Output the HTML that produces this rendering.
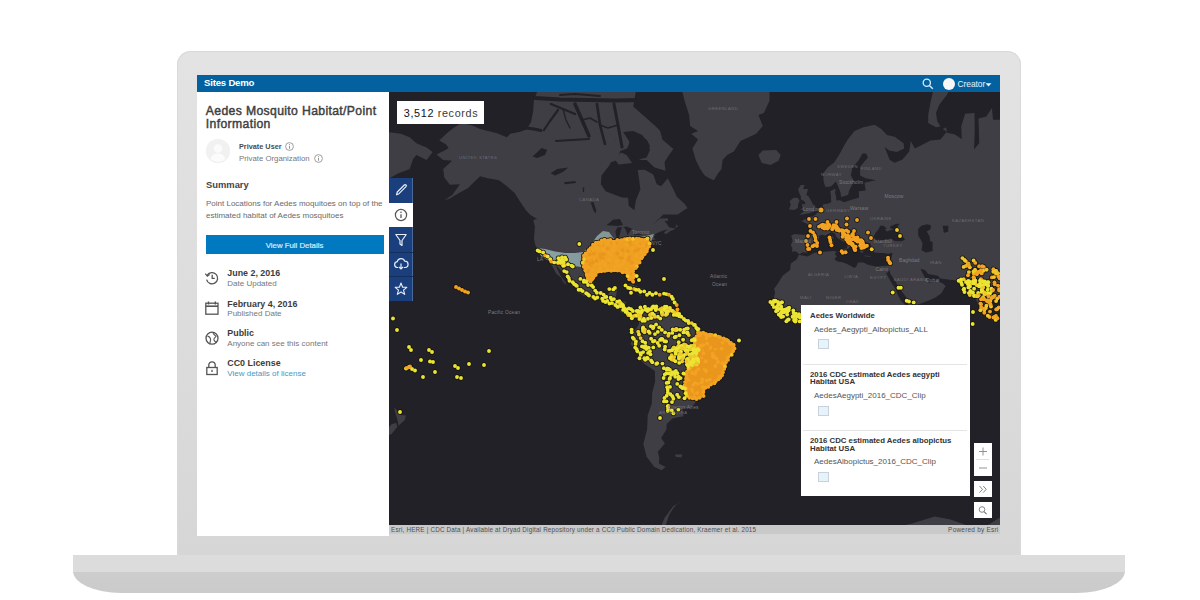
<!DOCTYPE html>
<html><head><meta charset="utf-8">
<style>
*{margin:0;padding:0;box-sizing:border-box}
html,body{width:1200px;height:600px;background:#fff;overflow:hidden;font-family:"Liberation Sans",sans-serif;position:relative}
.abs{position:absolute}
.t{position:absolute;line-height:1;white-space:nowrap}
#frame{left:177px;top:51px;width:844px;height:505px;background:linear-gradient(#e3e3e3,#dedede 40%,#d6d6d6);border-radius:14px 14px 0 0;box-shadow:inset 0 0 0 1px #d9d9d9}
#frame2{display:none}
#base{left:73px;top:555px;width:1052px;height:38px;border-radius:0 0 48px 48px/0 0 22px 22px;background:linear-gradient(#dcdcdc 0,#dcdcdc 17px,#cdcdcd 17px,#cbcbcb 100%)}
</style></head><body>
<div id="frame" class="abs"></div>
<div id="frame2" class="abs"></div>
<div id="base" class="abs"></div>
<div class="abs" style="left:197px;top:75px;width:803px;height:17px;background:#0461a0"></div>
<div class="t" style="left:204.0px;top:78.37px;font-size:9.6px;font-weight:bold;color:#fff;letter-spacing:-0.2px;">Sites Demo</div>

<div class="abs" style="left:197px;top:92px;width:192px;height:444px;background:#fff"></div>
<div class="t" style="left:205.8px;top:104.77px;font-size:12.2px;font-weight:normal;color:#404040;letter-spacing:0.36px;-webkit-text-stroke:0.45px #404040">Aedes Mosquito Habitat/Point</div>

<div class="t" style="left:205.8px;top:118.07px;font-size:12.2px;font-weight:normal;color:#404040;letter-spacing:0.36px;-webkit-text-stroke:0.45px #404040">Information</div>

<div class="abs" style="left:206px;top:139px;width:24px;height:24px;border-radius:50%;background:#f2f2f2"></div>
<div class="t" style="left:239.0px;top:142.72px;font-size:7.3px;font-weight:bold;color:#4a4a4a;letter-spacing:0px;">Private User</div>

<div class="t" style="left:239.0px;top:155.30px;font-size:7.8px;font-weight:normal;color:#777;letter-spacing:0px;">Private Organization</div>

<div class="t" style="left:206.0px;top:179.64px;font-size:9.4px;font-weight:bold;color:#444;letter-spacing:0px;">Summary</div>

<div class="t" style="left:206.0px;top:199.93px;font-size:8.0px;font-weight:normal;color:#6a6a6a;letter-spacing:0px;">Point Locations for Aedes moquitoes on top of the</div>

<div class="t" style="left:206.0px;top:211.63px;font-size:8.0px;font-weight:normal;color:#6a6a6a;letter-spacing:0px;">estimated habitat of Aedes mosquitoes</div>

<div class="abs" style="left:206px;top:235px;width:178px;height:19px;background:#0079c1"></div>
<div class="t" style="left:265.8px;top:241.80px;font-size:7.8px;font-weight:normal;color:#d6ecfb;letter-spacing:0px;-webkit-text-stroke:0.2px #d6ecfb">View Full Details</div>

<div class="t" style="left:227.3px;top:269.37px;font-size:8.9px;font-weight:bold;color:#3c3c3c;letter-spacing:0px;">June 2, 2016</div>

<div class="t" style="left:227.3px;top:279.53px;font-size:8.0px;font-weight:normal;color:#777;letter-spacing:0px;">Date Updated</div>

<div class="t" style="left:227.3px;top:299.62px;font-size:8.9px;font-weight:bold;color:#3c3c3c;letter-spacing:0px;">February 4, 2016</div>

<div class="t" style="left:227.3px;top:309.93px;font-size:8.0px;font-weight:normal;color:#777;letter-spacing:0px;">Published Date</div>

<div class="t" style="left:227.3px;top:328.77px;font-size:8.9px;font-weight:bold;color:#3c3c3c;letter-spacing:0px;">Public</div>

<div class="t" style="left:227.3px;top:339.93px;font-size:8.0px;font-weight:normal;color:#777;letter-spacing:0px;">Anyone can see this content</div>

<div class="t" style="left:227.3px;top:359.17px;font-size:8.9px;font-weight:bold;color:#3c3c3c;letter-spacing:0px;">CC0 License</div>

<div class="t" style="left:227.3px;top:369.73px;font-size:8.0px;font-weight:normal;color:#3f9ac4;letter-spacing:0px;">View details of license</div>

<div class="abs" id="map" style="left:389px;top:92px;width:611px;height:433px;background:#222127;overflow:hidden"><svg width="611" height="433" viewBox="0 0 611 433" style="position:absolute;left:0;top:0;filter:blur(0.4px)">
<g fill="#3f3e44"><path d="M478.9 445.6L501.2 436.7L523.6 431.2L545.9 424.4L561.6 427.5L579.5 433.9L583.9 442.5L597.3 433.9L613.0 424.4L635.3 420.8L635.3 524.1L478.9 524.1Z"/><path d="M136.9 -11.9L136.9 38.9L161.5 46.9L181.6 50.2L204.0 52.3L210.7 50.2L221.9 48.6L233.0 45.8L239.7 41.8L244.2 38.9L266.6 50.2L273.3 47.5L271.0 38.9L266.6 34.6L253.1 22.4L244.2 14.7L248.7 -11.9Z"/><path d="M539.2 30.9L547.0 35.2L551.5 34.6L548.2 29.0L547.0 21.0L550.4 12.5L558.2 2.5L561.6 -5.8L548.2 -7.5L543.7 0.9L541.5 10.2L539.2 23.0Z"/><path d="M553.7 37.1L558.2 40.0L557.1 35.2Z"/><path d="M47.5 62.6L56.5 58.1L59.6 56.0L56.9 52.3L50.2 48.6L58.7 40.6L65.4 35.2L72.6 30.9L83.3 33.4L91.1 37.1L107.9 41.2L117.9 45.2L121.3 41.8L130.2 40.0L136.9 37.7L144.3 37.7L152.6 41.8L161.5 45.2L170.4 48.0L181.6 49.1L190.6 50.2L204.0 51.3L210.7 49.1L212.9 41.8L211.8 27.0L217.4 24.4L220.7 41.8L226.3 47.5L233.0 43.5L239.7 41.8L240.8 55.5L231.2 59.1L228.6 67.9L221.9 70.2L220.3 73.4L212.5 83.4L211.8 92.3L216.7 99.2L226.3 102.9L233.0 105.4L239.1 105.7L239.7 113.7L245.3 118.3L246.9 108.2L251.4 97.3L249.8 85.5L248.7 77.8L257.6 77.0L264.3 82.6L267.7 92.3L272.1 94.3L278.8 86.3L284.4 97.3L287.8 104.7L295.6 111.7L298.5 116.0L293.4 119.3L288.9 122.5L274.4 122.5L268.8 127.8L264.3 132.6L271.0 126.6L278.8 126.3L279.3 128.4L275.5 129.3L278.2 132.3L280.0 135.3L285.5 136.5L288.9 134.4L287.8 132.3L285.5 137.6L281.1 139.3L276.6 142.4L275.0 140.2L279.3 137.3L273.3 138.8L268.8 140.8L266.1 142.2L264.8 145.8L266.6 147.4L263.2 148.2L258.1 149.8L257.6 150.6L257.4 153.3L255.4 155.1L254.3 157.2L253.1 159.7L254.3 164.3L251.4 165.5L248.9 167.2L246.0 169.2L242.4 172.1L241.1 175.6L243.1 181.5L244.0 186.0L242.2 188.0L240.2 185.8L238.2 181.5L238.4 178.4L236.4 177.0L232.4 177.5L229.7 175.9L226.3 175.6L223.0 176.3L223.6 179.1L220.7 178.9L218.5 178.0L212.9 178.0L210.0 179.4L205.8 181.9L205.1 187.1L204.4 193.8L205.8 198.2L208.4 201.4L211.8 203.1L217.4 202.3L219.6 202.3L221.0 197.1L228.3 196.0L227.4 202.5L225.6 207.8L230.8 208.0L237.0 209.9L236.4 216.2L237.5 220.3L240.8 222.4L245.3 221.3L249.8 223.2L250.2 224.0L247.6 225.8L243.1 225.8L239.7 224.0L231.5 220.3L230.8 217.2L227.4 214.1L223.0 213.0L217.4 210.9L211.8 207.6L206.2 208.2L199.9 206.1L195.0 203.8L187.2 199.2L187.9 196.0L185.0 192.3L180.5 187.6L176.0 182.6L172.2 179.1L166.6 172.8L168.2 176.8L171.6 183.7L176.5 190.5L177.4 192.9L173.8 189.4L172.5 186.0L167.1 181.5L164.4 176.3L161.3 170.9L158.2 167.2L153.5 165.8L150.6 160.8L149.2 157.7L146.3 153.3L145.0 146.6L145.9 134.7L144.3 128.1L148.1 126.9L141.4 123.1L136.9 118.3L131.3 109.9L125.7 101.0L117.9 94.3L110.1 88.3L98.9 86.3L91.1 84.2L84.4 90.7L78.8 96.2L69.9 101.0L60.9 106.5L55.3 108.2L63.2 102.9L71.0 92.3L60.9 92.7L55.3 85.5L54.2 77.0L63.2 68.8L54.2 67.9L47.5 62.6Z"/><path d="M276.6 79.6L265.4 75.6L257.6 67.9L249.8 67.9L261.0 53.9L257.6 47.5L245.3 41.8L233.0 40.0L221.9 29.6L226.3 16.1L244.2 14.7L253.1 22.4L266.6 34.6L271.0 38.9L273.3 47.5L284.4 57.0L280.0 63.1L275.5 70.2L276.6 79.6Z"/><path d="M197.3 43.5L189.4 46.3L169.3 46.9L160.4 41.8L158.2 29.6L161.5 19.6L177.2 22.4L188.3 19.6L196.1 29.6L197.3 43.5Z"/><path d="M142.5 26.4L153.7 31.5L161.5 26.4L159.3 11.0L145.9 10.2L142.5 26.4Z"/><path d="M204.0 16.1L197.3 24.4L206.2 29.6L208.4 23.0L214.0 12.5L204.0 13.2Z"/><path d="M210.7 23.0L221.9 25.1L224.1 13.9L210.7 11.0Z"/><path d="M217.4 6.4L244.2 8.7L244.2 -11.9L217.4 -11.9Z"/><path d="M163.7 8.7L188.3 4.9L190.6 -11.9L159.3 -11.9Z"/><path d="M195.0 4.9L208.4 6.4L212.9 -7.5L195.0 -7.5Z"/><path d="M229.7 72.5L243.1 71.1L237.5 63.1L231.9 60.6L226.3 67.9Z"/><path d="M324.9 88.3L329.1 81.3L332.5 77.0L333.6 67.9L338.1 63.1L344.8 59.6L351.5 49.1L367.1 41.8L373.8 34.0L369.4 23.0L374.9 21.0L380.5 8.7L380.5 -21.3L284.4 -21.3L293.4 0.1L295.6 8.7L300.1 23.0L301.2 34.0L309.0 38.9L302.3 41.8L309.0 47.5L303.4 56.5L306.8 67.9L311.2 77.0L315.7 83.4L321.3 86.7L324.9 88.3Z"/><path d="M369.4 63.1L373.8 58.6L387.2 58.1L391.7 63.1L389.5 68.8L381.7 72.9L372.7 71.1L369.4 63.1Z"/><path d="M485.6 32.8L492.3 37.1L497.9 42.9L505.7 44.7L514.6 51.3L515.1 56.5L507.9 60.1L500.1 58.6L495.6 55.0L500.8 67.9L505.7 70.7L513.5 67.4L520.2 59.6L521.8 49.1L525.8 56.5L541.5 48.6L551.5 47.5L557.1 40.6L566.0 42.4L572.7 46.9L572.3 34.0L576.1 21.7L585.5 21.0L585.7 38.9L585.0 57.6L590.2 51.3L589.5 26.4L597.3 24.4L602.9 16.1L604.0 27.7L610.7 27.7L617.4 12.5L646.5 -21.3L646.5 220.3L635.3 207.8L628.6 193.8L617.4 196.0L615.2 199.2L610.7 202.9L606.3 206.7L602.5 208.8L602.2 214.1L601.4 219.7L596.2 224.2L593.5 221.3L590.2 214.5L586.2 205.7L585.7 201.4L585.3 196.0L579.5 194.0L576.1 191.6L572.7 188.7L560.5 187.8L551.5 186.5L548.8 183.7L539.2 181.9L535.9 178.0L531.4 176.8L535.9 185.6L538.1 187.1L539.2 190.5L544.8 190.0L548.8 188.5L549.1 185.1L549.3 189.4L554.0 191.4L556.7 194.0L552.2 201.4L545.9 205.7L539.2 208.8L530.3 212.0L520.2 214.7L519.1 210.9L518.4 206.7L510.2 196.0L505.7 188.3L501.2 181.5L500.3 178.0L497.9 181.5L495.9 177.0L495.2 174.0L499.4 173.7L501.2 169.7L503.0 163.5L503.5 160.8L499.0 161.8L494.5 161.0L491.2 161.0L485.6 160.5L482.2 155.9L481.6 151.7L476.6 149.8L474.4 151.4L473.5 153.3L475.5 157.2L473.3 161.3L471.1 159.7L469.9 155.9L466.6 152.0L466.4 147.1L464.3 145.2L458.8 142.4L455.4 137.6L453.6 136.2L450.5 137.3L450.7 140.5L453.4 142.4L458.8 147.9L464.3 151.2L461.0 154.6L458.8 157.2L457.9 156.4L458.3 152.0L454.7 149.8L450.9 147.4L447.6 145.2L446.0 141.6L442.7 139.9L439.8 141.6L436.4 143.6L433.1 142.7L429.9 143.8L430.2 146.9L425.0 149.3L422.3 153.5L423.4 155.4L421.4 158.2L418.3 160.5L413.2 160.5L410.5 162.3L408.9 161.0L406.5 159.2L403.1 159.7L403.3 155.4L401.8 153.5L403.6 148.8L402.2 143.8L405.1 141.9L412.9 142.7L419.0 142.7L420.3 135.3L418.1 131.7L412.5 129.3L416.3 126.9L419.4 127.2L420.1 124.1L423.4 124.7L426.6 122.5L429.7 119.3L433.1 115.7L434.2 112.3L438.6 111.7L442.2 110.3L442.0 104.7L441.3 99.2L446.5 96.6L446.2 101.0L447.1 104.7L447.4 108.6L450.9 108.2L455.0 110.3L464.3 107.2L469.9 105.7L469.9 99.2L476.6 98.4L475.5 90.7L486.7 88.3L476.6 86.3L471.1 83.4L471.1 74.7L478.9 65.5L477.1 61.6L473.3 61.6L469.9 67.9L463.2 76.1L461.9 83.4L465.0 89.1L459.9 99.2L459.2 102.9L452.1 105.0L451.6 100.7L448.7 93.5L446.9 89.5L442.0 94.6L436.4 95.0L434.6 89.5L434.2 81.3L438.6 75.6L445.4 70.2L450.9 61.6L455.4 52.9L458.8 47.5L465.5 38.9L474.4 35.2L485.6 32.8Z"/><path d="M410.3 122.8L415.2 122.2L420.8 120.9L426.1 119.3L425.0 117.4L426.8 114.4L423.7 112.0L421.9 108.2L419.4 104.3L417.4 102.9L419.0 96.9L414.1 96.9L415.6 93.1L411.8 93.1L409.1 97.3L410.5 101.8L412.0 104.7L411.8 107.2L415.8 109.6L416.3 112.0L412.7 112.3L413.8 115.7L411.4 117.4L415.8 118.7L410.3 122.8Z"/><path d="M408.9 116.0L409.1 112.3L410.7 108.2L408.5 105.7L404.4 105.7L400.6 109.3L401.8 112.7L400.0 117.4L405.1 118.0L408.9 116.0Z"/><path d="M441.3 149.3L444.5 148.8L444.9 153.3L443.1 154.9L441.8 154.3Z"/><path d="M442.2 146.0L444.0 143.8L444.5 146.3L443.6 148.2L442.4 147.4Z"/><path d="M450.7 157.2L457.9 156.4L456.7 160.5L450.9 158.2Z"/><path d="M475.5 163.5L481.8 164.0L481.1 164.8L475.7 164.3Z"/><path d="M495.2 165.0L500.3 163.0L499.0 165.8L495.6 165.8Z"/><path d="M409.8 162.8L418.5 164.5L425.2 161.0L429.7 160.3L437.5 159.5L444.9 159.0L447.6 159.7L445.8 162.3L447.8 164.3L445.4 167.2L448.7 169.4L452.5 169.9L457.2 171.6L465.5 176.1L467.7 174.0L468.8 170.6L474.4 170.4L478.9 172.8L487.8 174.7L495.2 173.7L495.9 177.0L497.9 182.6L502.3 190.5L506.4 197.1L509.0 203.5L512.0 208.8L516.9 213.7L519.8 217.0L522.5 219.5L530.3 217.8L537.7 216.6L537.0 219.5L534.8 224.4L530.3 231.6L524.7 236.6L519.1 241.7L512.4 246.8L510.8 252.9L513.5 262.1L513.5 271.5L501.2 282.2L502.3 290.9L496.5 295.4L495.6 302.3L492.3 304.6L485.6 311.0L480.0 314.2L467.7 316.1L464.1 314.2L463.2 309.3L459.9 301.3L456.5 296.5L455.4 288.5L449.8 277.9L449.4 274.7L450.5 267.3L452.7 259.0L450.3 252.9L444.2 244.8L443.8 239.7L444.9 233.6L442.0 231.6L436.4 232.0L433.1 227.9L427.5 227.9L418.5 230.9L406.2 231.8L397.3 226.7L393.3 222.8L389.5 218.4L385.5 215.1L383.9 210.5L386.1 200.3L385.0 197.1L389.5 190.5L393.5 183.7L401.1 178.0L401.8 171.4L407.8 167.2L409.8 162.8Z"/><path d="M533.2 265.2L535.9 272.6L528.0 293.1L521.3 292.0L520.2 282.2L525.8 272.6Z"/><path d="M250.2 223.2L254.3 219.3L258.7 217.6L263.2 215.3L263.0 218.2L266.6 216.2L271.0 219.3L280.0 219.1L285.5 219.1L287.8 223.4L295.6 228.5L304.5 229.5L307.9 232.2L311.2 237.0L314.6 242.7L323.5 245.8L335.8 246.8L344.3 251.9L345.2 255.4L343.2 260.5L337.0 267.3L335.8 277.2L332.9 283.2L329.1 288.7L323.5 289.4L314.6 294.9L314.2 301.1L309.0 306.9L304.1 313.4L300.1 316.6L293.4 315.4L294.5 324.2L283.8 326.3L277.7 332.1L277.5 337.6L272.1 346.1L275.9 351.5L268.8 359.8L270.3 365.7L269.9 371.5L276.6 374.9L272.6 378.2L265.4 374.9L257.6 364.7L254.3 352.1L258.1 337.6L258.7 322.9L262.8 311.7L263.2 301.1L266.1 289.8L265.9 278.9L255.4 272.1L252.0 268.4L245.3 256.0L241.5 251.9L243.5 247.6L242.2 244.8L244.2 239.1L246.9 237.0L249.8 232.6L250.2 227.5L248.9 225.8L250.2 223.2Z"/><path d="M233.2 195.1L237.5 192.7L240.8 192.3L244.2 192.7L249.8 195.3L254.3 197.1L257.2 198.8L249.3 199.5L247.6 197.1L240.8 195.3Z"/><path d="M256.5 202.7L261.0 199.5L267.0 200.3L270.3 202.3L263.2 204.4Z"/><path d="M248.0 202.5L252.7 203.1L252.0 203.8L248.7 203.1Z"/><path d="M272.8 202.5L276.4 202.7L276.2 203.5L272.8 203.5Z"/><path d="M43.7 60.1L37.5 67.9L27.4 63.1L24.1 66.9L20.7 77.0L9.5 81.3L-1.6 87.5L-24.0 95.4L-24.0 38.9L-1.6 40.0L11.8 41.8L20.7 45.2L27.4 51.3L37.5 55.5Z"/><path d="M5.1 315.2L11.8 322.9L16.9 323.4L15.8 328.1L9.5 333.7L8.4 327.6L6.2 320.4Z"/><path d="M7.3 331.0L8.4 334.8L2.8 341.8L-8.4 347.3L-9.5 344.7L2.8 332.1Z"/><path d="M295.6 408.0L288.9 411.2L284.4 415.9L280.0 423.3L276.6 433.9L273.3 455.0L266.6 455.0L271.0 436.7L275.5 425.9L284.4 414.0Z"/><path d="M74.3 198.8L76.6 200.8L74.8 201.6Z"/><path d="M286.0 362.4L293.4 362.4L292.3 365.4L286.7 364.7Z"/><path d="M601.4 220.7L605.8 225.4L604.0 228.5L601.8 227.5Z"/></g><g fill="#222127"><path d="M484.5 145.2L485.6 142.4L487.1 140.2L489.4 137.6L491.2 133.8L494.5 133.8L497.9 136.7L495.6 137.3L497.9 139.6L504.6 137.3L501.2 136.2L501.2 134.4L506.8 132.0L510.6 131.7L507.9 135.3L506.6 138.5L507.9 139.9L512.4 142.7L516.0 147.7L512.4 149.3L505.7 149.0L501.2 146.6L493.4 148.8L487.8 148.8L485.6 146.6L484.5 145.2Z"/><path d="M529.2 143.8L529.2 136.7L532.5 133.8L538.1 132.3L541.9 133.2L541.5 137.3L537.7 139.6L540.6 144.4L541.0 149.3L543.7 149.8L543.5 155.9L543.7 159.0L537.0 160.5L532.5 158.2L533.6 151.4L531.4 147.1L529.2 143.8Z"/><path d="M553.7 133.8L559.3 133.8L559.3 139.6L554.9 141.0Z"/><path d="M234.1 40.0L244.2 38.9L253.1 42.9L258.7 50.2L261.0 58.1L257.6 65.5L248.7 67.9L242.0 63.1L237.5 58.1L240.8 50.2Z"/><path d="M244.2 74.7L248.7 67.9L262.1 74.7L277.7 79.1L278.8 85.5L266.6 83.4L255.4 77.8L248.7 77.8Z"/><path d="M143.6 64.5L152.6 56.0L158.2 58.1L155.9 63.1L148.1 66.0Z"/><path d="M161.5 81.3L168.2 77.0L179.4 75.6L173.8 80.0L166.0 83.4Z"/><path d="M174.9 90.3L186.1 89.1L187.2 91.1L176.0 92.3Z"/><path d="M201.7 110.6L204.4 109.9L207.3 118.3L206.2 121.6L204.4 118.3Z"/><path d="M193.7 95.4L195.3 95.4L195.0 99.9L193.9 99.9Z"/><path d="M217.4 133.2L224.1 127.8L230.8 126.9L234.1 132.9L228.6 134.1L221.9 133.5Z"/><path d="M226.3 139.6L228.1 147.7L230.1 145.2L231.9 138.2L233.0 135.3L228.6 135.3Z"/><path d="M234.1 135.3L236.4 136.7L238.6 143.3L240.8 139.6L243.1 136.7L237.5 134.4Z"/><path d="M236.4 147.7L242.0 147.9L246.7 144.4L240.8 144.9Z"/><path d="M244.6 143.3L252.7 142.7L252.5 140.5L245.3 141.9Z"/></g><path d="M111.0 0.0L148.0 0.0L145.0 8.0L144.0 20.0L142.0 30.0L139.0 35.0L131.0 39.0L116.0 42.0L111.0 42.0Z" fill="#222127"/><path d="M251.0 0.0L266.0 0.0L261.0 4.0L252.0 6.0Z" fill="#222127"/><path d="M146.0 6.0L171.0 7.5L201.0 8.0L226.0 8.5L251.0 8.0" fill="none" stroke="#222127" stroke-width="4.0" stroke-linecap="round" stroke-linejoin="round"/><path d="M137.0 36.0L145.0 37.0L152.0 38.5" fill="none" stroke="#222127" stroke-width="3.0" stroke-linecap="round" stroke-linejoin="round"/><path d="M155.0 38.0L161.0 29.0L169.0 18.0" fill="none" stroke="#222127" stroke-width="2.2" stroke-linecap="round" stroke-linejoin="round"/><path d="M162.0 12.0L174.0 17.0L186.0 22.0" fill="none" stroke="#222127" stroke-width="2.4" stroke-linecap="round" stroke-linejoin="round"/><path d="M167.0 49.0L183.0 48.0L200.0 47.0" fill="none" stroke="#222127" stroke-width="2.0" stroke-linecap="round" stroke-linejoin="round"/><path d="M186.0 12.0L193.0 28.0L200.0 44.0" fill="none" stroke="#222127" stroke-width="3.5" stroke-linecap="round" stroke-linejoin="round"/><path d="M208.0 12.0L211.0 33.0L216.0 52.0" fill="none" stroke="#222127" stroke-width="2.6" stroke-linecap="round" stroke-linejoin="round"/><path d="M225.0 12.0L229.0 33.0L233.0 55.0" fill="none" stroke="#222127" stroke-width="3.0" stroke-linecap="round" stroke-linejoin="round"/><path d="M171.0 3.0L186.0 2.0L211.0 4.0" fill="none" stroke="#222127" stroke-width="2.0" stroke-linecap="round" stroke-linejoin="round"/><path d="M193.0 28.0L201.0 26.0L208.0 30.0" fill="none" stroke="#222127" stroke-width="1.6" stroke-linecap="round" stroke-linejoin="round"/><path d="M211.0 33.0L219.0 36.0L229.0 33.0" fill="none" stroke="#222127" stroke-width="1.4" stroke-linecap="round" stroke-linejoin="round"/><path d="M174.0 17.0L177.0 28.0L181.0 36.0" fill="none" stroke="#222127" stroke-width="1.4" stroke-linecap="round" stroke-linejoin="round"/>
<defs><linearGradient id="hg" x1="0" x2="1" y1="0" y2="0"><stop offset="0" stop-color="#93aeb3"/><stop offset="0.45" stop-color="#8aa3a6"/><stop offset="1" stop-color="#8e9c86"/></linearGradient></defs><path d="M148.0 156.0L156.0 157.0L166.0 159.5L176.0 161.0L186.0 161.0L194.0 160.0L201.0 154.0L208.0 144.0L214.0 139.0L220.0 140.0L225.0 147.0L231.0 146.0L247.0 146.0L265.0 142.0L261.0 152.0L251.0 156.0L197.0 170.0L196.0 176.0L189.0 174.5L179.0 174.0L169.0 173.0L160.0 169.0L152.0 164.0Z" fill="url(#hg)" opacity="0.9"/>
<path d="M195.0 164.0L201.0 156.0L207.0 151.0L215.0 148.0L225.0 149.0L235.0 147.0L247.0 147.0L259.0 147.0L261.0 152.0L257.0 160.0L252.0 167.0L248.0 174.0L244.0 179.0L245.0 185.0L244.0 190.0L240.0 187.0L237.0 181.0L229.0 179.0L219.0 179.0L209.0 180.0L205.0 185.0L202.0 190.0L198.0 187.0L196.0 179.0L194.0 171.0Z" fill="#16150e" stroke="#16150e" stroke-width="3"/><path d="M309.0 240.0L323.0 243.0L337.0 247.0L345.0 253.0L346.0 257.0L340.0 265.0L336.0 274.0L333.0 283.0L325.0 291.0L316.0 296.0L314.0 304.0L307.0 307.0L298.0 304.0L296.0 293.0L298.0 280.0L301.0 270.0L305.0 258.0L307.0 248.0Z" fill="#16150e" stroke="#16150e" stroke-width="3"/>
<g fill="#16150e"><circle cx="215.7" cy="153.5" r="2.70"/><circle cx="198.9" cy="170.0" r="2.70"/><circle cx="197.9" cy="168.8" r="2.70"/><circle cx="223.1" cy="150.0" r="2.70"/><circle cx="202.3" cy="156.6" r="2.70"/><circle cx="213.4" cy="153.2" r="2.70"/><circle cx="206.1" cy="172.0" r="2.70"/><circle cx="219.0" cy="170.6" r="2.70"/><circle cx="239.6" cy="165.4" r="2.70"/><circle cx="233.2" cy="166.5" r="2.70"/><circle cx="210.4" cy="171.7" r="2.70"/><circle cx="201.9" cy="165.0" r="2.70"/><circle cx="204.2" cy="168.0" r="2.70"/><circle cx="238.8" cy="179.9" r="2.70"/><circle cx="252.7" cy="160.5" r="2.70"/><circle cx="233.8" cy="171.9" r="2.70"/><circle cx="225.8" cy="175.6" r="2.70"/><circle cx="241.0" cy="174.8" r="2.70"/><circle cx="249.1" cy="159.2" r="2.70"/><circle cx="238.8" cy="148.0" r="2.70"/><circle cx="197.9" cy="180.0" r="2.70"/><circle cx="210.6" cy="163.8" r="2.70"/><circle cx="199.4" cy="166.3" r="2.70"/><circle cx="251.9" cy="159.0" r="2.70"/><circle cx="258.2" cy="153.5" r="2.70"/><circle cx="209.5" cy="157.0" r="2.70"/><circle cx="233.5" cy="158.3" r="2.70"/><circle cx="222.1" cy="162.9" r="2.70"/><circle cx="228.5" cy="173.6" r="2.70"/><circle cx="247.5" cy="163.9" r="2.70"/><circle cx="200.9" cy="174.3" r="2.70"/><circle cx="204.9" cy="161.6" r="2.70"/><circle cx="200.8" cy="162.6" r="2.70"/><circle cx="204.0" cy="157.8" r="2.70"/><circle cx="218.4" cy="152.3" r="2.70"/><circle cx="226.4" cy="150.7" r="2.70"/><circle cx="217.0" cy="158.4" r="2.70"/><circle cx="203.8" cy="170.4" r="2.70"/><circle cx="211.5" cy="162.8" r="2.70"/><circle cx="245.7" cy="169.9" r="2.70"/><circle cx="216.1" cy="156.6" r="2.70"/><circle cx="243.6" cy="156.7" r="2.70"/><circle cx="211.4" cy="176.8" r="2.70"/><circle cx="218.4" cy="156.5" r="2.70"/><circle cx="207.2" cy="155.8" r="2.70"/><circle cx="226.1" cy="175.1" r="2.70"/><circle cx="199.7" cy="175.4" r="2.70"/><circle cx="226.0" cy="154.7" r="2.70"/><circle cx="242.6" cy="154.3" r="2.70"/><circle cx="204.1" cy="185.9" r="2.70"/><circle cx="203.8" cy="182.5" r="2.70"/><circle cx="238.0" cy="162.1" r="2.70"/><circle cx="249.4" cy="156.1" r="2.70"/><circle cx="213.6" cy="157.3" r="2.70"/><circle cx="211.4" cy="165.0" r="2.70"/><circle cx="255.0" cy="162.2" r="2.70"/><circle cx="227.6" cy="169.9" r="2.70"/><circle cx="195.3" cy="165.9" r="2.70"/><circle cx="205.5" cy="167.4" r="2.70"/><circle cx="231.3" cy="161.0" r="2.70"/><circle cx="201.1" cy="171.1" r="2.70"/><circle cx="228.0" cy="171.2" r="2.70"/><circle cx="235.0" cy="168.7" r="2.70"/><circle cx="240.4" cy="166.5" r="2.70"/><circle cx="240.8" cy="184.7" r="2.70"/><circle cx="211.4" cy="171.1" r="2.70"/><circle cx="250.3" cy="152.9" r="2.70"/><circle cx="223.6" cy="150.1" r="2.70"/><circle cx="198.9" cy="175.8" r="2.70"/><circle cx="254.1" cy="153.6" r="2.70"/><circle cx="238.2" cy="153.1" r="2.70"/><circle cx="249.8" cy="153.9" r="2.70"/><circle cx="228.5" cy="161.6" r="2.70"/><circle cx="215.3" cy="178.1" r="2.70"/><circle cx="231.1" cy="165.9" r="2.70"/><circle cx="216.2" cy="173.8" r="2.70"/><circle cx="201.0" cy="158.4" r="2.70"/><circle cx="246.2" cy="158.6" r="2.70"/><circle cx="248.9" cy="158.1" r="2.70"/><circle cx="240.9" cy="150.8" r="2.70"/><circle cx="240.1" cy="165.3" r="2.70"/><circle cx="247.7" cy="150.6" r="2.70"/><circle cx="198.5" cy="184.1" r="2.70"/><circle cx="216.7" cy="170.8" r="2.70"/><circle cx="211.9" cy="152.6" r="2.70"/><circle cx="210.0" cy="151.7" r="2.70"/><circle cx="214.9" cy="160.1" r="2.70"/><circle cx="213.4" cy="168.5" r="2.70"/><circle cx="243.1" cy="170.7" r="2.70"/><circle cx="201.1" cy="182.2" r="2.70"/><circle cx="220.3" cy="168.8" r="2.70"/><circle cx="236.6" cy="164.4" r="2.70"/><circle cx="198.7" cy="178.9" r="2.70"/><circle cx="238.9" cy="159.1" r="2.70"/><circle cx="213.6" cy="166.8" r="2.70"/><circle cx="223.9" cy="158.3" r="2.70"/><circle cx="214.7" cy="162.3" r="2.70"/><circle cx="219.6" cy="167.4" r="2.70"/><circle cx="207.5" cy="168.7" r="2.70"/><circle cx="211.7" cy="150.9" r="2.70"/><circle cx="214.4" cy="157.0" r="2.70"/><circle cx="238.1" cy="177.8" r="2.70"/><circle cx="220.1" cy="161.0" r="2.70"/><circle cx="204.0" cy="178.1" r="2.70"/><circle cx="243.2" cy="181.9" r="2.70"/><circle cx="229.1" cy="168.7" r="2.70"/><circle cx="239.8" cy="176.8" r="2.70"/><circle cx="218.2" cy="151.5" r="2.70"/><circle cx="231.4" cy="174.0" r="2.70"/><circle cx="239.6" cy="168.0" r="2.70"/><circle cx="227.7" cy="170.0" r="2.70"/><circle cx="198.4" cy="178.7" r="2.70"/><circle cx="242.9" cy="155.8" r="2.70"/><circle cx="219.6" cy="167.6" r="2.70"/><circle cx="245.4" cy="173.5" r="2.70"/><circle cx="211.0" cy="179.0" r="2.70"/><circle cx="239.0" cy="176.8" r="2.70"/><circle cx="213.5" cy="169.2" r="2.70"/><circle cx="225.2" cy="152.1" r="2.70"/><circle cx="256.7" cy="147.8" r="2.70"/><circle cx="194.9" cy="163.7" r="2.70"/><circle cx="196.6" cy="161.4" r="2.70"/><circle cx="199.6" cy="158.2" r="2.70"/><circle cx="201.5" cy="156.3" r="2.70"/><circle cx="204.0" cy="152.8" r="2.70"/><circle cx="206.9" cy="150.7" r="2.70"/><circle cx="209.4" cy="150.5" r="2.70"/><circle cx="212.8" cy="148.5" r="2.70"/><circle cx="215.6" cy="147.7" r="2.70"/><circle cx="219.0" cy="148.5" r="2.70"/><circle cx="221.4" cy="148.0" r="2.70"/><circle cx="224.7" cy="149.6" r="2.70"/><circle cx="228.3" cy="147.9" r="2.70"/><circle cx="232.2" cy="148.1" r="2.70"/><circle cx="235.6" cy="147.1" r="2.70"/><circle cx="238.3" cy="146.9" r="2.70"/><circle cx="240.7" cy="146.4" r="2.70"/><circle cx="244.0" cy="146.8" r="2.70"/><circle cx="247.7" cy="146.7" r="2.70"/><circle cx="250.1" cy="146.9" r="2.70"/><circle cx="252.6" cy="147.6" r="2.70"/><circle cx="256.6" cy="147.7" r="2.70"/><circle cx="258.6" cy="146.4" r="2.70"/><circle cx="260.6" cy="151.7" r="2.70"/><circle cx="260.0" cy="154.5" r="2.70"/><circle cx="258.2" cy="157.1" r="2.70"/><circle cx="257.7" cy="159.5" r="2.70"/><circle cx="255.8" cy="161.9" r="2.70"/><circle cx="253.5" cy="164.6" r="2.70"/><circle cx="252.5" cy="166.3" r="2.70"/><circle cx="250.6" cy="170.5" r="2.70"/><circle cx="247.8" cy="174.6" r="2.70"/><circle cx="246.7" cy="176.1" r="2.70"/><circle cx="244.0" cy="179.3" r="2.70"/><circle cx="244.7" cy="182.4" r="2.70"/><circle cx="244.4" cy="185.4" r="2.70"/><circle cx="244.2" cy="189.7" r="2.70"/><circle cx="240.2" cy="187.3" r="2.70"/><circle cx="238.5" cy="184.1" r="2.70"/><circle cx="237.1" cy="180.3" r="2.70"/><circle cx="233.6" cy="180.2" r="2.70"/><circle cx="228.6" cy="178.6" r="2.70"/><circle cx="225.4" cy="178.3" r="2.70"/><circle cx="222.2" cy="178.7" r="2.70"/><circle cx="218.6" cy="178.3" r="2.70"/><circle cx="215.9" cy="178.9" r="2.70"/><circle cx="212.3" cy="179.3" r="2.70"/><circle cx="209.4" cy="179.6" r="2.70"/><circle cx="206.7" cy="183.1" r="2.70"/><circle cx="204.6" cy="184.9" r="2.70"/><circle cx="203.0" cy="187.4" r="2.70"/><circle cx="201.5" cy="189.4" r="2.70"/><circle cx="198.6" cy="187.5" r="2.70"/><circle cx="197.6" cy="182.8" r="2.70"/><circle cx="196.3" cy="178.3" r="2.70"/><circle cx="194.8" cy="174.8" r="2.70"/><circle cx="193.7" cy="170.8" r="2.70"/><circle cx="195.1" cy="167.1" r="2.70"/><circle cx="313.8" cy="295.0" r="2.70"/><circle cx="317.6" cy="243.3" r="2.70"/><circle cx="305.7" cy="264.4" r="2.70"/><circle cx="299.1" cy="301.6" r="2.70"/><circle cx="313.0" cy="258.2" r="2.70"/><circle cx="326.8" cy="257.6" r="2.70"/><circle cx="311.8" cy="258.5" r="2.70"/><circle cx="308.6" cy="268.8" r="2.70"/><circle cx="342.4" cy="252.3" r="2.70"/><circle cx="312.4" cy="261.4" r="2.70"/><circle cx="305.9" cy="290.4" r="2.70"/><circle cx="323.6" cy="261.8" r="2.70"/><circle cx="309.2" cy="245.6" r="2.70"/><circle cx="320.9" cy="287.6" r="2.70"/><circle cx="307.7" cy="267.9" r="2.70"/><circle cx="302.1" cy="296.3" r="2.70"/><circle cx="324.3" cy="265.0" r="2.70"/><circle cx="306.0" cy="256.6" r="2.70"/><circle cx="303.7" cy="299.2" r="2.70"/><circle cx="312.3" cy="266.5" r="2.70"/><circle cx="321.4" cy="255.5" r="2.70"/><circle cx="301.1" cy="271.8" r="2.70"/><circle cx="309.0" cy="292.1" r="2.70"/><circle cx="301.3" cy="279.9" r="2.70"/><circle cx="306.9" cy="264.7" r="2.70"/><circle cx="306.2" cy="257.1" r="2.70"/><circle cx="328.6" cy="253.6" r="2.70"/><circle cx="312.4" cy="285.4" r="2.70"/><circle cx="311.6" cy="253.6" r="2.70"/><circle cx="323.4" cy="244.2" r="2.70"/><circle cx="315.8" cy="276.9" r="2.70"/><circle cx="330.8" cy="267.5" r="2.70"/><circle cx="311.4" cy="303.9" r="2.70"/><circle cx="324.3" cy="263.9" r="2.70"/><circle cx="314.2" cy="253.2" r="2.70"/><circle cx="337.0" cy="267.2" r="2.70"/><circle cx="319.0" cy="250.9" r="2.70"/><circle cx="323.6" cy="282.9" r="2.70"/><circle cx="300.5" cy="281.7" r="2.70"/><circle cx="321.2" cy="249.8" r="2.70"/><circle cx="301.4" cy="272.9" r="2.70"/><circle cx="344.3" cy="253.2" r="2.70"/><circle cx="320.1" cy="243.6" r="2.70"/><circle cx="304.0" cy="292.7" r="2.70"/><circle cx="337.5" cy="252.3" r="2.70"/><circle cx="316.0" cy="274.7" r="2.70"/><circle cx="337.9" cy="247.9" r="2.70"/><circle cx="323.5" cy="282.0" r="2.70"/><circle cx="317.0" cy="279.0" r="2.70"/><circle cx="328.9" cy="269.9" r="2.70"/><circle cx="320.5" cy="255.8" r="2.70"/><circle cx="335.0" cy="270.7" r="2.70"/><circle cx="319.7" cy="247.2" r="2.70"/><circle cx="317.5" cy="246.1" r="2.70"/><circle cx="321.5" cy="242.7" r="2.70"/><circle cx="300.1" cy="289.1" r="2.70"/><circle cx="321.6" cy="243.6" r="2.70"/><circle cx="302.8" cy="297.4" r="2.70"/><circle cx="305.7" cy="305.8" r="2.70"/><circle cx="304.3" cy="292.8" r="2.70"/><circle cx="333.8" cy="250.6" r="2.70"/><circle cx="309.7" cy="294.6" r="2.70"/><circle cx="306.4" cy="257.6" r="2.70"/><circle cx="312.0" cy="242.5" r="2.70"/><circle cx="304.1" cy="302.7" r="2.70"/><circle cx="340.8" cy="251.3" r="2.70"/><circle cx="301.8" cy="275.6" r="2.70"/><circle cx="314.0" cy="298.5" r="2.70"/><circle cx="327.5" cy="266.4" r="2.70"/><circle cx="324.9" cy="264.1" r="2.70"/><circle cx="318.1" cy="251.8" r="2.70"/><circle cx="298.4" cy="294.9" r="2.70"/><circle cx="325.3" cy="284.5" r="2.70"/><circle cx="303.5" cy="281.3" r="2.70"/><circle cx="307.2" cy="279.1" r="2.70"/><circle cx="306.2" cy="281.8" r="2.70"/><circle cx="302.7" cy="302.8" r="2.70"/><circle cx="335.1" cy="266.9" r="2.70"/><circle cx="324.1" cy="263.5" r="2.70"/><circle cx="332.7" cy="256.6" r="2.70"/><circle cx="316.3" cy="255.9" r="2.70"/><circle cx="326.4" cy="274.0" r="2.70"/><circle cx="336.7" cy="251.7" r="2.70"/><circle cx="311.0" cy="243.2" r="2.70"/><circle cx="333.3" cy="271.2" r="2.70"/><circle cx="318.6" cy="255.1" r="2.70"/><circle cx="312.8" cy="290.2" r="2.70"/><circle cx="309.3" cy="277.1" r="2.70"/><circle cx="335.4" cy="275.1" r="2.70"/><circle cx="306.8" cy="299.0" r="2.70"/><circle cx="309.0" cy="255.8" r="2.70"/><circle cx="312.3" cy="299.0" r="2.70"/><circle cx="308.0" cy="300.8" r="2.70"/><circle cx="330.6" cy="284.6" r="2.70"/><circle cx="317.9" cy="288.5" r="2.70"/><circle cx="311.4" cy="254.2" r="2.70"/><circle cx="299.9" cy="301.0" r="2.70"/><circle cx="298.1" cy="286.4" r="2.70"/><circle cx="299.3" cy="279.6" r="2.70"/><circle cx="297.7" cy="296.8" r="2.70"/><circle cx="327.6" cy="259.3" r="2.70"/><circle cx="300.9" cy="290.7" r="2.70"/><circle cx="312.0" cy="268.4" r="2.70"/><circle cx="308.8" cy="258.9" r="2.70"/><circle cx="314.4" cy="261.5" r="2.70"/><circle cx="316.6" cy="269.2" r="2.70"/><circle cx="313.3" cy="287.2" r="2.70"/><circle cx="306.8" cy="297.8" r="2.70"/><circle cx="337.0" cy="251.4" r="2.70"/><circle cx="306.1" cy="291.1" r="2.70"/><circle cx="309.0" cy="240.4" r="2.70"/><circle cx="311.6" cy="241.1" r="2.70"/><circle cx="314.3" cy="240.8" r="2.70"/><circle cx="316.9" cy="242.0" r="2.70"/><circle cx="320.5" cy="242.8" r="2.70"/><circle cx="322.9" cy="242.9" r="2.70"/><circle cx="326.3" cy="243.1" r="2.70"/><circle cx="329.2" cy="244.6" r="2.70"/><circle cx="331.0" cy="245.3" r="2.70"/><circle cx="334.6" cy="246.4" r="2.70"/><circle cx="336.5" cy="247.5" r="2.70"/><circle cx="339.2" cy="248.9" r="2.70"/><circle cx="341.8" cy="250.9" r="2.70"/><circle cx="344.6" cy="252.7" r="2.70"/><circle cx="345.5" cy="256.5" r="2.70"/><circle cx="344.0" cy="259.2" r="2.70"/><circle cx="342.7" cy="262.7" r="2.70"/><circle cx="339.4" cy="264.8" r="2.70"/><circle cx="339.0" cy="267.9" r="2.70"/><circle cx="336.8" cy="270.6" r="2.70"/><circle cx="335.9" cy="274.4" r="2.70"/><circle cx="335.2" cy="276.9" r="2.70"/><circle cx="333.9" cy="280.3" r="2.70"/><circle cx="333.1" cy="283.3" r="2.70"/><circle cx="331.3" cy="285.5" r="2.70"/><circle cx="329.5" cy="287.3" r="2.70"/><circle cx="326.7" cy="289.2" r="2.70"/><circle cx="325.4" cy="291.3" r="2.70"/><circle cx="321.9" cy="292.6" r="2.70"/><circle cx="319.2" cy="294.9" r="2.70"/><circle cx="316.4" cy="295.8" r="2.70"/><circle cx="314.4" cy="300.1" r="2.70"/><circle cx="314.6" cy="304.0" r="2.70"/><circle cx="310.6" cy="305.8" r="2.70"/><circle cx="307.5" cy="307.0" r="2.70"/><circle cx="303.6" cy="306.3" r="2.70"/><circle cx="300.5" cy="305.7" r="2.70"/><circle cx="297.7" cy="303.9" r="2.70"/><circle cx="297.2" cy="300.6" r="2.70"/><circle cx="296.3" cy="297.0" r="2.70"/><circle cx="295.6" cy="293.4" r="2.70"/><circle cx="296.0" cy="290.1" r="2.70"/><circle cx="297.0" cy="286.6" r="2.70"/><circle cx="297.3" cy="283.4" r="2.70"/><circle cx="298.0" cy="279.7" r="2.70"/><circle cx="299.5" cy="276.5" r="2.70"/><circle cx="299.8" cy="273.0" r="2.70"/><circle cx="300.3" cy="270.3" r="2.70"/><circle cx="301.7" cy="267.0" r="2.70"/><circle cx="303.2" cy="263.8" r="2.70"/><circle cx="303.4" cy="261.5" r="2.70"/><circle cx="304.5" cy="258.5" r="2.70"/><circle cx="305.0" cy="255.3" r="2.70"/><circle cx="305.8" cy="250.8" r="2.70"/><circle cx="306.8" cy="247.5" r="2.70"/><circle cx="307.5" cy="244.5" r="2.70"/><circle cx="298.1" cy="270.0" r="2.70"/><circle cx="307.5" cy="270.1" r="2.70"/><circle cx="284.5" cy="267.9" r="2.70"/><circle cx="302.5" cy="262.1" r="2.70"/><circle cx="296.3" cy="258.1" r="2.70"/><circle cx="282.6" cy="263.3" r="2.70"/><circle cx="293.4" cy="255.3" r="2.70"/><circle cx="294.4" cy="264.4" r="2.70"/><circle cx="293.4" cy="264.9" r="2.70"/><circle cx="305.7" cy="260.6" r="2.70"/><circle cx="299.0" cy="266.6" r="2.70"/><circle cx="298.1" cy="267.7" r="2.70"/><circle cx="294.9" cy="263.1" r="2.70"/><circle cx="298.6" cy="259.8" r="2.70"/><circle cx="290.1" cy="262.9" r="2.70"/><circle cx="303.4" cy="256.8" r="2.70"/><circle cx="291.9" cy="264.7" r="2.70"/><circle cx="291.3" cy="263.6" r="2.70"/><circle cx="299.6" cy="270.2" r="2.70"/><circle cx="288.5" cy="258.9" r="2.70"/><circle cx="298.9" cy="270.0" r="2.70"/><circle cx="301.8" cy="272.4" r="2.70"/><circle cx="279.6" cy="258.9" r="2.70"/><circle cx="298.1" cy="267.1" r="2.70"/><circle cx="308.0" cy="266.1" r="2.70"/><circle cx="298.7" cy="268.0" r="2.70"/><circle cx="300.5" cy="256.9" r="2.70"/><circle cx="293.1" cy="269.5" r="2.70"/><circle cx="303.6" cy="273.0" r="2.70"/><circle cx="290.2" cy="270.9" r="2.70"/><circle cx="296.5" cy="257.9" r="2.70"/><circle cx="291.9" cy="259.3" r="2.70"/><circle cx="299.2" cy="273.5" r="2.70"/><circle cx="296.7" cy="252.9" r="2.70"/><circle cx="304.7" cy="265.2" r="2.70"/><circle cx="290.8" cy="265.6" r="2.70"/><circle cx="291.6" cy="254.3" r="2.70"/><circle cx="285.0" cy="255.5" r="2.70"/><circle cx="301.7" cy="257.6" r="2.70"/><circle cx="303.5" cy="268.4" r="2.70"/><circle cx="302.1" cy="253.9" r="2.70"/><circle cx="301.4" cy="262.6" r="2.70"/><circle cx="305.0" cy="253.8" r="2.70"/><circle cx="302.1" cy="255.8" r="2.70"/><circle cx="294.0" cy="253.4" r="2.70"/><circle cx="297.0" cy="262.1" r="2.70"/><circle cx="290.0" cy="266.8" r="2.70"/><circle cx="291.8" cy="260.9" r="2.70"/><circle cx="309.2" cy="270.0" r="2.70"/><circle cx="305.3" cy="259.6" r="2.70"/><circle cx="297.8" cy="259.1" r="2.70"/><circle cx="307.3" cy="260.7" r="2.70"/><circle cx="297.9" cy="272.6" r="2.70"/><circle cx="286.7" cy="261.7" r="2.70"/><circle cx="304.9" cy="272.4" r="2.70"/><circle cx="305.5" cy="270.7" r="2.70"/><circle cx="296.9" cy="258.3" r="2.70"/><circle cx="304.6" cy="267.7" r="2.70"/><circle cx="289.4" cy="254.0" r="2.70"/><circle cx="304.3" cy="256.6" r="2.70"/><circle cx="308.7" cy="257.4" r="2.70"/><circle cx="300.4" cy="262.7" r="2.70"/><circle cx="286.4" cy="269.3" r="2.70"/><circle cx="293.2" cy="254.0" r="2.70"/><circle cx="303.5" cy="257.4" r="2.70"/><circle cx="307.6" cy="272.4" r="2.70"/><circle cx="293.7" cy="265.6" r="2.70"/><circle cx="284.3" cy="256.2" r="2.70"/><circle cx="290.0" cy="265.0" r="2.70"/><circle cx="295.1" cy="255.4" r="2.70"/><circle cx="281.5" cy="266.6" r="2.70"/><circle cx="283.2" cy="265.7" r="2.70"/><circle cx="295.1" cy="252.5" r="2.70"/><circle cx="294.0" cy="265.0" r="2.70"/><circle cx="303.7" cy="261.8" r="2.70"/><circle cx="303.3" cy="270.8" r="2.70"/><circle cx="284.6" cy="256.2" r="2.70"/><circle cx="306.7" cy="262.5" r="2.70"/><circle cx="297.7" cy="261.1" r="2.70"/><circle cx="309.7" cy="257.9" r="2.70"/><circle cx="299.1" cy="274.0" r="2.70"/><circle cx="291.0" cy="262.3" r="2.70"/><circle cx="286.4" cy="260.1" r="2.70"/><circle cx="307.9" cy="271.3" r="2.70"/><circle cx="304.0" cy="268.3" r="2.70"/><circle cx="309.0" cy="267.6" r="2.70"/><circle cx="297.5" cy="269.4" r="2.70"/><circle cx="288.7" cy="257.9" r="2.70"/><circle cx="293.9" cy="255.9" r="2.70"/><circle cx="282.7" cy="267.6" r="2.70"/><circle cx="301.7" cy="256.5" r="2.70"/><circle cx="308.6" cy="257.1" r="2.70"/><circle cx="306.6" cy="272.4" r="2.70"/><circle cx="292.8" cy="254.2" r="2.70"/><circle cx="305.8" cy="266.5" r="2.70"/><circle cx="293.8" cy="266.4" r="2.70"/><circle cx="301.6" cy="264.7" r="2.70"/><circle cx="306.7" cy="258.1" r="2.70"/><circle cx="283.1" cy="258.2" r="2.70"/><circle cx="289.0" cy="255.9" r="2.70"/><circle cx="300.1" cy="256.9" r="2.70"/><circle cx="287.4" cy="257.9" r="2.70"/><circle cx="281.2" cy="258.7" r="2.70"/><circle cx="289.2" cy="255.2" r="2.70"/><circle cx="305.5" cy="264.1" r="2.70"/><circle cx="285.2" cy="265.1" r="2.70"/><circle cx="301.5" cy="256.5" r="2.70"/><circle cx="280.9" cy="266.0" r="2.70"/><circle cx="287.0" cy="256.7" r="2.70"/><circle cx="301.4" cy="270.7" r="2.70"/><circle cx="386.5" cy="208.6" r="2.70"/><circle cx="406.9" cy="227.7" r="2.70"/><circle cx="391.7" cy="210.9" r="2.70"/><circle cx="391.9" cy="221.3" r="2.70"/><circle cx="394.3" cy="219.4" r="2.70"/><circle cx="406.1" cy="227.8" r="2.70"/><circle cx="392.2" cy="225.0" r="2.70"/><circle cx="396.4" cy="219.7" r="2.70"/><circle cx="385.8" cy="209.5" r="2.70"/><circle cx="398.4" cy="219.5" r="2.70"/><circle cx="407.8" cy="224.2" r="2.70"/><circle cx="381.4" cy="210.0" r="2.70"/><circle cx="395.8" cy="219.0" r="2.70"/><circle cx="388.9" cy="209.9" r="2.70"/><circle cx="393.0" cy="210.3" r="2.70"/><circle cx="398.9" cy="227.7" r="2.70"/><circle cx="406.4" cy="229.5" r="2.70"/><circle cx="392.4" cy="217.1" r="2.70"/><circle cx="387.7" cy="215.0" r="2.70"/><circle cx="405.7" cy="228.9" r="2.70"/><circle cx="406.1" cy="227.3" r="2.70"/><circle cx="410.7" cy="229.4" r="2.70"/><circle cx="388.0" cy="217.1" r="2.70"/><circle cx="400.2" cy="215.7" r="2.70"/><circle cx="393.9" cy="219.1" r="2.70"/><circle cx="411.0" cy="225.6" r="2.70"/><circle cx="410.0" cy="222.2" r="2.70"/><circle cx="405.9" cy="228.2" r="2.70"/><circle cx="397.4" cy="229.2" r="2.70"/><circle cx="396.6" cy="217.4" r="2.70"/><circle cx="389.8" cy="222.5" r="2.70"/><circle cx="388.6" cy="218.2" r="2.70"/><circle cx="384.0" cy="210.2" r="2.70"/><circle cx="389.4" cy="216.8" r="2.70"/><circle cx="389.2" cy="212.8" r="2.70"/><circle cx="406.9" cy="221.6" r="2.70"/><circle cx="398.2" cy="222.6" r="2.70"/><circle cx="394.7" cy="220.2" r="2.70"/><circle cx="399.6" cy="218.3" r="2.70"/><circle cx="389.9" cy="212.8" r="2.70"/><circle cx="387.1" cy="219.3" r="2.70"/><circle cx="392.3" cy="221.1" r="2.70"/><circle cx="397.8" cy="218.8" r="2.70"/><circle cx="385.1" cy="208.6" r="2.70"/><circle cx="394.1" cy="224.6" r="2.70"/><circle cx="383.5" cy="212.4" r="2.70"/><circle cx="410.7" cy="224.7" r="2.70"/><circle cx="384.9" cy="215.1" r="2.70"/><circle cx="391.3" cy="223.2" r="2.70"/><circle cx="399.7" cy="227.4" r="2.70"/><circle cx="403.6" cy="224.8" r="2.70"/><circle cx="404.3" cy="218.4" r="2.70"/><circle cx="405.1" cy="224.0" r="2.70"/><circle cx="404.5" cy="221.1" r="2.70"/><circle cx="398.3" cy="217.0" r="2.70"/><circle cx="405.1" cy="227.9" r="2.70"/><circle cx="399.4" cy="216.1" r="2.70"/><circle cx="394.5" cy="218.0" r="2.70"/><circle cx="392.5" cy="220.3" r="2.70"/><circle cx="392.3" cy="214.7" r="2.70"/><circle cx="602.9" cy="185.4" r="2.70"/><circle cx="584.6" cy="168.5" r="2.70"/><circle cx="605.0" cy="185.1" r="2.70"/><circle cx="580.8" cy="175.2" r="2.70"/><circle cx="573.4" cy="166.1" r="2.70"/><circle cx="591.9" cy="187.1" r="2.70"/><circle cx="593.5" cy="189.0" r="2.70"/><circle cx="592.7" cy="181.4" r="2.70"/><circle cx="586.6" cy="179.3" r="2.70"/><circle cx="609.0" cy="181.2" r="2.70"/><circle cx="576.8" cy="174.0" r="2.70"/><circle cx="594.3" cy="178.8" r="2.70"/><circle cx="589.7" cy="180.0" r="2.70"/><circle cx="586.0" cy="177.7" r="2.70"/><circle cx="579.5" cy="172.6" r="2.70"/><circle cx="604.4" cy="177.3" r="2.70"/><circle cx="607.0" cy="181.6" r="2.70"/><circle cx="610.6" cy="186.3" r="2.70"/><circle cx="578.9" cy="172.0" r="2.70"/><circle cx="579.9" cy="180.1" r="2.70"/><circle cx="586.4" cy="188.8" r="2.70"/><circle cx="574.6" cy="174.9" r="2.70"/><circle cx="584.7" cy="181.6" r="2.70"/><circle cx="584.6" cy="185.2" r="2.70"/><circle cx="591.9" cy="178.3" r="2.70"/><circle cx="597.6" cy="177.8" r="2.70"/><circle cx="594.8" cy="174.9" r="2.70"/><circle cx="579.0" cy="183.2" r="2.70"/><circle cx="576.8" cy="169.1" r="2.70"/><circle cx="604.3" cy="179.7" r="2.70"/><circle cx="579.4" cy="171.4" r="2.70"/><circle cx="607.3" cy="179.0" r="2.70"/><circle cx="590.1" cy="174.3" r="2.70"/><circle cx="606.8" cy="179.0" r="2.70"/><circle cx="589.7" cy="179.9" r="2.70"/><circle cx="574.7" cy="187.3" r="2.70"/><circle cx="585.0" cy="186.6" r="2.70"/><circle cx="584.5" cy="179.5" r="2.70"/><circle cx="591.8" cy="187.8" r="2.70"/><circle cx="587.8" cy="182.2" r="2.70"/><circle cx="584.7" cy="186.0" r="2.70"/><circle cx="579.6" cy="173.6" r="2.70"/><circle cx="593.3" cy="174.3" r="2.70"/><circle cx="575.5" cy="168.0" r="2.70"/><circle cx="586.3" cy="170.9" r="2.70"/><circle cx="580.4" cy="192.0" r="2.70"/><circle cx="592.9" cy="193.8" r="2.70"/><circle cx="594.3" cy="189.6" r="2.70"/><circle cx="598.6" cy="190.2" r="2.70"/><circle cx="598.6" cy="201.7" r="2.70"/><circle cx="582.6" cy="200.3" r="2.70"/><circle cx="602.4" cy="196.6" r="2.70"/><circle cx="585.9" cy="190.2" r="2.70"/><circle cx="590.4" cy="194.3" r="2.70"/><circle cx="591.1" cy="191.6" r="2.70"/><circle cx="575.1" cy="196.7" r="2.70"/><circle cx="579.9" cy="201.1" r="2.70"/><circle cx="592.7" cy="197.7" r="2.70"/><circle cx="583.9" cy="189.5" r="2.70"/><circle cx="599.1" cy="193.5" r="2.70"/><circle cx="574.6" cy="197.6" r="2.70"/><circle cx="587.5" cy="193.0" r="2.70"/><circle cx="581.3" cy="191.8" r="2.70"/><circle cx="594.7" cy="192.8" r="2.70"/><circle cx="601.0" cy="201.2" r="2.70"/><circle cx="599.4" cy="190.2" r="2.70"/><circle cx="592.9" cy="194.0" r="2.70"/><circle cx="592.7" cy="199.9" r="2.70"/><circle cx="598.9" cy="194.0" r="2.70"/><circle cx="577.0" cy="190.0" r="2.70"/><circle cx="595.2" cy="200.1" r="2.70"/><circle cx="572.3" cy="190.8" r="2.70"/><circle cx="581.0" cy="194.5" r="2.70"/><circle cx="581.3" cy="198.9" r="2.70"/><circle cx="598.7" cy="197.7" r="2.70"/><circle cx="579.4" cy="195.4" r="2.70"/><circle cx="598.5" cy="201.2" r="2.70"/><circle cx="591.0" cy="188.8" r="2.70"/><circle cx="595.7" cy="189.5" r="2.70"/><circle cx="584.0" cy="200.7" r="2.70"/><circle cx="580.3" cy="189.5" r="2.70"/><circle cx="585.0" cy="203.8" r="2.70"/><circle cx="595.4" cy="202.1" r="2.70"/><circle cx="585.9" cy="188.9" r="2.70"/><circle cx="585.1" cy="196.7" r="2.70"/><circle cx="597.6" cy="192.4" r="2.70"/><circle cx="603.0" cy="198.8" r="2.70"/><circle cx="579.2" cy="189.0" r="2.70"/><circle cx="584.6" cy="191.4" r="2.70"/><circle cx="575.5" cy="200.0" r="2.70"/><circle cx="578.8" cy="192.1" r="2.70"/><circle cx="585.7" cy="203.9" r="2.70"/><circle cx="580.9" cy="203.0" r="2.70"/><circle cx="589.6" cy="193.7" r="2.70"/><circle cx="589.1" cy="200.9" r="2.70"/><circle cx="593.0" cy="198.2" r="2.70"/><circle cx="596.3" cy="202.1" r="2.70"/><circle cx="580.5" cy="194.1" r="2.70"/><circle cx="573.0" cy="192.8" r="2.70"/><circle cx="594.2" cy="195.6" r="2.70"/><circle cx="592.1" cy="215.1" r="2.70"/><circle cx="587.7" cy="204.0" r="2.70"/><circle cx="595.2" cy="207.3" r="2.70"/><circle cx="601.0" cy="219.6" r="2.70"/><circle cx="601.3" cy="209.0" r="2.70"/><circle cx="604.7" cy="225.5" r="2.70"/><circle cx="606.7" cy="227.9" r="2.70"/><circle cx="605.0" cy="225.3" r="2.70"/><circle cx="592.1" cy="207.2" r="2.70"/><circle cx="592.0" cy="212.3" r="2.70"/><circle cx="589.7" cy="203.2" r="2.70"/><circle cx="600.6" cy="225.0" r="2.70"/><circle cx="596.8" cy="216.0" r="2.70"/><circle cx="591.4" cy="218.3" r="2.70"/><circle cx="602.3" cy="206.6" r="2.70"/><circle cx="606.9" cy="224.0" r="2.70"/><circle cx="597.4" cy="213.8" r="2.70"/><circle cx="595.3" cy="220.7" r="2.70"/><circle cx="608.3" cy="206.6" r="2.70"/><circle cx="595.4" cy="217.8" r="2.70"/><circle cx="588.5" cy="204.4" r="2.70"/><circle cx="608.4" cy="226.2" r="2.70"/><circle cx="605.7" cy="203.7" r="2.70"/><circle cx="600.1" cy="210.3" r="2.70"/><circle cx="609.7" cy="215.5" r="2.70"/><circle cx="591.4" cy="211.6" r="2.70"/><circle cx="602.0" cy="214.5" r="2.70"/><circle cx="601.5" cy="212.4" r="2.70"/><circle cx="594.7" cy="216.8" r="2.70"/><circle cx="594.1" cy="205.2" r="2.70"/><circle cx="607.9" cy="217.3" r="2.70"/><circle cx="607.1" cy="209.1" r="2.70"/><circle cx="597.9" cy="209.0" r="2.70"/><circle cx="598.5" cy="208.3" r="2.70"/><circle cx="599.5" cy="204.2" r="2.70"/><circle cx="607.2" cy="217.4" r="2.70"/><circle cx="604.2" cy="205.2" r="2.70"/><circle cx="603.2" cy="204.9" r="2.70"/><circle cx="594.0" cy="206.8" r="2.70"/><circle cx="598.8" cy="223.7" r="2.70"/><circle cx="609.4" cy="184.4" r="2.70"/><circle cx="605.7" cy="192.3" r="2.70"/><circle cx="604.1" cy="197.9" r="2.70"/><circle cx="605.5" cy="190.5" r="2.70"/><circle cx="609.0" cy="193.6" r="2.70"/><circle cx="610.2" cy="198.5" r="2.70"/><circle cx="610.1" cy="197.1" r="2.70"/><circle cx="610.4" cy="204.8" r="2.70"/><circle cx="569.7" cy="188.7" r="2.70"/><circle cx="572.0" cy="187.5" r="2.70"/><circle cx="584.0" cy="220.0" r="2.70"/><circle cx="583.7" cy="232.0" r="2.70"/><circle cx="148.7" cy="158.5" r="2.70"/><circle cx="150.6" cy="159.4" r="2.70"/><circle cx="154.1" cy="160.4" r="2.70"/><circle cx="156.1" cy="163.6" r="2.70"/><circle cx="158.7" cy="164.5" r="2.70"/><circle cx="161.3" cy="167.2" r="2.70"/><circle cx="162.2" cy="169.6" r="2.70"/><circle cx="165.2" cy="170.4" r="2.70"/><circle cx="169.1" cy="171.1" r="2.70"/><circle cx="171.9" cy="171.0" r="2.70"/><circle cx="173.7" cy="173.1" r="2.70"/><circle cx="175.7" cy="173.3" r="2.70"/><circle cx="179.0" cy="172.3" r="2.70"/><circle cx="182.4" cy="173.6" r="2.70"/><circle cx="183.8" cy="174.5" r="2.70"/><circle cx="176.1" cy="165.4" r="2.70"/><circle cx="171.0" cy="168.2" r="2.70"/><circle cx="174.6" cy="170.2" r="2.70"/><circle cx="173.7" cy="168.2" r="2.70"/><circle cx="169.1" cy="170.2" r="2.70"/><circle cx="173.0" cy="165.2" r="2.70"/><circle cx="174.5" cy="173.9" r="2.70"/><circle cx="169.5" cy="166.3" r="2.70"/><circle cx="177.1" cy="167.5" r="2.70"/><circle cx="172.3" cy="169.5" r="2.70"/><circle cx="175.2" cy="179.1" r="2.70"/><circle cx="177.7" cy="180.1" r="2.70"/><circle cx="178.7" cy="184.4" r="2.70"/><circle cx="179.8" cy="186.1" r="2.70"/><circle cx="180.5" cy="188.7" r="2.70"/><circle cx="183.8" cy="190.2" r="2.70"/><circle cx="185.1" cy="192.1" r="2.70"/><circle cx="186.6" cy="192.9" r="2.70"/><circle cx="187.8" cy="193.9" r="2.70"/><circle cx="189.6" cy="197.8" r="2.70"/><circle cx="191.7" cy="197.7" r="2.70"/><circle cx="193.6" cy="199.1" r="2.70"/><circle cx="197.2" cy="201.2" r="2.70"/><circle cx="198.8" cy="202.2" r="2.70"/><circle cx="200.0" cy="203.5" r="2.70"/><circle cx="204.3" cy="204.9" r="2.70"/><circle cx="206.1" cy="206.5" r="2.70"/><circle cx="208.2" cy="205.5" r="2.70"/><circle cx="213.2" cy="206.7" r="2.70"/><circle cx="214.1" cy="208.9" r="2.70"/><circle cx="216.5" cy="210.0" r="2.70"/><circle cx="218.2" cy="208.9" r="2.70"/><circle cx="220.4" cy="211.5" r="2.70"/><circle cx="223.0" cy="211.1" r="2.70"/><circle cx="226.3" cy="213.0" r="2.70"/><circle cx="228.2" cy="214.5" r="2.70"/><circle cx="228.8" cy="214.9" r="2.70"/><circle cx="231.6" cy="214.1" r="2.70"/><circle cx="234.1" cy="217.9" r="2.70"/><circle cx="237.0" cy="218.3" r="2.70"/><circle cx="238.6" cy="221.4" r="2.70"/><circle cx="240.4" cy="222.6" r="2.70"/><circle cx="241.5" cy="223.6" r="2.70"/><circle cx="242.9" cy="226.3" r="2.70"/><circle cx="191.4" cy="186.9" r="2.70"/><circle cx="195.0" cy="188.5" r="2.70"/><circle cx="194.9" cy="189.9" r="2.70"/><circle cx="197.6" cy="190.0" r="2.70"/><circle cx="199.1" cy="193.0" r="2.70"/><circle cx="202.8" cy="193.5" r="2.70"/><circle cx="204.2" cy="195.1" r="2.70"/><circle cx="206.2" cy="198.6" r="2.70"/><circle cx="207.9" cy="200.8" r="2.70"/><circle cx="211.7" cy="201.0" r="2.70"/><circle cx="214.6" cy="202.6" r="2.70"/><circle cx="216.1" cy="205.1" r="2.70"/><circle cx="217.3" cy="204.9" r="2.70"/><circle cx="221.7" cy="205.7" r="2.70"/><circle cx="222.8" cy="207.6" r="2.70"/><circle cx="224.9" cy="207.1" r="2.70"/><circle cx="228.2" cy="209.7" r="2.70"/><circle cx="231.5" cy="210.9" r="2.70"/><circle cx="231.8" cy="213.4" r="2.70"/><circle cx="234.0" cy="213.3" r="2.70"/><circle cx="236.4" cy="217.2" r="2.70"/><circle cx="239.9" cy="216.4" r="2.70"/><circle cx="242.1" cy="217.2" r="2.70"/><circle cx="243.9" cy="219.0" r="2.70"/><circle cx="247.7" cy="219.0" r="2.70"/><circle cx="220.3" cy="197.1" r="2.70"/><circle cx="224.3" cy="197.4" r="2.70"/><circle cx="225.9" cy="195.9" r="2.70"/><circle cx="236.5" cy="193.4" r="2.70"/><circle cx="239.1" cy="195.7" r="2.70"/><circle cx="241.3" cy="196.2" r="2.70"/><circle cx="245.0" cy="196.9" r="2.70"/><circle cx="247.0" cy="197.8" r="2.70"/><circle cx="249.7" cy="197.9" r="2.70"/><circle cx="251.4" cy="199.8" r="2.70"/><circle cx="255.2" cy="199.4" r="2.70"/><circle cx="260.6" cy="201.0" r="2.70"/><circle cx="263.4" cy="202.8" r="2.70"/><circle cx="266.9" cy="201.3" r="2.70"/><circle cx="270.7" cy="202.8" r="2.70"/><circle cx="275.0" cy="201.6" r="2.70"/><circle cx="277.4" cy="202.1" r="2.70"/><circle cx="279.9" cy="202.7" r="2.70"/><circle cx="282.6" cy="204.8" r="2.70"/><circle cx="283.9" cy="206.9" r="2.70"/><circle cx="285.6" cy="210.5" r="2.70"/><circle cx="287.7" cy="213.0" r="2.70"/><circle cx="288.4" cy="217.4" r="2.70"/><circle cx="230.4" cy="209.2" r="2.70"/><circle cx="231.0" cy="211.7" r="2.70"/><circle cx="232.9" cy="212.2" r="2.70"/><circle cx="234.5" cy="215.3" r="2.70"/><circle cx="236.5" cy="217.4" r="2.70"/><circle cx="236.5" cy="219.8" r="2.70"/><circle cx="237.6" cy="219.4" r="2.70"/><circle cx="239.3" cy="223.1" r="2.70"/><circle cx="241.0" cy="222.0" r="2.70"/><circle cx="244.6" cy="224.1" r="2.70"/><circle cx="246.5" cy="223.5" r="2.70"/><circle cx="248.0" cy="223.7" r="2.70"/><circle cx="251.9" cy="221.0" r="2.70"/><circle cx="252.8" cy="219.8" r="2.70"/><circle cx="256.6" cy="217.7" r="2.70"/><circle cx="258.5" cy="217.1" r="2.70"/><circle cx="259.3" cy="217.5" r="2.70"/><circle cx="261.9" cy="217.4" r="2.70"/><circle cx="263.3" cy="215.5" r="2.70"/><circle cx="266.1" cy="216.1" r="2.70"/><circle cx="267.1" cy="217.0" r="2.70"/><circle cx="270.9" cy="217.4" r="2.70"/><circle cx="271.7" cy="217.5" r="2.70"/><circle cx="273.1" cy="216.2" r="2.70"/><circle cx="276.8" cy="217.1" r="2.70"/><circle cx="277.7" cy="218.9" r="2.70"/><circle cx="279.9" cy="219.0" r="2.70"/><circle cx="282.5" cy="218.5" r="2.70"/><circle cx="283.7" cy="219.0" r="2.70"/><circle cx="285.2" cy="220.2" r="2.70"/><circle cx="288.2" cy="220.9" r="2.70"/><circle cx="290.2" cy="221.9" r="2.70"/><circle cx="290.2" cy="224.3" r="2.70"/><circle cx="292.3" cy="224.8" r="2.70"/><circle cx="294.9" cy="227.0" r="2.70"/><circle cx="296.8" cy="228.6" r="2.70"/><circle cx="299.1" cy="229.0" r="2.70"/><circle cx="299.7" cy="231.0" r="2.70"/><circle cx="302.7" cy="231.1" r="2.70"/><circle cx="305.0" cy="232.9" r="2.70"/><circle cx="305.9" cy="232.9" r="2.70"/><circle cx="307.2" cy="235.8" r="2.70"/><circle cx="308.5" cy="237.3" r="2.70"/><circle cx="309.5" cy="237.1" r="2.70"/><circle cx="276.9" cy="222.9" r="2.70"/><circle cx="280.9" cy="215.9" r="2.70"/><circle cx="250.4" cy="227.1" r="2.70"/><circle cx="250.9" cy="226.1" r="2.70"/><circle cx="278.3" cy="221.7" r="2.70"/><circle cx="277.4" cy="220.7" r="2.70"/><circle cx="261.7" cy="222.3" r="2.70"/><circle cx="258.5" cy="219.0" r="2.70"/><circle cx="284.8" cy="222.9" r="2.70"/><circle cx="265.5" cy="214.8" r="2.70"/><circle cx="255.9" cy="214.8" r="2.70"/><circle cx="263.4" cy="221.4" r="2.70"/><circle cx="272.7" cy="219.9" r="2.70"/><circle cx="255.8" cy="228.7" r="2.70"/><circle cx="249.3" cy="219.0" r="2.70"/><circle cx="265.0" cy="223.0" r="2.70"/><circle cx="259.0" cy="226.7" r="2.70"/><circle cx="273.1" cy="221.3" r="2.70"/><circle cx="249.5" cy="220.9" r="2.70"/><circle cx="250.2" cy="223.5" r="2.70"/><circle cx="287.6" cy="223.0" r="2.70"/><circle cx="268.9" cy="224.8" r="2.70"/><circle cx="260.0" cy="217.4" r="2.70"/><circle cx="253.4" cy="228.7" r="2.70"/><circle cx="251.4" cy="215.5" r="2.70"/><circle cx="276.0" cy="218.1" r="2.70"/><circle cx="277.2" cy="216.5" r="2.70"/><circle cx="277.6" cy="214.7" r="2.70"/><circle cx="259.9" cy="217.7" r="2.70"/><circle cx="261.0" cy="223.0" r="2.70"/><circle cx="264.2" cy="214.5" r="2.70"/><circle cx="275.2" cy="217.6" r="2.70"/><circle cx="251.1" cy="221.4" r="2.70"/><circle cx="265.9" cy="224.9" r="2.70"/><circle cx="288.3" cy="222.4" r="2.70"/><circle cx="262.3" cy="226.0" r="2.70"/><circle cx="273.3" cy="222.7" r="2.70"/><circle cx="253.1" cy="218.3" r="2.70"/><circle cx="275.9" cy="214.8" r="2.70"/><circle cx="266.8" cy="218.0" r="2.70"/><circle cx="254.9" cy="226.6" r="2.70"/><circle cx="250.1" cy="222.9" r="2.70"/><circle cx="271.3" cy="226.6" r="2.70"/><circle cx="267.3" cy="214.5" r="2.70"/><circle cx="251.3" cy="224.3" r="2.70"/><circle cx="242.6" cy="237.6" r="2.70"/><circle cx="242.7" cy="240.3" r="2.70"/><circle cx="243.8" cy="245.7" r="2.70"/><circle cx="244.9" cy="246.9" r="2.70"/><circle cx="246.9" cy="249.4" r="2.70"/><circle cx="246.6" cy="251.9" r="2.70"/><circle cx="246.2" cy="255.6" r="2.70"/><circle cx="247.6" cy="257.1" r="2.70"/><circle cx="248.4" cy="259.2" r="2.70"/><circle cx="251.8" cy="262.7" r="2.70"/><circle cx="250.5" cy="266.3" r="2.70"/><circle cx="255.4" cy="266.2" r="2.70"/><circle cx="256.2" cy="267.8" r="2.70"/><circle cx="258.8" cy="266.6" r="2.70"/><circle cx="262.1" cy="268.4" r="2.70"/><circle cx="263.3" cy="270.2" r="2.70"/><circle cx="267.3" cy="271.9" r="2.70"/><circle cx="268.2" cy="271.2" r="2.70"/><circle cx="273.4" cy="271.6" r="2.70"/><circle cx="274.9" cy="276.3" r="2.70"/><circle cx="277.6" cy="277.6" r="2.70"/><circle cx="277.5" cy="281.3" r="2.70"/><circle cx="279.4" cy="281.4" r="2.70"/><circle cx="281.0" cy="285.9" r="2.70"/><circle cx="280.5" cy="286.9" r="2.70"/><circle cx="279.4" cy="290.5" r="2.70"/><circle cx="281.0" cy="294.9" r="2.70"/><circle cx="278.7" cy="297.8" r="2.70"/><circle cx="278.8" cy="300.4" r="2.70"/><circle cx="277.7" cy="303.7" r="2.70"/><circle cx="275.4" cy="306.0" r="2.70"/><circle cx="275.0" cy="309.4" r="2.70"/><circle cx="277.5" cy="309.4" r="2.70"/><circle cx="278.8" cy="314.2" r="2.70"/><circle cx="279.2" cy="316.4" r="2.70"/><circle cx="278.8" cy="319.0" r="2.70"/><circle cx="282.8" cy="318.4" r="2.70"/><circle cx="284.4" cy="321.3" r="2.70"/><circle cx="297.4" cy="236.6" r="2.70"/><circle cx="261.9" cy="234.3" r="2.70"/><circle cx="262.1" cy="246.7" r="2.70"/><circle cx="290.9" cy="255.8" r="2.70"/><circle cx="299.8" cy="243.1" r="2.70"/><circle cx="268.7" cy="251.0" r="2.70"/><circle cx="254.1" cy="260.1" r="2.70"/><circle cx="285.7" cy="245.2" r="2.70"/><circle cx="260.7" cy="240.9" r="2.70"/><circle cx="286.6" cy="238.3" r="2.70"/><circle cx="264.3" cy="255.4" r="2.70"/><circle cx="254.7" cy="254.7" r="2.70"/><circle cx="270.2" cy="235.4" r="2.70"/><circle cx="272.2" cy="247.0" r="2.70"/><circle cx="259.1" cy="260.9" r="2.70"/><circle cx="258.2" cy="265.7" r="2.70"/><circle cx="298.8" cy="236.5" r="2.70"/><circle cx="253.5" cy="249.2" r="2.70"/><circle cx="279.9" cy="241.8" r="2.70"/><circle cx="304.2" cy="254.0" r="2.70"/><circle cx="286.9" cy="244.7" r="2.70"/><circle cx="270.2" cy="253.8" r="2.70"/><circle cx="271.1" cy="247.9" r="2.70"/><circle cx="305.1" cy="246.9" r="2.70"/><circle cx="300.4" cy="254.7" r="2.70"/><circle cx="275.7" cy="257.5" r="2.70"/><circle cx="249.2" cy="239.7" r="2.70"/><circle cx="256.2" cy="250.7" r="2.70"/><circle cx="250.0" cy="242.5" r="2.70"/><circle cx="288.1" cy="237.8" r="2.70"/><circle cx="265.6" cy="248.9" r="2.70"/><circle cx="298.5" cy="254.4" r="2.70"/><circle cx="291.2" cy="237.7" r="2.70"/><circle cx="297.8" cy="240.6" r="2.70"/><circle cx="257.4" cy="257.0" r="2.70"/><circle cx="266.0" cy="242.1" r="2.70"/><circle cx="259.6" cy="239.5" r="2.70"/><circle cx="253.9" cy="236.9" r="2.70"/><circle cx="264.1" cy="234.6" r="2.70"/><circle cx="267.1" cy="232.4" r="2.70"/><circle cx="277.1" cy="249.5" r="2.70"/><circle cx="295.2" cy="237.6" r="2.70"/><circle cx="305.7" cy="248.2" r="2.70"/><circle cx="287.3" cy="236.9" r="2.70"/><circle cx="283.3" cy="240.9" r="2.70"/><circle cx="264.0" cy="236.2" r="2.70"/><circle cx="290.4" cy="243.3" r="2.70"/><circle cx="254.1" cy="238.9" r="2.70"/><circle cx="294.5" cy="240.4" r="2.70"/><circle cx="298.6" cy="240.7" r="2.70"/><circle cx="302.8" cy="248.3" r="2.70"/><circle cx="255.5" cy="240.2" r="2.70"/><circle cx="273.4" cy="247.1" r="2.70"/><circle cx="289.7" cy="250.3" r="2.70"/><circle cx="283.7" cy="237.5" r="2.70"/><circle cx="256.7" cy="254.2" r="2.70"/><circle cx="304.5" cy="257.2" r="2.70"/><circle cx="255.4" cy="255.6" r="2.70"/><circle cx="286.2" cy="237.6" r="2.70"/><circle cx="264.5" cy="234.9" r="2.70"/><circle cx="253.0" cy="254.4" r="2.70"/><circle cx="298.3" cy="241.1" r="2.70"/><circle cx="251.6" cy="261.2" r="2.70"/><circle cx="255.9" cy="237.6" r="2.70"/><circle cx="275.5" cy="249.3" r="2.70"/><circle cx="254.1" cy="235.4" r="2.70"/><circle cx="268.8" cy="239.9" r="2.70"/><circle cx="260.9" cy="259.3" r="2.70"/><circle cx="279.3" cy="243.8" r="2.70"/><circle cx="287.3" cy="256.4" r="2.70"/><circle cx="272.6" cy="247.5" r="2.70"/><circle cx="261.5" cy="262.4" r="2.70"/><circle cx="251.6" cy="246.1" r="2.70"/><circle cx="276.1" cy="254.7" r="2.70"/><circle cx="276.1" cy="240.4" r="2.70"/><circle cx="272.8" cy="237.9" r="2.70"/><circle cx="294.1" cy="247.7" r="2.70"/><circle cx="259.7" cy="255.6" r="2.70"/><circle cx="264.0" cy="249.5" r="2.70"/><circle cx="293.2" cy="256.2" r="2.70"/><circle cx="278.3" cy="276.5" r="2.70"/><circle cx="295.5" cy="306.3" r="2.70"/><circle cx="289.4" cy="287.1" r="2.70"/><circle cx="282.2" cy="282.9" r="2.70"/><circle cx="289.4" cy="317.6" r="2.70"/><circle cx="280.9" cy="277.9" r="2.70"/><circle cx="277.6" cy="290.9" r="2.70"/><circle cx="284.8" cy="280.3" r="2.70"/><circle cx="275.8" cy="282.5" r="2.70"/><circle cx="293.2" cy="295.8" r="2.70"/><circle cx="293.7" cy="296.0" r="2.70"/><circle cx="294.4" cy="281.4" r="2.70"/><circle cx="286.2" cy="284.8" r="2.70"/><circle cx="279.6" cy="276.9" r="2.70"/><circle cx="284.4" cy="306.8" r="2.70"/><circle cx="283.0" cy="310.1" r="2.70"/><circle cx="294.9" cy="281.6" r="2.70"/><circle cx="288.2" cy="291.9" r="2.70"/><circle cx="293.4" cy="295.5" r="2.70"/><circle cx="286.9" cy="279.0" r="2.70"/><circle cx="281.4" cy="302.2" r="2.70"/><circle cx="296.0" cy="296.4" r="2.70"/><circle cx="289.6" cy="284.6" r="2.70"/><circle cx="279.3" cy="314.0" r="2.70"/><circle cx="282.9" cy="280.4" r="2.70"/><circle cx="288.4" cy="281.3" r="2.70"/><circle cx="278.2" cy="295.2" r="2.70"/><circle cx="288.2" cy="302.7" r="2.70"/><circle cx="291.4" cy="294.5" r="2.70"/><circle cx="283.4" cy="304.3" r="2.70"/><circle cx="291.6" cy="286.1" r="2.70"/><circle cx="289.9" cy="305.1" r="2.70"/><circle cx="285.3" cy="282.0" r="2.70"/><circle cx="296.6" cy="301.2" r="2.70"/><circle cx="274.6" cy="286.0" r="2.70"/><circle cx="271.0" cy="326.0" r="2.70"/><circle cx="242.0" cy="200.7" r="2.70"/><circle cx="258.0" cy="202.7" r="2.70"/><circle cx="250.0" cy="188.0" r="2.70"/><circle cx="247.7" cy="184.0" r="2.70"/><circle cx="190.3" cy="152.0" r="2.70"/><circle cx="264.0" cy="158.0" r="2.70"/><circle cx="275.0" cy="187.0" r="2.70"/><circle cx="350.0" cy="248.5" r="2.70"/><circle cx="432.0" cy="118.0" r="3.25"/><circle cx="420.0" cy="127.0" r="2.70"/><circle cx="426.5" cy="127.0" r="2.70"/><circle cx="421.0" cy="134.0" r="2.70"/><circle cx="421.5" cy="139.0" r="2.70"/><circle cx="419.0" cy="144.0" r="2.70"/><circle cx="417.0" cy="149.0" r="2.70"/><circle cx="418.5" cy="153.0" r="2.70"/><circle cx="419.0" cy="157.0" r="2.70"/><circle cx="438.5" cy="130.0" r="2.70"/><circle cx="447.5" cy="130.0" r="2.70"/><circle cx="458.0" cy="126.5" r="2.70"/><circle cx="468.0" cy="128.0" r="2.70"/><circle cx="457.5" cy="132.5" r="2.70"/><circle cx="465.0" cy="139.0" r="2.70"/><circle cx="479.0" cy="140.5" r="2.70"/><circle cx="482.0" cy="146.0" r="2.70"/><circle cx="428.0" cy="154.0" r="2.70"/><circle cx="431.0" cy="160.5" r="2.70"/><circle cx="508.0" cy="138.0" r="2.70"/><circle cx="511.0" cy="144.0" r="2.70"/><circle cx="482.7" cy="157.3" r="2.70"/><circle cx="430.0" cy="134.6" r="2.70"/><circle cx="433.5" cy="135.5" r="2.70"/><circle cx="432.0" cy="133.5" r="2.70"/><circle cx="436.1" cy="133.3" r="2.70"/><circle cx="435.4" cy="136.6" r="2.70"/><circle cx="438.3" cy="136.5" r="2.70"/><circle cx="440.5" cy="134.1" r="2.70"/><circle cx="438.7" cy="136.2" r="2.70"/><circle cx="443.6" cy="136.3" r="2.70"/><circle cx="444.4" cy="134.6" r="2.70"/><circle cx="443.3" cy="137.2" r="2.70"/><circle cx="447.6" cy="134.6" r="2.70"/><circle cx="447.8" cy="137.9" r="2.70"/><circle cx="449.4" cy="137.3" r="2.70"/><circle cx="448.5" cy="136.4" r="2.70"/><circle cx="450.2" cy="138.6" r="2.70"/><circle cx="452.9" cy="138.3" r="2.70"/><circle cx="454.1" cy="140.8" r="2.70"/><circle cx="454.5" cy="140.9" r="2.70"/><circle cx="453.6" cy="144.7" r="2.70"/><circle cx="455.5" cy="142.5" r="2.70"/><circle cx="458.1" cy="146.3" r="2.70"/><circle cx="457.2" cy="145.3" r="2.70"/><circle cx="457.3" cy="147.4" r="2.70"/><circle cx="460.4" cy="146.2" r="2.70"/><circle cx="458.9" cy="149.7" r="2.70"/><circle cx="461.2" cy="149.8" r="2.70"/><circle cx="462.4" cy="151.5" r="2.70"/><circle cx="463.6" cy="153.3" r="2.70"/><circle cx="464.8" cy="154.2" r="2.70"/><circle cx="465.1" cy="155.9" r="2.70"/><circle cx="466.6" cy="154.6" r="2.70"/><circle cx="465.8" cy="157.7" r="2.70"/><circle cx="466.3" cy="158.0" r="2.70"/><circle cx="433.8" cy="132.8" r="2.70"/><circle cx="437.1" cy="134.5" r="2.70"/><circle cx="439.3" cy="134.8" r="2.70"/><circle cx="439.3" cy="132.7" r="2.70"/><circle cx="440.2" cy="132.9" r="2.70"/><circle cx="444.6" cy="133.3" r="2.70"/><circle cx="445.8" cy="135.2" r="2.70"/><circle cx="446.7" cy="133.8" r="2.70"/><circle cx="447.6" cy="136.4" r="2.70"/><circle cx="449.9" cy="138.4" r="2.70"/><circle cx="451.5" cy="138.4" r="2.70"/><circle cx="454.3" cy="138.7" r="2.70"/><circle cx="454.6" cy="141.7" r="2.70"/><circle cx="454.1" cy="141.0" r="2.70"/><circle cx="454.5" cy="142.3" r="2.70"/><circle cx="458.5" cy="143.4" r="2.70"/><circle cx="458.6" cy="146.2" r="2.70"/><circle cx="459.8" cy="146.2" r="2.70"/><circle cx="458.6" cy="149.0" r="2.70"/><circle cx="460.3" cy="151.2" r="2.70"/><circle cx="462.3" cy="151.7" r="2.70"/><circle cx="463.6" cy="152.0" r="2.70"/><circle cx="457.6" cy="138.4" r="2.70"/><circle cx="459.2" cy="139.8" r="2.70"/><circle cx="463.2" cy="142.6" r="2.70"/><circle cx="463.9" cy="142.0" r="2.70"/><circle cx="463.7" cy="143.7" r="2.70"/><circle cx="465.5" cy="145.7" r="2.70"/><circle cx="468.4" cy="145.5" r="2.70"/><circle cx="466.7" cy="148.3" r="2.70"/><circle cx="470.5" cy="149.4" r="2.70"/><circle cx="469.9" cy="148.0" r="2.70"/><circle cx="473.1" cy="149.7" r="2.70"/><circle cx="473.3" cy="152.5" r="2.70"/><circle cx="472.9" cy="152.2" r="2.70"/><circle cx="474.6" cy="155.5" r="2.70"/><circle cx="475.1" cy="155.1" r="2.70"/><circle cx="452.7" cy="159.3" r="2.70"/><circle cx="453.7" cy="160.8" r="2.70"/><circle cx="456.6" cy="160.2" r="2.70"/><circle cx="424.0" cy="140.4" r="2.70"/><circle cx="425.5" cy="143.2" r="2.70"/><circle cx="426.4" cy="145.6" r="2.70"/><circle cx="426.6" cy="148.3" r="2.70"/><circle cx="428.2" cy="151.0" r="2.70"/><circle cx="425.3" cy="153.3" r="2.70"/><circle cx="423.6" cy="154.2" r="2.70"/><circle cx="420.4" cy="156.9" r="2.70"/><circle cx="440.5" cy="145.5" r="2.70"/><circle cx="441.1" cy="147.9" r="2.70"/><circle cx="441.5" cy="150.0" r="2.70"/><circle cx="442.5" cy="153.3" r="2.70"/><circle cx="460.1" cy="144.4" r="2.70"/><circle cx="463.6" cy="147.2" r="2.70"/><circle cx="466.7" cy="147.2" r="2.70"/><circle cx="468.5" cy="149.5" r="2.70"/><circle cx="471.7" cy="151.4" r="2.70"/><circle cx="472.5" cy="154.3" r="2.70"/><circle cx="475.5" cy="154.1" r="2.70"/><circle cx="474.2" cy="151.8" r="2.70"/><circle cx="472.4" cy="156.0" r="2.70"/><circle cx="473.5" cy="149.4" r="2.70"/><circle cx="477.9" cy="153.8" r="2.70"/><circle cx="472.3" cy="148.1" r="2.70"/><circle cx="475.6" cy="154.2" r="2.70"/><circle cx="471.2" cy="153.6" r="2.70"/><circle cx="476.2" cy="154.4" r="2.70"/><circle cx="499.0" cy="165.6" r="2.70"/><circle cx="499.1" cy="167.9" r="2.70"/><circle cx="500.4" cy="170.0" r="2.70"/><circle cx="501.2" cy="171.3" r="2.70"/><circle cx="509.5" cy="195.8" r="2.70"/><circle cx="511.8" cy="195.8" r="2.70"/><circle cx="503.7" cy="200.5" r="2.70"/><circle cx="517.7" cy="208.7" r="2.70"/><circle cx="524.7" cy="210.4" r="2.70"/><circle cx="520.0" cy="209.5" r="2.70"/><circle cx="67.0" cy="195.0" r="2.70"/><circle cx="70.0" cy="196.5" r="2.70"/><circle cx="73.0" cy="198.0" r="2.70"/><circle cx="76.0" cy="199.5" r="2.70"/><circle cx="79.0" cy="200.5" r="2.70"/><circle cx="4.0" cy="226.5" r="2.70"/><circle cx="8.0" cy="238.0" r="2.70"/><circle cx="20.0" cy="255.0" r="2.70"/><circle cx="22.0" cy="258.0" r="2.70"/><circle cx="40.0" cy="258.0" r="2.70"/><circle cx="43.0" cy="260.0" r="2.70"/><circle cx="32.0" cy="268.0" r="2.70"/><circle cx="41.0" cy="269.5" r="2.70"/><circle cx="44.0" cy="270.0" r="2.70"/><circle cx="17.0" cy="276.5" r="2.70"/><circle cx="20.0" cy="275.0" r="2.70"/><circle cx="23.0" cy="277.0" r="2.70"/><circle cx="26.0" cy="278.5" r="2.70"/><circle cx="46.0" cy="280.0" r="2.70"/><circle cx="34.0" cy="285.0" r="2.70"/><circle cx="66.0" cy="274.0" r="2.70"/><circle cx="69.0" cy="276.0" r="2.70"/><circle cx="80.0" cy="272.0" r="2.70"/><circle cx="100.0" cy="259.0" r="2.70"/><circle cx="95.0" cy="273.0" r="2.70"/><circle cx="68.0" cy="285.0" r="2.70"/><circle cx="72.0" cy="286.0" r="2.70"/><circle cx="11.0" cy="320.0" r="2.70"/><circle cx="18.0" cy="276.0" r="2.70"/><circle cx="21.0" cy="274.5" r="2.70"/></g>
<path d="M195.0 164.0L201.0 156.0L207.0 151.0L215.0 148.0L225.0 149.0L235.0 147.0L247.0 147.0L259.0 147.0L261.0 152.0L257.0 160.0L252.0 167.0L248.0 174.0L244.0 179.0L245.0 185.0L244.0 190.0L240.0 187.0L237.0 181.0L229.0 179.0L219.0 179.0L209.0 180.0L205.0 185.0L202.0 190.0L198.0 187.0L196.0 179.0L194.0 171.0Z" fill="#eea020" stroke="#eea020" stroke-width="1.5"/><path d="M309.0 240.0L323.0 243.0L337.0 247.0L345.0 253.0L346.0 257.0L340.0 265.0L336.0 274.0L333.0 283.0L325.0 291.0L316.0 296.0L314.0 304.0L307.0 307.0L298.0 304.0L296.0 293.0L298.0 280.0L301.0 270.0L305.0 258.0L307.0 248.0Z" fill="#e8961c" stroke="#e8961c" stroke-width="1.5"/>
<g><circle cx="215.7" cy="153.5" r="1.95" fill="#f2a324"/><circle cx="198.9" cy="170.0" r="1.95" fill="#f2a324"/><circle cx="197.9" cy="168.8" r="1.95" fill="#ea961e"/><circle cx="223.1" cy="150.0" r="1.95" fill="#ea961e"/><circle cx="202.3" cy="156.6" r="1.95" fill="#f2a324"/><circle cx="213.4" cy="153.2" r="1.95" fill="#ea961e"/><circle cx="206.1" cy="172.0" r="1.95" fill="#f2a324"/><circle cx="219.0" cy="170.6" r="1.95" fill="#ea961e"/><circle cx="239.6" cy="165.4" r="1.95" fill="#f2a324"/><circle cx="233.2" cy="166.5" r="1.95" fill="#ea961e"/><circle cx="210.4" cy="171.7" r="1.95" fill="#f2a324"/><circle cx="201.9" cy="165.0" r="1.95" fill="#f2a324"/><circle cx="204.2" cy="168.0" r="1.95" fill="#ea961e"/><circle cx="238.8" cy="179.9" r="1.95" fill="#f2a324"/><circle cx="252.7" cy="160.5" r="1.95" fill="#f2a324"/><circle cx="233.8" cy="171.9" r="1.95" fill="#f2a324"/><circle cx="225.8" cy="175.6" r="1.95" fill="#ea961e"/><circle cx="241.0" cy="174.8" r="1.95" fill="#f2a324"/><circle cx="249.1" cy="159.2" r="1.95" fill="#f2a324"/><circle cx="238.8" cy="148.0" r="1.95" fill="#f2a324"/><circle cx="197.9" cy="180.0" r="1.95" fill="#ea961e"/><circle cx="210.6" cy="163.8" r="1.95" fill="#f2a324"/><circle cx="199.4" cy="166.3" r="1.95" fill="#f2a324"/><circle cx="251.9" cy="159.0" r="1.95" fill="#f2a324"/><circle cx="258.2" cy="153.5" r="1.95" fill="#ea961e"/><circle cx="209.5" cy="157.0" r="1.95" fill="#f2a324"/><circle cx="233.5" cy="158.3" r="1.95" fill="#ea961e"/><circle cx="222.1" cy="162.9" r="1.95" fill="#f2a324"/><circle cx="228.5" cy="173.6" r="1.95" fill="#f2a324"/><circle cx="247.5" cy="163.9" r="1.95" fill="#f2a324"/><circle cx="200.9" cy="174.3" r="1.95" fill="#ea961e"/><circle cx="204.9" cy="161.6" r="1.95" fill="#ea961e"/><circle cx="200.8" cy="162.6" r="1.95" fill="#ea961e"/><circle cx="204.0" cy="157.8" r="1.95" fill="#f2a324"/><circle cx="218.4" cy="152.3" r="1.95" fill="#f2a324"/><circle cx="226.4" cy="150.7" r="1.95" fill="#ea961e"/><circle cx="217.0" cy="158.4" r="1.95" fill="#f2a324"/><circle cx="203.8" cy="170.4" r="1.95" fill="#ea961e"/><circle cx="211.5" cy="162.8" r="1.95" fill="#ea961e"/><circle cx="245.7" cy="169.9" r="1.95" fill="#f2a324"/><circle cx="216.1" cy="156.6" r="1.95" fill="#f2a324"/><circle cx="243.6" cy="156.7" r="1.95" fill="#f2a324"/><circle cx="211.4" cy="176.8" r="1.95" fill="#f2a324"/><circle cx="218.4" cy="156.5" r="1.95" fill="#ea961e"/><circle cx="207.2" cy="155.8" r="1.95" fill="#f2a324"/><circle cx="226.1" cy="175.1" r="1.95" fill="#f2a324"/><circle cx="199.7" cy="175.4" r="1.95" fill="#f2a324"/><circle cx="226.0" cy="154.7" r="1.95" fill="#f2a324"/><circle cx="242.6" cy="154.3" r="1.95" fill="#ea961e"/><circle cx="204.1" cy="185.9" r="1.95" fill="#f2a324"/><circle cx="203.8" cy="182.5" r="1.95" fill="#f2a324"/><circle cx="238.0" cy="162.1" r="1.95" fill="#f2a324"/><circle cx="249.4" cy="156.1" r="1.95" fill="#ea961e"/><circle cx="213.6" cy="157.3" r="1.95" fill="#f2a324"/><circle cx="211.4" cy="165.0" r="1.95" fill="#ea961e"/><circle cx="255.0" cy="162.2" r="1.95" fill="#f2a324"/><circle cx="227.6" cy="169.9" r="1.95" fill="#f2a324"/><circle cx="195.3" cy="165.9" r="1.95" fill="#ea961e"/><circle cx="205.5" cy="167.4" r="1.95" fill="#f2a324"/><circle cx="231.3" cy="161.0" r="1.95" fill="#f2a324"/><circle cx="201.1" cy="171.1" r="1.95" fill="#ea961e"/><circle cx="228.0" cy="171.2" r="1.95" fill="#f2a324"/><circle cx="235.0" cy="168.7" r="1.95" fill="#f2a324"/><circle cx="240.4" cy="166.5" r="1.95" fill="#f2a324"/><circle cx="240.8" cy="184.7" r="1.95" fill="#f2a324"/><circle cx="211.4" cy="171.1" r="1.95" fill="#f2a324"/><circle cx="250.3" cy="152.9" r="1.95" fill="#ea961e"/><circle cx="223.6" cy="150.1" r="1.95" fill="#ea961e"/><circle cx="198.9" cy="175.8" r="1.95" fill="#f2a324"/><circle cx="254.1" cy="153.6" r="1.95" fill="#f2a324"/><circle cx="238.2" cy="153.1" r="1.95" fill="#f2a324"/><circle cx="249.8" cy="153.9" r="1.95" fill="#f2a324"/><circle cx="228.5" cy="161.6" r="1.95" fill="#ea961e"/><circle cx="215.3" cy="178.1" r="1.95" fill="#ea961e"/><circle cx="231.1" cy="165.9" r="1.95" fill="#ea961e"/><circle cx="216.2" cy="173.8" r="1.95" fill="#f2a324"/><circle cx="201.0" cy="158.4" r="1.95" fill="#ea961e"/><circle cx="246.2" cy="158.6" r="1.95" fill="#ea961e"/><circle cx="248.9" cy="158.1" r="1.95" fill="#ea961e"/><circle cx="240.9" cy="150.8" r="1.95" fill="#ea961e"/><circle cx="240.1" cy="165.3" r="1.95" fill="#ea961e"/><circle cx="247.7" cy="150.6" r="1.95" fill="#f2a324"/><circle cx="198.5" cy="184.1" r="1.95" fill="#f2a324"/><circle cx="216.7" cy="170.8" r="1.95" fill="#f2a324"/><circle cx="211.9" cy="152.6" r="1.95" fill="#f2a324"/><circle cx="210.0" cy="151.7" r="1.95" fill="#ea961e"/><circle cx="214.9" cy="160.1" r="1.95" fill="#f2a324"/><circle cx="213.4" cy="168.5" r="1.95" fill="#ea961e"/><circle cx="243.1" cy="170.7" r="1.95" fill="#ea961e"/><circle cx="201.1" cy="182.2" r="1.95" fill="#f2a324"/><circle cx="220.3" cy="168.8" r="1.95" fill="#f2a324"/><circle cx="236.6" cy="164.4" r="1.95" fill="#f2a324"/><circle cx="198.7" cy="178.9" r="1.95" fill="#ea961e"/><circle cx="238.9" cy="159.1" r="1.95" fill="#ea961e"/><circle cx="213.6" cy="166.8" r="1.95" fill="#ea961e"/><circle cx="223.9" cy="158.3" r="1.95" fill="#f2a324"/><circle cx="214.7" cy="162.3" r="1.95" fill="#ea961e"/><circle cx="219.6" cy="167.4" r="1.95" fill="#f2a324"/><circle cx="207.5" cy="168.7" r="1.95" fill="#ea961e"/><circle cx="211.7" cy="150.9" r="1.95" fill="#f2a324"/><circle cx="214.4" cy="157.0" r="1.95" fill="#f2a324"/><circle cx="238.1" cy="177.8" r="1.95" fill="#f2a324"/><circle cx="220.1" cy="161.0" r="1.95" fill="#f2a324"/><circle cx="204.0" cy="178.1" r="1.95" fill="#f2a324"/><circle cx="243.2" cy="181.9" r="1.95" fill="#ea961e"/><circle cx="229.1" cy="168.7" r="1.95" fill="#f2a324"/><circle cx="239.8" cy="176.8" r="1.95" fill="#ea961e"/><circle cx="218.2" cy="151.5" r="1.95" fill="#f2a324"/><circle cx="231.4" cy="174.0" r="1.95" fill="#f2a324"/><circle cx="239.6" cy="168.0" r="1.95" fill="#ea961e"/><circle cx="227.7" cy="170.0" r="1.95" fill="#f2a324"/><circle cx="198.4" cy="178.7" r="1.95" fill="#ea961e"/><circle cx="242.9" cy="155.8" r="1.95" fill="#f2a324"/><circle cx="219.6" cy="167.6" r="1.95" fill="#f2a324"/><circle cx="245.4" cy="173.5" r="1.95" fill="#f2a324"/><circle cx="211.0" cy="179.0" r="1.95" fill="#f2a324"/><circle cx="239.0" cy="176.8" r="1.95" fill="#f2a324"/><circle cx="213.5" cy="169.2" r="1.95" fill="#f2a324"/><circle cx="225.2" cy="152.1" r="1.95" fill="#f2a324"/><circle cx="256.7" cy="147.8" r="1.95" fill="#f2a324"/><circle cx="194.9" cy="163.7" r="1.95" fill="#f2a324"/><circle cx="196.6" cy="161.4" r="1.95" fill="#f2a324"/><circle cx="199.6" cy="158.2" r="1.95" fill="#f2a324"/><circle cx="201.5" cy="156.3" r="1.95" fill="#f2a324"/><circle cx="204.0" cy="152.8" r="1.95" fill="#f2a324"/><circle cx="206.9" cy="150.7" r="1.95" fill="#f2a324"/><circle cx="209.4" cy="150.5" r="1.95" fill="#f2a324"/><circle cx="212.8" cy="148.5" r="1.95" fill="#f2a324"/><circle cx="215.6" cy="147.7" r="1.95" fill="#f2a324"/><circle cx="219.0" cy="148.5" r="1.95" fill="#f2a324"/><circle cx="221.4" cy="148.0" r="1.95" fill="#f2a324"/><circle cx="224.7" cy="149.6" r="1.95" fill="#f2a324"/><circle cx="228.3" cy="147.9" r="1.95" fill="#f2a324"/><circle cx="232.2" cy="148.1" r="1.95" fill="#f2a324"/><circle cx="235.6" cy="147.1" r="1.95" fill="#f2a324"/><circle cx="238.3" cy="146.9" r="1.95" fill="#efc72a"/><circle cx="240.7" cy="146.4" r="1.95" fill="#f2a324"/><circle cx="244.0" cy="146.8" r="1.95" fill="#efc72a"/><circle cx="247.7" cy="146.7" r="1.95" fill="#f2a324"/><circle cx="250.1" cy="146.9" r="1.95" fill="#f2a324"/><circle cx="252.6" cy="147.6" r="1.95" fill="#f2a324"/><circle cx="256.6" cy="147.7" r="1.95" fill="#f2a324"/><circle cx="258.6" cy="146.4" r="1.95" fill="#efc72a"/><circle cx="260.6" cy="151.7" r="1.95" fill="#efc72a"/><circle cx="260.0" cy="154.5" r="1.95" fill="#f2a324"/><circle cx="258.2" cy="157.1" r="1.95" fill="#f2a324"/><circle cx="257.7" cy="159.5" r="1.95" fill="#f2a324"/><circle cx="255.8" cy="161.9" r="1.95" fill="#f2a324"/><circle cx="253.5" cy="164.6" r="1.95" fill="#f2a324"/><circle cx="252.5" cy="166.3" r="1.95" fill="#f2a324"/><circle cx="250.6" cy="170.5" r="1.95" fill="#f2a324"/><circle cx="247.8" cy="174.6" r="1.95" fill="#efc72a"/><circle cx="246.7" cy="176.1" r="1.95" fill="#f2a324"/><circle cx="244.0" cy="179.3" r="1.95" fill="#f2a324"/><circle cx="244.7" cy="182.4" r="1.95" fill="#f2a324"/><circle cx="244.4" cy="185.4" r="1.95" fill="#f2a324"/><circle cx="244.2" cy="189.7" r="1.95" fill="#f2a324"/><circle cx="240.2" cy="187.3" r="1.95" fill="#f2a324"/><circle cx="238.5" cy="184.1" r="1.95" fill="#efc72a"/><circle cx="237.1" cy="180.3" r="1.95" fill="#f2a324"/><circle cx="233.6" cy="180.2" r="1.95" fill="#f2a324"/><circle cx="228.6" cy="178.6" r="1.95" fill="#f2a324"/><circle cx="225.4" cy="178.3" r="1.95" fill="#f2a324"/><circle cx="222.2" cy="178.7" r="1.95" fill="#f2a324"/><circle cx="218.6" cy="178.3" r="1.95" fill="#f2a324"/><circle cx="215.9" cy="178.9" r="1.95" fill="#f2a324"/><circle cx="212.3" cy="179.3" r="1.95" fill="#f2a324"/><circle cx="209.4" cy="179.6" r="1.95" fill="#f2a324"/><circle cx="206.7" cy="183.1" r="1.95" fill="#f2a324"/><circle cx="204.6" cy="184.9" r="1.95" fill="#f2a324"/><circle cx="203.0" cy="187.4" r="1.95" fill="#f2a324"/><circle cx="201.5" cy="189.4" r="1.95" fill="#f2a324"/><circle cx="198.6" cy="187.5" r="1.95" fill="#f2a324"/><circle cx="197.6" cy="182.8" r="1.95" fill="#f2a324"/><circle cx="196.3" cy="178.3" r="1.95" fill="#f2a324"/><circle cx="194.8" cy="174.8" r="1.95" fill="#f2a324"/><circle cx="193.7" cy="170.8" r="1.95" fill="#efc72a"/><circle cx="195.1" cy="167.1" r="1.95" fill="#efc72a"/><circle cx="313.8" cy="295.0" r="1.95" fill="#f2a324"/><circle cx="317.6" cy="243.3" r="1.95" fill="#f2a324"/><circle cx="305.7" cy="264.4" r="1.95" fill="#f2a324"/><circle cx="299.1" cy="301.6" r="1.95" fill="#ea961e"/><circle cx="313.0" cy="258.2" r="1.95" fill="#f2a324"/><circle cx="326.8" cy="257.6" r="1.95" fill="#f2a324"/><circle cx="311.8" cy="258.5" r="1.95" fill="#ea961e"/><circle cx="308.6" cy="268.8" r="1.95" fill="#f2a324"/><circle cx="342.4" cy="252.3" r="1.95" fill="#f2a324"/><circle cx="312.4" cy="261.4" r="1.95" fill="#ea961e"/><circle cx="305.9" cy="290.4" r="1.95" fill="#ea961e"/><circle cx="323.6" cy="261.8" r="1.95" fill="#f2a324"/><circle cx="309.2" cy="245.6" r="1.95" fill="#ea961e"/><circle cx="320.9" cy="287.6" r="1.95" fill="#f2a324"/><circle cx="307.7" cy="267.9" r="1.95" fill="#f2a324"/><circle cx="302.1" cy="296.3" r="1.95" fill="#ea961e"/><circle cx="324.3" cy="265.0" r="1.95" fill="#f2a324"/><circle cx="306.0" cy="256.6" r="1.95" fill="#ea961e"/><circle cx="303.7" cy="299.2" r="1.95" fill="#f2a324"/><circle cx="312.3" cy="266.5" r="1.95" fill="#f2a324"/><circle cx="321.4" cy="255.5" r="1.95" fill="#f2a324"/><circle cx="301.1" cy="271.8" r="1.95" fill="#f2a324"/><circle cx="309.0" cy="292.1" r="1.95" fill="#f2a324"/><circle cx="301.3" cy="279.9" r="1.95" fill="#f2a324"/><circle cx="306.9" cy="264.7" r="1.95" fill="#ea961e"/><circle cx="306.2" cy="257.1" r="1.95" fill="#f2a324"/><circle cx="328.6" cy="253.6" r="1.95" fill="#ea961e"/><circle cx="312.4" cy="285.4" r="1.95" fill="#ea961e"/><circle cx="311.6" cy="253.6" r="1.95" fill="#f2a324"/><circle cx="323.4" cy="244.2" r="1.95" fill="#ea961e"/><circle cx="315.8" cy="276.9" r="1.95" fill="#f2a324"/><circle cx="330.8" cy="267.5" r="1.95" fill="#ea961e"/><circle cx="311.4" cy="303.9" r="1.95" fill="#ea961e"/><circle cx="324.3" cy="263.9" r="1.95" fill="#f2a324"/><circle cx="314.2" cy="253.2" r="1.95" fill="#f2a324"/><circle cx="337.0" cy="267.2" r="1.95" fill="#f2a324"/><circle cx="319.0" cy="250.9" r="1.95" fill="#ea961e"/><circle cx="323.6" cy="282.9" r="1.95" fill="#f2a324"/><circle cx="300.5" cy="281.7" r="1.95" fill="#ea961e"/><circle cx="321.2" cy="249.8" r="1.95" fill="#ea961e"/><circle cx="301.4" cy="272.9" r="1.95" fill="#f2a324"/><circle cx="344.3" cy="253.2" r="1.95" fill="#ea961e"/><circle cx="320.1" cy="243.6" r="1.95" fill="#f2a324"/><circle cx="304.0" cy="292.7" r="1.95" fill="#ea961e"/><circle cx="337.5" cy="252.3" r="1.95" fill="#ea961e"/><circle cx="316.0" cy="274.7" r="1.95" fill="#ea961e"/><circle cx="337.9" cy="247.9" r="1.95" fill="#f2a324"/><circle cx="323.5" cy="282.0" r="1.95" fill="#ea961e"/><circle cx="317.0" cy="279.0" r="1.95" fill="#f2a324"/><circle cx="328.9" cy="269.9" r="1.95" fill="#f2a324"/><circle cx="320.5" cy="255.8" r="1.95" fill="#f2a324"/><circle cx="335.0" cy="270.7" r="1.95" fill="#ea961e"/><circle cx="319.7" cy="247.2" r="1.95" fill="#ea961e"/><circle cx="317.5" cy="246.1" r="1.95" fill="#f2a324"/><circle cx="321.5" cy="242.7" r="1.95" fill="#f2a324"/><circle cx="300.1" cy="289.1" r="1.95" fill="#f2a324"/><circle cx="321.6" cy="243.6" r="1.95" fill="#f2a324"/><circle cx="302.8" cy="297.4" r="1.95" fill="#f2a324"/><circle cx="305.7" cy="305.8" r="1.95" fill="#f2a324"/><circle cx="304.3" cy="292.8" r="1.95" fill="#f2a324"/><circle cx="333.8" cy="250.6" r="1.95" fill="#f2a324"/><circle cx="309.7" cy="294.6" r="1.95" fill="#ea961e"/><circle cx="306.4" cy="257.6" r="1.95" fill="#f2a324"/><circle cx="312.0" cy="242.5" r="1.95" fill="#ea961e"/><circle cx="304.1" cy="302.7" r="1.95" fill="#f2a324"/><circle cx="340.8" cy="251.3" r="1.95" fill="#f2a324"/><circle cx="301.8" cy="275.6" r="1.95" fill="#f2a324"/><circle cx="314.0" cy="298.5" r="1.95" fill="#f2a324"/><circle cx="327.5" cy="266.4" r="1.95" fill="#f2a324"/><circle cx="324.9" cy="264.1" r="1.95" fill="#f2a324"/><circle cx="318.1" cy="251.8" r="1.95" fill="#f2a324"/><circle cx="298.4" cy="294.9" r="1.95" fill="#ea961e"/><circle cx="325.3" cy="284.5" r="1.95" fill="#ea961e"/><circle cx="303.5" cy="281.3" r="1.95" fill="#f2a324"/><circle cx="307.2" cy="279.1" r="1.95" fill="#f2a324"/><circle cx="306.2" cy="281.8" r="1.95" fill="#f2a324"/><circle cx="302.7" cy="302.8" r="1.95" fill="#ea961e"/><circle cx="335.1" cy="266.9" r="1.95" fill="#ea961e"/><circle cx="324.1" cy="263.5" r="1.95" fill="#f2a324"/><circle cx="332.7" cy="256.6" r="1.95" fill="#f2a324"/><circle cx="316.3" cy="255.9" r="1.95" fill="#ea961e"/><circle cx="326.4" cy="274.0" r="1.95" fill="#f2a324"/><circle cx="336.7" cy="251.7" r="1.95" fill="#ea961e"/><circle cx="311.0" cy="243.2" r="1.95" fill="#f2a324"/><circle cx="333.3" cy="271.2" r="1.95" fill="#f2a324"/><circle cx="318.6" cy="255.1" r="1.95" fill="#ea961e"/><circle cx="312.8" cy="290.2" r="1.95" fill="#f2a324"/><circle cx="309.3" cy="277.1" r="1.95" fill="#f2a324"/><circle cx="335.4" cy="275.1" r="1.95" fill="#ea961e"/><circle cx="306.8" cy="299.0" r="1.95" fill="#ea961e"/><circle cx="309.0" cy="255.8" r="1.95" fill="#f2a324"/><circle cx="312.3" cy="299.0" r="1.95" fill="#ea961e"/><circle cx="308.0" cy="300.8" r="1.95" fill="#f2a324"/><circle cx="330.6" cy="284.6" r="1.95" fill="#f2a324"/><circle cx="317.9" cy="288.5" r="1.95" fill="#f2a324"/><circle cx="311.4" cy="254.2" r="1.95" fill="#f2a324"/><circle cx="299.9" cy="301.0" r="1.95" fill="#ea961e"/><circle cx="298.1" cy="286.4" r="1.95" fill="#f2a324"/><circle cx="299.3" cy="279.6" r="1.95" fill="#ea961e"/><circle cx="297.7" cy="296.8" r="1.95" fill="#f2a324"/><circle cx="327.6" cy="259.3" r="1.95" fill="#ea961e"/><circle cx="300.9" cy="290.7" r="1.95" fill="#ea961e"/><circle cx="312.0" cy="268.4" r="1.95" fill="#ea961e"/><circle cx="308.8" cy="258.9" r="1.95" fill="#f2a324"/><circle cx="314.4" cy="261.5" r="1.95" fill="#f2a324"/><circle cx="316.6" cy="269.2" r="1.95" fill="#f2a324"/><circle cx="313.3" cy="287.2" r="1.95" fill="#f2a324"/><circle cx="306.8" cy="297.8" r="1.95" fill="#ea961e"/><circle cx="337.0" cy="251.4" r="1.95" fill="#ea961e"/><circle cx="306.1" cy="291.1" r="1.95" fill="#f2a324"/><circle cx="309.0" cy="240.4" r="1.95" fill="#f2a324"/><circle cx="311.6" cy="241.1" r="1.95" fill="#f2a324"/><circle cx="314.3" cy="240.8" r="1.95" fill="#f2a324"/><circle cx="316.9" cy="242.0" r="1.95" fill="#f2a324"/><circle cx="320.5" cy="242.8" r="1.95" fill="#f2a324"/><circle cx="322.9" cy="242.9" r="1.95" fill="#f2a324"/><circle cx="326.3" cy="243.1" r="1.95" fill="#efc72a"/><circle cx="329.2" cy="244.6" r="1.95" fill="#f2a324"/><circle cx="331.0" cy="245.3" r="1.95" fill="#f2a324"/><circle cx="334.6" cy="246.4" r="1.95" fill="#f2a324"/><circle cx="336.5" cy="247.5" r="1.95" fill="#f2a324"/><circle cx="339.2" cy="248.9" r="1.95" fill="#f2a324"/><circle cx="341.8" cy="250.9" r="1.95" fill="#f2a324"/><circle cx="344.6" cy="252.7" r="1.95" fill="#f2a324"/><circle cx="345.5" cy="256.5" r="1.95" fill="#f2a324"/><circle cx="344.0" cy="259.2" r="1.95" fill="#f2a324"/><circle cx="342.7" cy="262.7" r="1.95" fill="#efc72a"/><circle cx="339.4" cy="264.8" r="1.95" fill="#f2a324"/><circle cx="339.0" cy="267.9" r="1.95" fill="#f2a324"/><circle cx="336.8" cy="270.6" r="1.95" fill="#f2a324"/><circle cx="335.9" cy="274.4" r="1.95" fill="#efc72a"/><circle cx="335.2" cy="276.9" r="1.95" fill="#f2a324"/><circle cx="333.9" cy="280.3" r="1.95" fill="#f2a324"/><circle cx="333.1" cy="283.3" r="1.95" fill="#f2a324"/><circle cx="331.3" cy="285.5" r="1.95" fill="#f2a324"/><circle cx="329.5" cy="287.3" r="1.95" fill="#f2a324"/><circle cx="326.7" cy="289.2" r="1.95" fill="#f2a324"/><circle cx="325.4" cy="291.3" r="1.95" fill="#f2a324"/><circle cx="321.9" cy="292.6" r="1.95" fill="#f2a324"/><circle cx="319.2" cy="294.9" r="1.95" fill="#f2a324"/><circle cx="316.4" cy="295.8" r="1.95" fill="#f2a324"/><circle cx="314.4" cy="300.1" r="1.95" fill="#f2a324"/><circle cx="314.6" cy="304.0" r="1.95" fill="#f2a324"/><circle cx="310.6" cy="305.8" r="1.95" fill="#f2a324"/><circle cx="307.5" cy="307.0" r="1.95" fill="#f2a324"/><circle cx="303.6" cy="306.3" r="1.95" fill="#f2a324"/><circle cx="300.5" cy="305.7" r="1.95" fill="#f2a324"/><circle cx="297.7" cy="303.9" r="1.95" fill="#efc72a"/><circle cx="297.2" cy="300.6" r="1.95" fill="#f2a324"/><circle cx="296.3" cy="297.0" r="1.95" fill="#f2a324"/><circle cx="295.6" cy="293.4" r="1.95" fill="#f2a324"/><circle cx="296.0" cy="290.1" r="1.95" fill="#f2a324"/><circle cx="297.0" cy="286.6" r="1.95" fill="#f2a324"/><circle cx="297.3" cy="283.4" r="1.95" fill="#f2a324"/><circle cx="298.0" cy="279.7" r="1.95" fill="#f2a324"/><circle cx="299.5" cy="276.5" r="1.95" fill="#efc72a"/><circle cx="299.8" cy="273.0" r="1.95" fill="#f2a324"/><circle cx="300.3" cy="270.3" r="1.95" fill="#efc72a"/><circle cx="301.7" cy="267.0" r="1.95" fill="#f2a324"/><circle cx="303.2" cy="263.8" r="1.95" fill="#f2a324"/><circle cx="303.4" cy="261.5" r="1.95" fill="#f2a324"/><circle cx="304.5" cy="258.5" r="1.95" fill="#f2a324"/><circle cx="305.0" cy="255.3" r="1.95" fill="#efc72a"/><circle cx="305.8" cy="250.8" r="1.95" fill="#f2a324"/><circle cx="306.8" cy="247.5" r="1.95" fill="#f2a324"/><circle cx="307.5" cy="244.5" r="1.95" fill="#f2a324"/><circle cx="298.1" cy="270.0" r="1.95" fill="#ebe433"/><circle cx="307.5" cy="270.1" r="1.95" fill="#ebe433"/><circle cx="284.5" cy="267.9" r="1.95" fill="#ebe433"/><circle cx="302.5" cy="262.1" r="1.95" fill="#ebe433"/><circle cx="296.3" cy="258.1" r="1.95" fill="#ebe433"/><circle cx="282.6" cy="263.3" r="1.95" fill="#efc72a"/><circle cx="293.4" cy="255.3" r="1.95" fill="#ebe433"/><circle cx="294.4" cy="264.4" r="1.95" fill="#ebe433"/><circle cx="293.4" cy="264.9" r="1.95" fill="#ebe433"/><circle cx="305.7" cy="260.6" r="1.95" fill="#ebe433"/><circle cx="299.0" cy="266.6" r="1.95" fill="#efc72a"/><circle cx="298.1" cy="267.7" r="1.95" fill="#ebe433"/><circle cx="294.9" cy="263.1" r="1.95" fill="#ebe433"/><circle cx="298.6" cy="259.8" r="1.95" fill="#ebe433"/><circle cx="290.1" cy="262.9" r="1.95" fill="#ebe433"/><circle cx="303.4" cy="256.8" r="1.95" fill="#ebe433"/><circle cx="291.9" cy="264.7" r="1.95" fill="#ebe433"/><circle cx="291.3" cy="263.6" r="1.95" fill="#ebe433"/><circle cx="299.6" cy="270.2" r="1.95" fill="#ebe433"/><circle cx="288.5" cy="258.9" r="1.95" fill="#ebe433"/><circle cx="298.9" cy="270.0" r="1.95" fill="#efc72a"/><circle cx="301.8" cy="272.4" r="1.95" fill="#ebe433"/><circle cx="279.6" cy="258.9" r="1.95" fill="#efc72a"/><circle cx="298.1" cy="267.1" r="1.95" fill="#ebe433"/><circle cx="308.0" cy="266.1" r="1.95" fill="#ebe433"/><circle cx="298.7" cy="268.0" r="1.95" fill="#ebe433"/><circle cx="300.5" cy="256.9" r="1.95" fill="#ebe433"/><circle cx="293.1" cy="269.5" r="1.95" fill="#efc72a"/><circle cx="303.6" cy="273.0" r="1.95" fill="#ebe433"/><circle cx="290.2" cy="270.9" r="1.95" fill="#ebe433"/><circle cx="296.5" cy="257.9" r="1.95" fill="#ebe433"/><circle cx="291.9" cy="259.3" r="1.95" fill="#ebe433"/><circle cx="299.2" cy="273.5" r="1.95" fill="#efc72a"/><circle cx="296.7" cy="252.9" r="1.95" fill="#efc72a"/><circle cx="304.7" cy="265.2" r="1.95" fill="#ebe433"/><circle cx="290.8" cy="265.6" r="1.95" fill="#ebe433"/><circle cx="291.6" cy="254.3" r="1.95" fill="#ebe433"/><circle cx="285.0" cy="255.5" r="1.95" fill="#efc72a"/><circle cx="301.7" cy="257.6" r="1.95" fill="#ebe433"/><circle cx="303.5" cy="268.4" r="1.95" fill="#ebe433"/><circle cx="302.1" cy="253.9" r="1.95" fill="#ebe433"/><circle cx="301.4" cy="262.6" r="1.95" fill="#ebe433"/><circle cx="305.0" cy="253.8" r="1.95" fill="#ebe433"/><circle cx="302.1" cy="255.8" r="1.95" fill="#ebe433"/><circle cx="294.0" cy="253.4" r="1.95" fill="#ebe433"/><circle cx="297.0" cy="262.1" r="1.95" fill="#ebe433"/><circle cx="290.0" cy="266.8" r="1.95" fill="#ebe433"/><circle cx="291.8" cy="260.9" r="1.95" fill="#ebe433"/><circle cx="309.2" cy="270.0" r="1.95" fill="#ebe433"/><circle cx="305.3" cy="259.6" r="1.95" fill="#ebe433"/><circle cx="297.8" cy="259.1" r="1.95" fill="#ebe433"/><circle cx="307.3" cy="260.7" r="1.95" fill="#ebe433"/><circle cx="297.9" cy="272.6" r="1.95" fill="#ebe433"/><circle cx="286.7" cy="261.7" r="1.95" fill="#ebe433"/><circle cx="304.9" cy="272.4" r="1.95" fill="#efc72a"/><circle cx="305.5" cy="270.7" r="1.95" fill="#ebe433"/><circle cx="296.9" cy="258.3" r="1.95" fill="#ebe433"/><circle cx="304.6" cy="267.7" r="1.95" fill="#ebe433"/><circle cx="289.4" cy="254.0" r="1.95" fill="#ebe433"/><circle cx="304.3" cy="256.6" r="1.95" fill="#ebe433"/><circle cx="308.7" cy="257.4" r="1.95" fill="#ebe433"/><circle cx="300.4" cy="262.7" r="1.95" fill="#ebe433"/><circle cx="286.4" cy="269.3" r="1.95" fill="#ebe433"/><circle cx="293.2" cy="254.0" r="1.95" fill="#ebe433"/><circle cx="303.5" cy="257.4" r="1.95" fill="#ebe433"/><circle cx="307.6" cy="272.4" r="1.95" fill="#ebe433"/><circle cx="293.7" cy="265.6" r="1.95" fill="#efc72a"/><circle cx="284.3" cy="256.2" r="1.95" fill="#ebe433"/><circle cx="290.0" cy="265.0" r="1.95" fill="#ebe433"/><circle cx="295.1" cy="255.4" r="1.95" fill="#efc72a"/><circle cx="281.5" cy="266.6" r="1.95" fill="#ebe433"/><circle cx="283.2" cy="265.7" r="1.95" fill="#ebe433"/><circle cx="295.1" cy="252.5" r="1.95" fill="#efc72a"/><circle cx="294.0" cy="265.0" r="1.95" fill="#ebe433"/><circle cx="303.7" cy="261.8" r="1.95" fill="#ebe433"/><circle cx="303.3" cy="270.8" r="1.95" fill="#ebe433"/><circle cx="284.6" cy="256.2" r="1.95" fill="#efc72a"/><circle cx="306.7" cy="262.5" r="1.95" fill="#ebe433"/><circle cx="297.7" cy="261.1" r="1.95" fill="#efc72a"/><circle cx="309.7" cy="257.9" r="1.95" fill="#ebe433"/><circle cx="299.1" cy="274.0" r="1.95" fill="#ebe433"/><circle cx="291.0" cy="262.3" r="1.95" fill="#efc72a"/><circle cx="286.4" cy="260.1" r="1.95" fill="#ebe433"/><circle cx="307.9" cy="271.3" r="1.95" fill="#efc72a"/><circle cx="304.0" cy="268.3" r="1.95" fill="#ebe433"/><circle cx="309.0" cy="267.6" r="1.95" fill="#ebe433"/><circle cx="297.5" cy="269.4" r="1.95" fill="#efc72a"/><circle cx="288.7" cy="257.9" r="1.95" fill="#efc72a"/><circle cx="293.9" cy="255.9" r="1.95" fill="#ebe433"/><circle cx="282.7" cy="267.6" r="1.95" fill="#efc72a"/><circle cx="301.7" cy="256.5" r="1.95" fill="#efc72a"/><circle cx="308.6" cy="257.1" r="1.95" fill="#ebe433"/><circle cx="306.6" cy="272.4" r="1.95" fill="#efc72a"/><circle cx="292.8" cy="254.2" r="1.95" fill="#ebe433"/><circle cx="305.8" cy="266.5" r="1.95" fill="#ebe433"/><circle cx="293.8" cy="266.4" r="1.95" fill="#efc72a"/><circle cx="301.6" cy="264.7" r="1.95" fill="#efc72a"/><circle cx="306.7" cy="258.1" r="1.95" fill="#ebe433"/><circle cx="283.1" cy="258.2" r="1.95" fill="#ebe433"/><circle cx="289.0" cy="255.9" r="1.95" fill="#ebe433"/><circle cx="300.1" cy="256.9" r="1.95" fill="#ebe433"/><circle cx="287.4" cy="257.9" r="1.95" fill="#ebe433"/><circle cx="281.2" cy="258.7" r="1.95" fill="#ebe433"/><circle cx="289.2" cy="255.2" r="1.95" fill="#efc72a"/><circle cx="305.5" cy="264.1" r="1.95" fill="#efc72a"/><circle cx="285.2" cy="265.1" r="1.95" fill="#efc72a"/><circle cx="301.5" cy="256.5" r="1.95" fill="#efc72a"/><circle cx="280.9" cy="266.0" r="1.95" fill="#ebe433"/><circle cx="287.0" cy="256.7" r="1.95" fill="#ebe433"/><circle cx="301.4" cy="270.7" r="1.95" fill="#ebe433"/><circle cx="386.5" cy="208.6" r="1.95" fill="#ebe433"/><circle cx="406.9" cy="227.7" r="1.95" fill="#ebe433"/><circle cx="391.7" cy="210.9" r="1.95" fill="#ebe433"/><circle cx="391.9" cy="221.3" r="1.95" fill="#ebe433"/><circle cx="394.3" cy="219.4" r="1.95" fill="#ebe433"/><circle cx="406.1" cy="227.8" r="1.95" fill="#ebe433"/><circle cx="392.2" cy="225.0" r="1.95" fill="#ebe433"/><circle cx="396.4" cy="219.7" r="1.95" fill="#ebe433"/><circle cx="385.8" cy="209.5" r="1.95" fill="#ebe433"/><circle cx="398.4" cy="219.5" r="1.95" fill="#ebe433"/><circle cx="407.8" cy="224.2" r="1.95" fill="#ebe433"/><circle cx="381.4" cy="210.0" r="1.95" fill="#ebe433"/><circle cx="395.8" cy="219.0" r="1.95" fill="#ebe433"/><circle cx="388.9" cy="209.9" r="1.95" fill="#ebe433"/><circle cx="393.0" cy="210.3" r="1.95" fill="#ebe433"/><circle cx="398.9" cy="227.7" r="1.95" fill="#ebe433"/><circle cx="406.4" cy="229.5" r="1.95" fill="#ebe433"/><circle cx="392.4" cy="217.1" r="1.95" fill="#ebe433"/><circle cx="387.7" cy="215.0" r="1.95" fill="#ebe433"/><circle cx="405.7" cy="228.9" r="1.95" fill="#ebe433"/><circle cx="406.1" cy="227.3" r="1.95" fill="#ebe433"/><circle cx="410.7" cy="229.4" r="1.95" fill="#ebe433"/><circle cx="388.0" cy="217.1" r="1.95" fill="#ebe433"/><circle cx="400.2" cy="215.7" r="1.95" fill="#ebe433"/><circle cx="393.9" cy="219.1" r="1.95" fill="#ebe433"/><circle cx="411.0" cy="225.6" r="1.95" fill="#ebe433"/><circle cx="410.0" cy="222.2" r="1.95" fill="#ebe433"/><circle cx="405.9" cy="228.2" r="1.95" fill="#ebe433"/><circle cx="397.4" cy="229.2" r="1.95" fill="#ebe433"/><circle cx="396.6" cy="217.4" r="1.95" fill="#ebe433"/><circle cx="389.8" cy="222.5" r="1.95" fill="#ebe433"/><circle cx="388.6" cy="218.2" r="1.95" fill="#ebe433"/><circle cx="384.0" cy="210.2" r="1.95" fill="#ebe433"/><circle cx="389.4" cy="216.8" r="1.95" fill="#ebe433"/><circle cx="389.2" cy="212.8" r="1.95" fill="#ebe433"/><circle cx="406.9" cy="221.6" r="1.95" fill="#ebe433"/><circle cx="398.2" cy="222.6" r="1.95" fill="#ebe433"/><circle cx="394.7" cy="220.2" r="1.95" fill="#ebe433"/><circle cx="399.6" cy="218.3" r="1.95" fill="#ebe433"/><circle cx="389.9" cy="212.8" r="1.95" fill="#ebe433"/><circle cx="387.1" cy="219.3" r="1.95" fill="#ebe433"/><circle cx="392.3" cy="221.1" r="1.95" fill="#ebe433"/><circle cx="397.8" cy="218.8" r="1.95" fill="#ebe433"/><circle cx="385.1" cy="208.6" r="1.95" fill="#ebe433"/><circle cx="394.1" cy="224.6" r="1.95" fill="#ebe433"/><circle cx="383.5" cy="212.4" r="1.95" fill="#ebe433"/><circle cx="410.7" cy="224.7" r="1.95" fill="#ebe433"/><circle cx="384.9" cy="215.1" r="1.95" fill="#ebe433"/><circle cx="391.3" cy="223.2" r="1.95" fill="#ebe433"/><circle cx="399.7" cy="227.4" r="1.95" fill="#ebe433"/><circle cx="403.6" cy="224.8" r="1.95" fill="#ebe433"/><circle cx="404.3" cy="218.4" r="1.95" fill="#ebe433"/><circle cx="405.1" cy="224.0" r="1.95" fill="#ebe433"/><circle cx="404.5" cy="221.1" r="1.95" fill="#ebe433"/><circle cx="398.3" cy="217.0" r="1.95" fill="#ebe433"/><circle cx="405.1" cy="227.9" r="1.95" fill="#ebe433"/><circle cx="399.4" cy="216.1" r="1.95" fill="#ebe433"/><circle cx="394.5" cy="218.0" r="1.95" fill="#ebe433"/><circle cx="392.5" cy="220.3" r="1.95" fill="#ebe433"/><circle cx="392.3" cy="214.7" r="1.95" fill="#ebe433"/><circle cx="602.9" cy="185.4" r="1.95" fill="#f2a324"/><circle cx="584.6" cy="168.5" r="1.95" fill="#efc72a"/><circle cx="605.0" cy="185.1" r="1.95" fill="#efc72a"/><circle cx="580.8" cy="175.2" r="1.95" fill="#efc72a"/><circle cx="573.4" cy="166.1" r="1.95" fill="#efc72a"/><circle cx="591.9" cy="187.1" r="1.95" fill="#efc72a"/><circle cx="593.5" cy="189.0" r="1.95" fill="#efc72a"/><circle cx="592.7" cy="181.4" r="1.95" fill="#f2a324"/><circle cx="586.6" cy="179.3" r="1.95" fill="#f2a324"/><circle cx="609.0" cy="181.2" r="1.95" fill="#efc72a"/><circle cx="576.8" cy="174.0" r="1.95" fill="#f2a324"/><circle cx="594.3" cy="178.8" r="1.95" fill="#efc72a"/><circle cx="589.7" cy="180.0" r="1.95" fill="#efc72a"/><circle cx="586.0" cy="177.7" r="1.95" fill="#efc72a"/><circle cx="579.5" cy="172.6" r="1.95" fill="#efc72a"/><circle cx="604.4" cy="177.3" r="1.95" fill="#f2a324"/><circle cx="607.0" cy="181.6" r="1.95" fill="#efc72a"/><circle cx="610.6" cy="186.3" r="1.95" fill="#f2a324"/><circle cx="578.9" cy="172.0" r="1.95" fill="#efc72a"/><circle cx="579.9" cy="180.1" r="1.95" fill="#efc72a"/><circle cx="586.4" cy="188.8" r="1.95" fill="#efc72a"/><circle cx="574.6" cy="174.9" r="1.95" fill="#efc72a"/><circle cx="584.7" cy="181.6" r="1.95" fill="#f2a324"/><circle cx="584.6" cy="185.2" r="1.95" fill="#efc72a"/><circle cx="591.9" cy="178.3" r="1.95" fill="#f2a324"/><circle cx="597.6" cy="177.8" r="1.95" fill="#efc72a"/><circle cx="594.8" cy="174.9" r="1.95" fill="#f2a324"/><circle cx="579.0" cy="183.2" r="1.95" fill="#f2a324"/><circle cx="576.8" cy="169.1" r="1.95" fill="#efc72a"/><circle cx="604.3" cy="179.7" r="1.95" fill="#efc72a"/><circle cx="579.4" cy="171.4" r="1.95" fill="#f2a324"/><circle cx="607.3" cy="179.0" r="1.95" fill="#f2a324"/><circle cx="590.1" cy="174.3" r="1.95" fill="#f2a324"/><circle cx="606.8" cy="179.0" r="1.95" fill="#efc72a"/><circle cx="589.7" cy="179.9" r="1.95" fill="#f2a324"/><circle cx="574.7" cy="187.3" r="1.95" fill="#efc72a"/><circle cx="585.0" cy="186.6" r="1.95" fill="#efc72a"/><circle cx="584.5" cy="179.5" r="1.95" fill="#efc72a"/><circle cx="591.8" cy="187.8" r="1.95" fill="#f2a324"/><circle cx="587.8" cy="182.2" r="1.95" fill="#f2a324"/><circle cx="584.7" cy="186.0" r="1.95" fill="#f2a324"/><circle cx="579.6" cy="173.6" r="1.95" fill="#f2a324"/><circle cx="593.3" cy="174.3" r="1.95" fill="#f2a324"/><circle cx="575.5" cy="168.0" r="1.95" fill="#efc72a"/><circle cx="586.3" cy="170.9" r="1.95" fill="#f2a324"/><circle cx="580.4" cy="192.0" r="1.95" fill="#efc72a"/><circle cx="592.9" cy="193.8" r="1.95" fill="#ebe433"/><circle cx="594.3" cy="189.6" r="1.95" fill="#ebe433"/><circle cx="598.6" cy="190.2" r="1.95" fill="#ebe433"/><circle cx="598.6" cy="201.7" r="1.95" fill="#ebe433"/><circle cx="582.6" cy="200.3" r="1.95" fill="#ebe433"/><circle cx="602.4" cy="196.6" r="1.95" fill="#ebe433"/><circle cx="585.9" cy="190.2" r="1.95" fill="#ebe433"/><circle cx="590.4" cy="194.3" r="1.95" fill="#ebe433"/><circle cx="591.1" cy="191.6" r="1.95" fill="#ebe433"/><circle cx="575.1" cy="196.7" r="1.95" fill="#ebe433"/><circle cx="579.9" cy="201.1" r="1.95" fill="#ebe433"/><circle cx="592.7" cy="197.7" r="1.95" fill="#ebe433"/><circle cx="583.9" cy="189.5" r="1.95" fill="#ebe433"/><circle cx="599.1" cy="193.5" r="1.95" fill="#ebe433"/><circle cx="574.6" cy="197.6" r="1.95" fill="#ebe433"/><circle cx="587.5" cy="193.0" r="1.95" fill="#efc72a"/><circle cx="581.3" cy="191.8" r="1.95" fill="#efc72a"/><circle cx="594.7" cy="192.8" r="1.95" fill="#ebe433"/><circle cx="601.0" cy="201.2" r="1.95" fill="#ebe433"/><circle cx="599.4" cy="190.2" r="1.95" fill="#ebe433"/><circle cx="592.9" cy="194.0" r="1.95" fill="#ebe433"/><circle cx="592.7" cy="199.9" r="1.95" fill="#ebe433"/><circle cx="598.9" cy="194.0" r="1.95" fill="#ebe433"/><circle cx="577.0" cy="190.0" r="1.95" fill="#ebe433"/><circle cx="595.2" cy="200.1" r="1.95" fill="#efc72a"/><circle cx="572.3" cy="190.8" r="1.95" fill="#ebe433"/><circle cx="581.0" cy="194.5" r="1.95" fill="#efc72a"/><circle cx="581.3" cy="198.9" r="1.95" fill="#ebe433"/><circle cx="598.7" cy="197.7" r="1.95" fill="#ebe433"/><circle cx="579.4" cy="195.4" r="1.95" fill="#ebe433"/><circle cx="598.5" cy="201.2" r="1.95" fill="#ebe433"/><circle cx="591.0" cy="188.8" r="1.95" fill="#ebe433"/><circle cx="595.7" cy="189.5" r="1.95" fill="#ebe433"/><circle cx="584.0" cy="200.7" r="1.95" fill="#ebe433"/><circle cx="580.3" cy="189.5" r="1.95" fill="#ebe433"/><circle cx="585.0" cy="203.8" r="1.95" fill="#ebe433"/><circle cx="595.4" cy="202.1" r="1.95" fill="#ebe433"/><circle cx="585.9" cy="188.9" r="1.95" fill="#ebe433"/><circle cx="585.1" cy="196.7" r="1.95" fill="#ebe433"/><circle cx="597.6" cy="192.4" r="1.95" fill="#ebe433"/><circle cx="603.0" cy="198.8" r="1.95" fill="#ebe433"/><circle cx="579.2" cy="189.0" r="1.95" fill="#ebe433"/><circle cx="584.6" cy="191.4" r="1.95" fill="#ebe433"/><circle cx="575.5" cy="200.0" r="1.95" fill="#ebe433"/><circle cx="578.8" cy="192.1" r="1.95" fill="#ebe433"/><circle cx="585.7" cy="203.9" r="1.95" fill="#ebe433"/><circle cx="580.9" cy="203.0" r="1.95" fill="#efc72a"/><circle cx="589.6" cy="193.7" r="1.95" fill="#ebe433"/><circle cx="589.1" cy="200.9" r="1.95" fill="#ebe433"/><circle cx="593.0" cy="198.2" r="1.95" fill="#ebe433"/><circle cx="596.3" cy="202.1" r="1.95" fill="#efc72a"/><circle cx="580.5" cy="194.1" r="1.95" fill="#ebe433"/><circle cx="573.0" cy="192.8" r="1.95" fill="#ebe433"/><circle cx="594.2" cy="195.6" r="1.95" fill="#efc72a"/><circle cx="592.1" cy="215.1" r="1.95" fill="#f2a324"/><circle cx="587.7" cy="204.0" r="1.95" fill="#efc72a"/><circle cx="595.2" cy="207.3" r="1.95" fill="#f2a324"/><circle cx="601.0" cy="219.6" r="1.95" fill="#f2a324"/><circle cx="601.3" cy="209.0" r="1.95" fill="#efc72a"/><circle cx="604.7" cy="225.5" r="1.95" fill="#efc72a"/><circle cx="606.7" cy="227.9" r="1.95" fill="#efc72a"/><circle cx="605.0" cy="225.3" r="1.95" fill="#f2a324"/><circle cx="592.1" cy="207.2" r="1.95" fill="#f2a324"/><circle cx="592.0" cy="212.3" r="1.95" fill="#f2a324"/><circle cx="589.7" cy="203.2" r="1.95" fill="#f2a324"/><circle cx="600.6" cy="225.0" r="1.95" fill="#f2a324"/><circle cx="596.8" cy="216.0" r="1.95" fill="#efc72a"/><circle cx="591.4" cy="218.3" r="1.95" fill="#efc72a"/><circle cx="602.3" cy="206.6" r="1.95" fill="#f2a324"/><circle cx="606.9" cy="224.0" r="1.95" fill="#f2a324"/><circle cx="597.4" cy="213.8" r="1.95" fill="#efc72a"/><circle cx="595.3" cy="220.7" r="1.95" fill="#f2a324"/><circle cx="608.3" cy="206.6" r="1.95" fill="#efc72a"/><circle cx="595.4" cy="217.8" r="1.95" fill="#efc72a"/><circle cx="588.5" cy="204.4" r="1.95" fill="#efc72a"/><circle cx="608.4" cy="226.2" r="1.95" fill="#f2a324"/><circle cx="605.7" cy="203.7" r="1.95" fill="#f2a324"/><circle cx="600.1" cy="210.3" r="1.95" fill="#f2a324"/><circle cx="609.7" cy="215.5" r="1.95" fill="#f2a324"/><circle cx="591.4" cy="211.6" r="1.95" fill="#f2a324"/><circle cx="602.0" cy="214.5" r="1.95" fill="#efc72a"/><circle cx="601.5" cy="212.4" r="1.95" fill="#f2a324"/><circle cx="594.7" cy="216.8" r="1.95" fill="#f2a324"/><circle cx="594.1" cy="205.2" r="1.95" fill="#efc72a"/><circle cx="607.9" cy="217.3" r="1.95" fill="#efc72a"/><circle cx="607.1" cy="209.1" r="1.95" fill="#efc72a"/><circle cx="597.9" cy="209.0" r="1.95" fill="#f2a324"/><circle cx="598.5" cy="208.3" r="1.95" fill="#f2a324"/><circle cx="599.5" cy="204.2" r="1.95" fill="#f2a324"/><circle cx="607.2" cy="217.4" r="1.95" fill="#f2a324"/><circle cx="604.2" cy="205.2" r="1.95" fill="#f2a324"/><circle cx="603.2" cy="204.9" r="1.95" fill="#f2a324"/><circle cx="594.0" cy="206.8" r="1.95" fill="#f2a324"/><circle cx="598.8" cy="223.7" r="1.95" fill="#efc72a"/><circle cx="609.4" cy="184.4" r="1.95" fill="#f2a324"/><circle cx="605.7" cy="192.3" r="1.95" fill="#f2a324"/><circle cx="604.1" cy="197.9" r="1.95" fill="#f2a324"/><circle cx="605.5" cy="190.5" r="1.95" fill="#f2a324"/><circle cx="609.0" cy="193.6" r="1.95" fill="#f2a324"/><circle cx="610.2" cy="198.5" r="1.95" fill="#f2a324"/><circle cx="610.1" cy="197.1" r="1.95" fill="#f2a324"/><circle cx="610.4" cy="204.8" r="1.95" fill="#f2a324"/><circle cx="569.7" cy="188.7" r="1.95" fill="#ebe433"/><circle cx="572.0" cy="187.5" r="1.95" fill="#ebe433"/><circle cx="584.0" cy="220.0" r="1.95" fill="#ebe433"/><circle cx="583.7" cy="232.0" r="1.95" fill="#ebe433"/><circle cx="148.7" cy="158.5" r="1.95" fill="#ebe433"/><circle cx="150.6" cy="159.4" r="1.95" fill="#ebe433"/><circle cx="154.1" cy="160.4" r="1.95" fill="#ebe433"/><circle cx="156.1" cy="163.6" r="1.95" fill="#f2a324"/><circle cx="158.7" cy="164.5" r="1.95" fill="#ebe433"/><circle cx="161.3" cy="167.2" r="1.95" fill="#ebe433"/><circle cx="162.2" cy="169.6" r="1.95" fill="#f2a324"/><circle cx="165.2" cy="170.4" r="1.95" fill="#ebe433"/><circle cx="169.1" cy="171.1" r="1.95" fill="#f2a324"/><circle cx="171.9" cy="171.0" r="1.95" fill="#ebe433"/><circle cx="173.7" cy="173.1" r="1.95" fill="#f2a324"/><circle cx="175.7" cy="173.3" r="1.95" fill="#f2a324"/><circle cx="179.0" cy="172.3" r="1.95" fill="#ebe433"/><circle cx="182.4" cy="173.6" r="1.95" fill="#ebe433"/><circle cx="183.8" cy="174.5" r="1.95" fill="#ebe433"/><circle cx="176.1" cy="165.4" r="1.95" fill="#ebe433"/><circle cx="171.0" cy="168.2" r="1.95" fill="#ebe433"/><circle cx="174.6" cy="170.2" r="1.95" fill="#ebe433"/><circle cx="173.7" cy="168.2" r="1.95" fill="#ebe433"/><circle cx="169.1" cy="170.2" r="1.95" fill="#ebe433"/><circle cx="173.0" cy="165.2" r="1.95" fill="#ebe433"/><circle cx="174.5" cy="173.9" r="1.95" fill="#ebe433"/><circle cx="169.5" cy="166.3" r="1.95" fill="#ebe433"/><circle cx="177.1" cy="167.5" r="1.95" fill="#ebe433"/><circle cx="172.3" cy="169.5" r="1.95" fill="#ebe433"/><circle cx="175.2" cy="179.1" r="1.95" fill="#ebe433"/><circle cx="177.7" cy="180.1" r="1.95" fill="#ebe433"/><circle cx="178.7" cy="184.4" r="1.95" fill="#ebe433"/><circle cx="179.8" cy="186.1" r="1.95" fill="#ebe433"/><circle cx="180.5" cy="188.7" r="1.95" fill="#ebe433"/><circle cx="183.8" cy="190.2" r="1.95" fill="#ebe433"/><circle cx="185.1" cy="192.1" r="1.95" fill="#ebe433"/><circle cx="186.6" cy="192.9" r="1.95" fill="#ebe433"/><circle cx="187.8" cy="193.9" r="1.95" fill="#ebe433"/><circle cx="189.6" cy="197.8" r="1.95" fill="#ebe433"/><circle cx="191.7" cy="197.7" r="1.95" fill="#ebe433"/><circle cx="193.6" cy="199.1" r="1.95" fill="#ebe433"/><circle cx="197.2" cy="201.2" r="1.95" fill="#ebe433"/><circle cx="198.8" cy="202.2" r="1.95" fill="#ebe433"/><circle cx="200.0" cy="203.5" r="1.95" fill="#ebe433"/><circle cx="204.3" cy="204.9" r="1.95" fill="#ebe433"/><circle cx="206.1" cy="206.5" r="1.95" fill="#ebe433"/><circle cx="208.2" cy="205.5" r="1.95" fill="#ebe433"/><circle cx="213.2" cy="206.7" r="1.95" fill="#ebe433"/><circle cx="214.1" cy="208.9" r="1.95" fill="#ebe433"/><circle cx="216.5" cy="210.0" r="1.95" fill="#ebe433"/><circle cx="218.2" cy="208.9" r="1.95" fill="#ebe433"/><circle cx="220.4" cy="211.5" r="1.95" fill="#ebe433"/><circle cx="223.0" cy="211.1" r="1.95" fill="#ebe433"/><circle cx="226.3" cy="213.0" r="1.95" fill="#ebe433"/><circle cx="228.2" cy="214.5" r="1.95" fill="#ebe433"/><circle cx="228.8" cy="214.9" r="1.95" fill="#ebe433"/><circle cx="231.6" cy="214.1" r="1.95" fill="#ebe433"/><circle cx="234.1" cy="217.9" r="1.95" fill="#ebe433"/><circle cx="237.0" cy="218.3" r="1.95" fill="#ebe433"/><circle cx="238.6" cy="221.4" r="1.95" fill="#ebe433"/><circle cx="240.4" cy="222.6" r="1.95" fill="#ebe433"/><circle cx="241.5" cy="223.6" r="1.95" fill="#ebe433"/><circle cx="242.9" cy="226.3" r="1.95" fill="#ebe433"/><circle cx="191.4" cy="186.9" r="1.95" fill="#ebe433"/><circle cx="195.0" cy="188.5" r="1.95" fill="#ebe433"/><circle cx="194.9" cy="189.9" r="1.95" fill="#ebe433"/><circle cx="197.6" cy="190.0" r="1.95" fill="#ebe433"/><circle cx="199.1" cy="193.0" r="1.95" fill="#ebe433"/><circle cx="202.8" cy="193.5" r="1.95" fill="#ebe433"/><circle cx="204.2" cy="195.1" r="1.95" fill="#ebe433"/><circle cx="206.2" cy="198.6" r="1.95" fill="#ebe433"/><circle cx="207.9" cy="200.8" r="1.95" fill="#ebe433"/><circle cx="211.7" cy="201.0" r="1.95" fill="#ebe433"/><circle cx="214.6" cy="202.6" r="1.95" fill="#ebe433"/><circle cx="216.1" cy="205.1" r="1.95" fill="#ebe433"/><circle cx="217.3" cy="204.9" r="1.95" fill="#ebe433"/><circle cx="221.7" cy="205.7" r="1.95" fill="#ebe433"/><circle cx="222.8" cy="207.6" r="1.95" fill="#ebe433"/><circle cx="224.9" cy="207.1" r="1.95" fill="#ebe433"/><circle cx="228.2" cy="209.7" r="1.95" fill="#ebe433"/><circle cx="231.5" cy="210.9" r="1.95" fill="#ebe433"/><circle cx="231.8" cy="213.4" r="1.95" fill="#ebe433"/><circle cx="234.0" cy="213.3" r="1.95" fill="#ebe433"/><circle cx="236.4" cy="217.2" r="1.95" fill="#ebe433"/><circle cx="239.9" cy="216.4" r="1.95" fill="#ebe433"/><circle cx="242.1" cy="217.2" r="1.95" fill="#ebe433"/><circle cx="243.9" cy="219.0" r="1.95" fill="#ebe433"/><circle cx="247.7" cy="219.0" r="1.95" fill="#ebe433"/><circle cx="220.3" cy="197.1" r="1.95" fill="#ebe433"/><circle cx="224.3" cy="197.4" r="1.95" fill="#ebe433"/><circle cx="225.9" cy="195.9" r="1.95" fill="#ebe433"/><circle cx="236.5" cy="193.4" r="1.95" fill="#ebe433"/><circle cx="239.1" cy="195.7" r="1.95" fill="#ebe433"/><circle cx="241.3" cy="196.2" r="1.95" fill="#ebe433"/><circle cx="245.0" cy="196.9" r="1.95" fill="#f2a324"/><circle cx="247.0" cy="197.8" r="1.95" fill="#ebe433"/><circle cx="249.7" cy="197.9" r="1.95" fill="#ebe433"/><circle cx="251.4" cy="199.8" r="1.95" fill="#ebe433"/><circle cx="255.2" cy="199.4" r="1.95" fill="#ebe433"/><circle cx="260.6" cy="201.0" r="1.95" fill="#ebe433"/><circle cx="263.4" cy="202.8" r="1.95" fill="#ebe433"/><circle cx="266.9" cy="201.3" r="1.95" fill="#ebe433"/><circle cx="270.7" cy="202.8" r="1.95" fill="#f2a324"/><circle cx="275.0" cy="201.6" r="1.95" fill="#ebe433"/><circle cx="277.4" cy="202.1" r="1.95" fill="#ebe433"/><circle cx="279.9" cy="202.7" r="1.95" fill="#f2a324"/><circle cx="282.6" cy="204.8" r="1.95" fill="#ebe433"/><circle cx="283.9" cy="206.9" r="1.95" fill="#ebe433"/><circle cx="285.6" cy="210.5" r="1.95" fill="#ebe433"/><circle cx="287.7" cy="213.0" r="1.95" fill="#f2a324"/><circle cx="288.4" cy="217.4" r="1.95" fill="#f2a324"/><circle cx="230.4" cy="209.2" r="1.95" fill="#ebe433"/><circle cx="231.0" cy="211.7" r="1.95" fill="#efc72a"/><circle cx="232.9" cy="212.2" r="1.95" fill="#ebe433"/><circle cx="234.5" cy="215.3" r="1.95" fill="#ebe433"/><circle cx="236.5" cy="217.4" r="1.95" fill="#ebe433"/><circle cx="236.5" cy="219.8" r="1.95" fill="#ebe433"/><circle cx="237.6" cy="219.4" r="1.95" fill="#ebe433"/><circle cx="239.3" cy="223.1" r="1.95" fill="#efc72a"/><circle cx="241.0" cy="222.0" r="1.95" fill="#ebe433"/><circle cx="244.6" cy="224.1" r="1.95" fill="#efc72a"/><circle cx="246.5" cy="223.5" r="1.95" fill="#efc72a"/><circle cx="248.0" cy="223.7" r="1.95" fill="#ebe433"/><circle cx="251.9" cy="221.0" r="1.95" fill="#ebe433"/><circle cx="252.8" cy="219.8" r="1.95" fill="#ebe433"/><circle cx="256.6" cy="217.7" r="1.95" fill="#ebe433"/><circle cx="258.5" cy="217.1" r="1.95" fill="#ebe433"/><circle cx="259.3" cy="217.5" r="1.95" fill="#ebe433"/><circle cx="261.9" cy="217.4" r="1.95" fill="#ebe433"/><circle cx="263.3" cy="215.5" r="1.95" fill="#ebe433"/><circle cx="266.1" cy="216.1" r="1.95" fill="#ebe433"/><circle cx="267.1" cy="217.0" r="1.95" fill="#ebe433"/><circle cx="270.9" cy="217.4" r="1.95" fill="#ebe433"/><circle cx="271.7" cy="217.5" r="1.95" fill="#efc72a"/><circle cx="273.1" cy="216.2" r="1.95" fill="#efc72a"/><circle cx="276.8" cy="217.1" r="1.95" fill="#ebe433"/><circle cx="277.7" cy="218.9" r="1.95" fill="#efc72a"/><circle cx="279.9" cy="219.0" r="1.95" fill="#ebe433"/><circle cx="282.5" cy="218.5" r="1.95" fill="#efc72a"/><circle cx="283.7" cy="219.0" r="1.95" fill="#ebe433"/><circle cx="285.2" cy="220.2" r="1.95" fill="#efc72a"/><circle cx="288.2" cy="220.9" r="1.95" fill="#efc72a"/><circle cx="290.2" cy="221.9" r="1.95" fill="#ebe433"/><circle cx="290.2" cy="224.3" r="1.95" fill="#ebe433"/><circle cx="292.3" cy="224.8" r="1.95" fill="#ebe433"/><circle cx="294.9" cy="227.0" r="1.95" fill="#ebe433"/><circle cx="296.8" cy="228.6" r="1.95" fill="#ebe433"/><circle cx="299.1" cy="229.0" r="1.95" fill="#ebe433"/><circle cx="299.7" cy="231.0" r="1.95" fill="#ebe433"/><circle cx="302.7" cy="231.1" r="1.95" fill="#efc72a"/><circle cx="305.0" cy="232.9" r="1.95" fill="#ebe433"/><circle cx="305.9" cy="232.9" r="1.95" fill="#ebe433"/><circle cx="307.2" cy="235.8" r="1.95" fill="#ebe433"/><circle cx="308.5" cy="237.3" r="1.95" fill="#ebe433"/><circle cx="309.5" cy="237.1" r="1.95" fill="#ebe433"/><circle cx="276.9" cy="222.9" r="1.95" fill="#ebe433"/><circle cx="280.9" cy="215.9" r="1.95" fill="#ebe433"/><circle cx="250.4" cy="227.1" r="1.95" fill="#efc72a"/><circle cx="250.9" cy="226.1" r="1.95" fill="#ebe433"/><circle cx="278.3" cy="221.7" r="1.95" fill="#efc72a"/><circle cx="277.4" cy="220.7" r="1.95" fill="#ebe433"/><circle cx="261.7" cy="222.3" r="1.95" fill="#efc72a"/><circle cx="258.5" cy="219.0" r="1.95" fill="#ebe433"/><circle cx="284.8" cy="222.9" r="1.95" fill="#ebe433"/><circle cx="265.5" cy="214.8" r="1.95" fill="#ebe433"/><circle cx="255.9" cy="214.8" r="1.95" fill="#ebe433"/><circle cx="263.4" cy="221.4" r="1.95" fill="#ebe433"/><circle cx="272.7" cy="219.9" r="1.95" fill="#ebe433"/><circle cx="255.8" cy="228.7" r="1.95" fill="#ebe433"/><circle cx="249.3" cy="219.0" r="1.95" fill="#ebe433"/><circle cx="265.0" cy="223.0" r="1.95" fill="#ebe433"/><circle cx="259.0" cy="226.7" r="1.95" fill="#ebe433"/><circle cx="273.1" cy="221.3" r="1.95" fill="#ebe433"/><circle cx="249.5" cy="220.9" r="1.95" fill="#ebe433"/><circle cx="250.2" cy="223.5" r="1.95" fill="#efc72a"/><circle cx="287.6" cy="223.0" r="1.95" fill="#ebe433"/><circle cx="268.9" cy="224.8" r="1.95" fill="#ebe433"/><circle cx="260.0" cy="217.4" r="1.95" fill="#ebe433"/><circle cx="253.4" cy="228.7" r="1.95" fill="#ebe433"/><circle cx="251.4" cy="215.5" r="1.95" fill="#ebe433"/><circle cx="276.0" cy="218.1" r="1.95" fill="#ebe433"/><circle cx="277.2" cy="216.5" r="1.95" fill="#efc72a"/><circle cx="277.6" cy="214.7" r="1.95" fill="#ebe433"/><circle cx="259.9" cy="217.7" r="1.95" fill="#ebe433"/><circle cx="261.0" cy="223.0" r="1.95" fill="#efc72a"/><circle cx="264.2" cy="214.5" r="1.95" fill="#ebe433"/><circle cx="275.2" cy="217.6" r="1.95" fill="#ebe433"/><circle cx="251.1" cy="221.4" r="1.95" fill="#ebe433"/><circle cx="265.9" cy="224.9" r="1.95" fill="#efc72a"/><circle cx="288.3" cy="222.4" r="1.95" fill="#ebe433"/><circle cx="262.3" cy="226.0" r="1.95" fill="#ebe433"/><circle cx="273.3" cy="222.7" r="1.95" fill="#efc72a"/><circle cx="253.1" cy="218.3" r="1.95" fill="#ebe433"/><circle cx="275.9" cy="214.8" r="1.95" fill="#ebe433"/><circle cx="266.8" cy="218.0" r="1.95" fill="#ebe433"/><circle cx="254.9" cy="226.6" r="1.95" fill="#ebe433"/><circle cx="250.1" cy="222.9" r="1.95" fill="#efc72a"/><circle cx="271.3" cy="226.6" r="1.95" fill="#ebe433"/><circle cx="267.3" cy="214.5" r="1.95" fill="#ebe433"/><circle cx="251.3" cy="224.3" r="1.95" fill="#efc72a"/><circle cx="242.6" cy="237.6" r="1.95" fill="#ebe433"/><circle cx="242.7" cy="240.3" r="1.95" fill="#ebe433"/><circle cx="243.8" cy="245.7" r="1.95" fill="#ebe433"/><circle cx="244.9" cy="246.9" r="1.95" fill="#ebe433"/><circle cx="246.9" cy="249.4" r="1.95" fill="#ebe433"/><circle cx="246.6" cy="251.9" r="1.95" fill="#ebe433"/><circle cx="246.2" cy="255.6" r="1.95" fill="#ebe433"/><circle cx="247.6" cy="257.1" r="1.95" fill="#ebe433"/><circle cx="248.4" cy="259.2" r="1.95" fill="#ebe433"/><circle cx="251.8" cy="262.7" r="1.95" fill="#ebe433"/><circle cx="250.5" cy="266.3" r="1.95" fill="#ebe433"/><circle cx="255.4" cy="266.2" r="1.95" fill="#ebe433"/><circle cx="256.2" cy="267.8" r="1.95" fill="#ebe433"/><circle cx="258.8" cy="266.6" r="1.95" fill="#ebe433"/><circle cx="262.1" cy="268.4" r="1.95" fill="#ebe433"/><circle cx="263.3" cy="270.2" r="1.95" fill="#ebe433"/><circle cx="267.3" cy="271.9" r="1.95" fill="#ebe433"/><circle cx="268.2" cy="271.2" r="1.95" fill="#ebe433"/><circle cx="273.4" cy="271.6" r="1.95" fill="#ebe433"/><circle cx="274.9" cy="276.3" r="1.95" fill="#ebe433"/><circle cx="277.6" cy="277.6" r="1.95" fill="#ebe433"/><circle cx="277.5" cy="281.3" r="1.95" fill="#ebe433"/><circle cx="279.4" cy="281.4" r="1.95" fill="#ebe433"/><circle cx="281.0" cy="285.9" r="1.95" fill="#ebe433"/><circle cx="280.5" cy="286.9" r="1.95" fill="#ebe433"/><circle cx="279.4" cy="290.5" r="1.95" fill="#ebe433"/><circle cx="281.0" cy="294.9" r="1.95" fill="#ebe433"/><circle cx="278.7" cy="297.8" r="1.95" fill="#ebe433"/><circle cx="278.8" cy="300.4" r="1.95" fill="#ebe433"/><circle cx="277.7" cy="303.7" r="1.95" fill="#ebe433"/><circle cx="275.4" cy="306.0" r="1.95" fill="#ebe433"/><circle cx="275.0" cy="309.4" r="1.95" fill="#ebe433"/><circle cx="277.5" cy="309.4" r="1.95" fill="#ebe433"/><circle cx="278.8" cy="314.2" r="1.95" fill="#ebe433"/><circle cx="279.2" cy="316.4" r="1.95" fill="#ebe433"/><circle cx="278.8" cy="319.0" r="1.95" fill="#ebe433"/><circle cx="282.8" cy="318.4" r="1.95" fill="#ebe433"/><circle cx="284.4" cy="321.3" r="1.95" fill="#ebe433"/><circle cx="297.4" cy="236.6" r="1.95" fill="#ebe433"/><circle cx="261.9" cy="234.3" r="1.95" fill="#ebe433"/><circle cx="262.1" cy="246.7" r="1.95" fill="#ebe433"/><circle cx="290.9" cy="255.8" r="1.95" fill="#ebe433"/><circle cx="299.8" cy="243.1" r="1.95" fill="#efc72a"/><circle cx="268.7" cy="251.0" r="1.95" fill="#ebe433"/><circle cx="254.1" cy="260.1" r="1.95" fill="#ebe433"/><circle cx="285.7" cy="245.2" r="1.95" fill="#ebe433"/><circle cx="260.7" cy="240.9" r="1.95" fill="#ebe433"/><circle cx="286.6" cy="238.3" r="1.95" fill="#efc72a"/><circle cx="264.3" cy="255.4" r="1.95" fill="#ebe433"/><circle cx="254.7" cy="254.7" r="1.95" fill="#efc72a"/><circle cx="270.2" cy="235.4" r="1.95" fill="#ebe433"/><circle cx="272.2" cy="247.0" r="1.95" fill="#ebe433"/><circle cx="259.1" cy="260.9" r="1.95" fill="#ebe433"/><circle cx="258.2" cy="265.7" r="1.95" fill="#ebe433"/><circle cx="298.8" cy="236.5" r="1.95" fill="#ebe433"/><circle cx="253.5" cy="249.2" r="1.95" fill="#ebe433"/><circle cx="279.9" cy="241.8" r="1.95" fill="#ebe433"/><circle cx="304.2" cy="254.0" r="1.95" fill="#efc72a"/><circle cx="286.9" cy="244.7" r="1.95" fill="#ebe433"/><circle cx="270.2" cy="253.8" r="1.95" fill="#ebe433"/><circle cx="271.1" cy="247.9" r="1.95" fill="#ebe433"/><circle cx="305.1" cy="246.9" r="1.95" fill="#ebe433"/><circle cx="300.4" cy="254.7" r="1.95" fill="#ebe433"/><circle cx="275.7" cy="257.5" r="1.95" fill="#ebe433"/><circle cx="249.2" cy="239.7" r="1.95" fill="#efc72a"/><circle cx="256.2" cy="250.7" r="1.95" fill="#ebe433"/><circle cx="250.0" cy="242.5" r="1.95" fill="#ebe433"/><circle cx="288.1" cy="237.8" r="1.95" fill="#ebe433"/><circle cx="265.6" cy="248.9" r="1.95" fill="#ebe433"/><circle cx="298.5" cy="254.4" r="1.95" fill="#ebe433"/><circle cx="291.2" cy="237.7" r="1.95" fill="#ebe433"/><circle cx="297.8" cy="240.6" r="1.95" fill="#efc72a"/><circle cx="257.4" cy="257.0" r="1.95" fill="#ebe433"/><circle cx="266.0" cy="242.1" r="1.95" fill="#ebe433"/><circle cx="259.6" cy="239.5" r="1.95" fill="#ebe433"/><circle cx="253.9" cy="236.9" r="1.95" fill="#ebe433"/><circle cx="264.1" cy="234.6" r="1.95" fill="#ebe433"/><circle cx="267.1" cy="232.4" r="1.95" fill="#ebe433"/><circle cx="277.1" cy="249.5" r="1.95" fill="#ebe433"/><circle cx="295.2" cy="237.6" r="1.95" fill="#ebe433"/><circle cx="305.7" cy="248.2" r="1.95" fill="#ebe433"/><circle cx="287.3" cy="236.9" r="1.95" fill="#ebe433"/><circle cx="283.3" cy="240.9" r="1.95" fill="#ebe433"/><circle cx="264.0" cy="236.2" r="1.95" fill="#efc72a"/><circle cx="290.4" cy="243.3" r="1.95" fill="#ebe433"/><circle cx="254.1" cy="238.9" r="1.95" fill="#ebe433"/><circle cx="294.5" cy="240.4" r="1.95" fill="#ebe433"/><circle cx="298.6" cy="240.7" r="1.95" fill="#ebe433"/><circle cx="302.8" cy="248.3" r="1.95" fill="#ebe433"/><circle cx="255.5" cy="240.2" r="1.95" fill="#efc72a"/><circle cx="273.4" cy="247.1" r="1.95" fill="#ebe433"/><circle cx="289.7" cy="250.3" r="1.95" fill="#ebe433"/><circle cx="283.7" cy="237.5" r="1.95" fill="#ebe433"/><circle cx="256.7" cy="254.2" r="1.95" fill="#ebe433"/><circle cx="304.5" cy="257.2" r="1.95" fill="#ebe433"/><circle cx="255.4" cy="255.6" r="1.95" fill="#ebe433"/><circle cx="286.2" cy="237.6" r="1.95" fill="#efc72a"/><circle cx="264.5" cy="234.9" r="1.95" fill="#ebe433"/><circle cx="253.0" cy="254.4" r="1.95" fill="#ebe433"/><circle cx="298.3" cy="241.1" r="1.95" fill="#ebe433"/><circle cx="251.6" cy="261.2" r="1.95" fill="#ebe433"/><circle cx="255.9" cy="237.6" r="1.95" fill="#efc72a"/><circle cx="275.5" cy="249.3" r="1.95" fill="#ebe433"/><circle cx="254.1" cy="235.4" r="1.95" fill="#ebe433"/><circle cx="268.8" cy="239.9" r="1.95" fill="#ebe433"/><circle cx="260.9" cy="259.3" r="1.95" fill="#ebe433"/><circle cx="279.3" cy="243.8" r="1.95" fill="#efc72a"/><circle cx="287.3" cy="256.4" r="1.95" fill="#ebe433"/><circle cx="272.6" cy="247.5" r="1.95" fill="#ebe433"/><circle cx="261.5" cy="262.4" r="1.95" fill="#ebe433"/><circle cx="251.6" cy="246.1" r="1.95" fill="#efc72a"/><circle cx="276.1" cy="254.7" r="1.95" fill="#ebe433"/><circle cx="276.1" cy="240.4" r="1.95" fill="#ebe433"/><circle cx="272.8" cy="237.9" r="1.95" fill="#ebe433"/><circle cx="294.1" cy="247.7" r="1.95" fill="#ebe433"/><circle cx="259.7" cy="255.6" r="1.95" fill="#ebe433"/><circle cx="264.0" cy="249.5" r="1.95" fill="#ebe433"/><circle cx="293.2" cy="256.2" r="1.95" fill="#efc72a"/><circle cx="278.3" cy="276.5" r="1.95" fill="#ebe433"/><circle cx="295.5" cy="306.3" r="1.95" fill="#ebe433"/><circle cx="289.4" cy="287.1" r="1.95" fill="#ebe433"/><circle cx="282.2" cy="282.9" r="1.95" fill="#ebe433"/><circle cx="289.4" cy="317.6" r="1.95" fill="#ebe433"/><circle cx="280.9" cy="277.9" r="1.95" fill="#ebe433"/><circle cx="277.6" cy="290.9" r="1.95" fill="#ebe433"/><circle cx="284.8" cy="280.3" r="1.95" fill="#ebe433"/><circle cx="275.8" cy="282.5" r="1.95" fill="#ebe433"/><circle cx="293.2" cy="295.8" r="1.95" fill="#ebe433"/><circle cx="293.7" cy="296.0" r="1.95" fill="#ebe433"/><circle cx="294.4" cy="281.4" r="1.95" fill="#ebe433"/><circle cx="286.2" cy="284.8" r="1.95" fill="#ebe433"/><circle cx="279.6" cy="276.9" r="1.95" fill="#ebe433"/><circle cx="284.4" cy="306.8" r="1.95" fill="#ebe433"/><circle cx="283.0" cy="310.1" r="1.95" fill="#ebe433"/><circle cx="294.9" cy="281.6" r="1.95" fill="#ebe433"/><circle cx="288.2" cy="291.9" r="1.95" fill="#ebe433"/><circle cx="293.4" cy="295.5" r="1.95" fill="#ebe433"/><circle cx="286.9" cy="279.0" r="1.95" fill="#ebe433"/><circle cx="281.4" cy="302.2" r="1.95" fill="#ebe433"/><circle cx="296.0" cy="296.4" r="1.95" fill="#ebe433"/><circle cx="289.6" cy="284.6" r="1.95" fill="#ebe433"/><circle cx="279.3" cy="314.0" r="1.95" fill="#ebe433"/><circle cx="282.9" cy="280.4" r="1.95" fill="#ebe433"/><circle cx="288.4" cy="281.3" r="1.95" fill="#ebe433"/><circle cx="278.2" cy="295.2" r="1.95" fill="#ebe433"/><circle cx="288.2" cy="302.7" r="1.95" fill="#ebe433"/><circle cx="291.4" cy="294.5" r="1.95" fill="#ebe433"/><circle cx="283.4" cy="304.3" r="1.95" fill="#ebe433"/><circle cx="291.6" cy="286.1" r="1.95" fill="#ebe433"/><circle cx="289.9" cy="305.1" r="1.95" fill="#ebe433"/><circle cx="285.3" cy="282.0" r="1.95" fill="#ebe433"/><circle cx="296.6" cy="301.2" r="1.95" fill="#ebe433"/><circle cx="274.6" cy="286.0" r="1.95" fill="#ebe433"/><circle cx="271.0" cy="326.0" r="1.95" fill="#ebe433"/><circle cx="242.0" cy="200.7" r="1.95" fill="#ebe433"/><circle cx="258.0" cy="202.7" r="1.95" fill="#ebe433"/><circle cx="250.0" cy="188.0" r="1.95" fill="#ebe433"/><circle cx="247.7" cy="184.0" r="1.95" fill="#ebe433"/><circle cx="190.3" cy="152.0" r="1.95" fill="#ebe433"/><circle cx="264.0" cy="158.0" r="1.95" fill="#ebe433"/><circle cx="275.0" cy="187.0" r="1.95" fill="#ebe433"/><circle cx="350.0" cy="248.5" r="1.95" fill="#ebe433"/><circle cx="432.0" cy="118.0" r="2.5" fill="#f2a324"/><circle cx="420.0" cy="127.0" r="1.95" fill="#f2a324"/><circle cx="426.5" cy="127.0" r="1.95" fill="#f2a324"/><circle cx="421.0" cy="134.0" r="1.95" fill="#f2a324"/><circle cx="421.5" cy="139.0" r="1.95" fill="#f2a324"/><circle cx="419.0" cy="144.0" r="1.95" fill="#f2a324"/><circle cx="417.0" cy="149.0" r="1.95" fill="#f2a324"/><circle cx="418.5" cy="153.0" r="1.95" fill="#f2a324"/><circle cx="419.0" cy="157.0" r="1.95" fill="#f2a324"/><circle cx="438.5" cy="130.0" r="1.95" fill="#f2a324"/><circle cx="447.5" cy="130.0" r="1.95" fill="#f2a324"/><circle cx="458.0" cy="126.5" r="1.95" fill="#f2a324"/><circle cx="468.0" cy="128.0" r="1.95" fill="#f2a324"/><circle cx="457.5" cy="132.5" r="1.95" fill="#f2a324"/><circle cx="465.0" cy="139.0" r="1.95" fill="#f2a324"/><circle cx="479.0" cy="140.5" r="1.95" fill="#f2a324"/><circle cx="482.0" cy="146.0" r="1.95" fill="#f2a324"/><circle cx="428.0" cy="154.0" r="1.95" fill="#f2a324"/><circle cx="431.0" cy="160.5" r="1.95" fill="#f2a324"/><circle cx="508.0" cy="138.0" r="1.95" fill="#efc72a"/><circle cx="511.0" cy="144.0" r="1.95" fill="#efc72a"/><circle cx="482.7" cy="157.3" r="1.95" fill="#efc72a"/><circle cx="430.0" cy="134.6" r="1.95" fill="#f2a324"/><circle cx="433.5" cy="135.5" r="1.95" fill="#f2a324"/><circle cx="432.0" cy="133.5" r="1.95" fill="#f2a324"/><circle cx="436.1" cy="133.3" r="1.95" fill="#f2a324"/><circle cx="435.4" cy="136.6" r="1.95" fill="#f2a324"/><circle cx="438.3" cy="136.5" r="1.95" fill="#f2a324"/><circle cx="440.5" cy="134.1" r="1.95" fill="#f2a324"/><circle cx="438.7" cy="136.2" r="1.95" fill="#f2a324"/><circle cx="443.6" cy="136.3" r="1.95" fill="#f2a324"/><circle cx="444.4" cy="134.6" r="1.95" fill="#f2a324"/><circle cx="443.3" cy="137.2" r="1.95" fill="#f2a324"/><circle cx="447.6" cy="134.6" r="1.95" fill="#f2a324"/><circle cx="447.8" cy="137.9" r="1.95" fill="#f2a324"/><circle cx="449.4" cy="137.3" r="1.95" fill="#f2a324"/><circle cx="448.5" cy="136.4" r="1.95" fill="#f2a324"/><circle cx="450.2" cy="138.6" r="1.95" fill="#f2a324"/><circle cx="452.9" cy="138.3" r="1.95" fill="#f2a324"/><circle cx="454.1" cy="140.8" r="1.95" fill="#f2a324"/><circle cx="454.5" cy="140.9" r="1.95" fill="#f2a324"/><circle cx="453.6" cy="144.7" r="1.95" fill="#f2a324"/><circle cx="455.5" cy="142.5" r="1.95" fill="#f2a324"/><circle cx="458.1" cy="146.3" r="1.95" fill="#f2a324"/><circle cx="457.2" cy="145.3" r="1.95" fill="#f2a324"/><circle cx="457.3" cy="147.4" r="1.95" fill="#f2a324"/><circle cx="460.4" cy="146.2" r="1.95" fill="#f2a324"/><circle cx="458.9" cy="149.7" r="1.95" fill="#f2a324"/><circle cx="461.2" cy="149.8" r="1.95" fill="#f2a324"/><circle cx="462.4" cy="151.5" r="1.95" fill="#f2a324"/><circle cx="463.6" cy="153.3" r="1.95" fill="#f2a324"/><circle cx="464.8" cy="154.2" r="1.95" fill="#f2a324"/><circle cx="465.1" cy="155.9" r="1.95" fill="#f2a324"/><circle cx="466.6" cy="154.6" r="1.95" fill="#f2a324"/><circle cx="465.8" cy="157.7" r="1.95" fill="#f2a324"/><circle cx="466.3" cy="158.0" r="1.95" fill="#f2a324"/><circle cx="433.8" cy="132.8" r="1.95" fill="#f2a324"/><circle cx="437.1" cy="134.5" r="1.95" fill="#f2a324"/><circle cx="439.3" cy="134.8" r="1.95" fill="#f2a324"/><circle cx="439.3" cy="132.7" r="1.95" fill="#f2a324"/><circle cx="440.2" cy="132.9" r="1.95" fill="#f2a324"/><circle cx="444.6" cy="133.3" r="1.95" fill="#f2a324"/><circle cx="445.8" cy="135.2" r="1.95" fill="#f2a324"/><circle cx="446.7" cy="133.8" r="1.95" fill="#f2a324"/><circle cx="447.6" cy="136.4" r="1.95" fill="#f2a324"/><circle cx="449.9" cy="138.4" r="1.95" fill="#f2a324"/><circle cx="451.5" cy="138.4" r="1.95" fill="#f2a324"/><circle cx="454.3" cy="138.7" r="1.95" fill="#f2a324"/><circle cx="454.6" cy="141.7" r="1.95" fill="#f2a324"/><circle cx="454.1" cy="141.0" r="1.95" fill="#f2a324"/><circle cx="454.5" cy="142.3" r="1.95" fill="#f2a324"/><circle cx="458.5" cy="143.4" r="1.95" fill="#f2a324"/><circle cx="458.6" cy="146.2" r="1.95" fill="#f2a324"/><circle cx="459.8" cy="146.2" r="1.95" fill="#f2a324"/><circle cx="458.6" cy="149.0" r="1.95" fill="#f2a324"/><circle cx="460.3" cy="151.2" r="1.95" fill="#f2a324"/><circle cx="462.3" cy="151.7" r="1.95" fill="#f2a324"/><circle cx="463.6" cy="152.0" r="1.95" fill="#f2a324"/><circle cx="457.6" cy="138.4" r="1.95" fill="#f2a324"/><circle cx="459.2" cy="139.8" r="1.95" fill="#f2a324"/><circle cx="463.2" cy="142.6" r="1.95" fill="#f2a324"/><circle cx="463.9" cy="142.0" r="1.95" fill="#f2a324"/><circle cx="463.7" cy="143.7" r="1.95" fill="#f2a324"/><circle cx="465.5" cy="145.7" r="1.95" fill="#f2a324"/><circle cx="468.4" cy="145.5" r="1.95" fill="#f2a324"/><circle cx="466.7" cy="148.3" r="1.95" fill="#f2a324"/><circle cx="470.5" cy="149.4" r="1.95" fill="#f2a324"/><circle cx="469.9" cy="148.0" r="1.95" fill="#f2a324"/><circle cx="473.1" cy="149.7" r="1.95" fill="#f2a324"/><circle cx="473.3" cy="152.5" r="1.95" fill="#f2a324"/><circle cx="472.9" cy="152.2" r="1.95" fill="#f2a324"/><circle cx="474.6" cy="155.5" r="1.95" fill="#f2a324"/><circle cx="475.1" cy="155.1" r="1.95" fill="#f2a324"/><circle cx="452.7" cy="159.3" r="1.95" fill="#f2a324"/><circle cx="453.7" cy="160.8" r="1.95" fill="#f2a324"/><circle cx="456.6" cy="160.2" r="1.95" fill="#f2a324"/><circle cx="424.0" cy="140.4" r="1.95" fill="#f2a324"/><circle cx="425.5" cy="143.2" r="1.95" fill="#f2a324"/><circle cx="426.4" cy="145.6" r="1.95" fill="#f2a324"/><circle cx="426.6" cy="148.3" r="1.95" fill="#f2a324"/><circle cx="428.2" cy="151.0" r="1.95" fill="#f2a324"/><circle cx="425.3" cy="153.3" r="1.95" fill="#f2a324"/><circle cx="423.6" cy="154.2" r="1.95" fill="#f2a324"/><circle cx="420.4" cy="156.9" r="1.95" fill="#f2a324"/><circle cx="440.5" cy="145.5" r="1.95" fill="#f2a324"/><circle cx="441.1" cy="147.9" r="1.95" fill="#f2a324"/><circle cx="441.5" cy="150.0" r="1.95" fill="#f2a324"/><circle cx="442.5" cy="153.3" r="1.95" fill="#f2a324"/><circle cx="460.1" cy="144.4" r="1.95" fill="#f2a324"/><circle cx="463.6" cy="147.2" r="1.95" fill="#f2a324"/><circle cx="466.7" cy="147.2" r="1.95" fill="#f2a324"/><circle cx="468.5" cy="149.5" r="1.95" fill="#f2a324"/><circle cx="471.7" cy="151.4" r="1.95" fill="#f2a324"/><circle cx="472.5" cy="154.3" r="1.95" fill="#f2a324"/><circle cx="475.5" cy="154.1" r="1.95" fill="#f2a324"/><circle cx="474.2" cy="151.8" r="1.95" fill="#f2a324"/><circle cx="472.4" cy="156.0" r="1.95" fill="#f2a324"/><circle cx="473.5" cy="149.4" r="1.95" fill="#f2a324"/><circle cx="477.9" cy="153.8" r="1.95" fill="#f2a324"/><circle cx="472.3" cy="148.1" r="1.95" fill="#f2a324"/><circle cx="475.6" cy="154.2" r="1.95" fill="#f2a324"/><circle cx="471.2" cy="153.6" r="1.95" fill="#f2a324"/><circle cx="476.2" cy="154.4" r="1.95" fill="#f2a324"/><circle cx="499.0" cy="165.6" r="1.95" fill="#f2a324"/><circle cx="499.1" cy="167.9" r="1.95" fill="#f2a324"/><circle cx="500.4" cy="170.0" r="1.95" fill="#f2a324"/><circle cx="501.2" cy="171.3" r="1.95" fill="#f2a324"/><circle cx="509.5" cy="195.8" r="1.95" fill="#ebe433"/><circle cx="511.8" cy="195.8" r="1.95" fill="#ebe433"/><circle cx="503.7" cy="200.5" r="1.95" fill="#ebe433"/><circle cx="517.7" cy="208.7" r="1.95" fill="#ebe433"/><circle cx="524.7" cy="210.4" r="1.95" fill="#ebe433"/><circle cx="520.0" cy="209.5" r="1.95" fill="#ebe433"/><circle cx="67.0" cy="195.0" r="1.95" fill="#f2a324"/><circle cx="70.0" cy="196.5" r="1.95" fill="#f2a324"/><circle cx="73.0" cy="198.0" r="1.95" fill="#f2a324"/><circle cx="76.0" cy="199.5" r="1.95" fill="#f2a324"/><circle cx="79.0" cy="200.5" r="1.95" fill="#f2a324"/><circle cx="4.0" cy="226.5" r="1.95" fill="#ebe433"/><circle cx="8.0" cy="238.0" r="1.95" fill="#ebe433"/><circle cx="20.0" cy="255.0" r="1.95" fill="#ebe433"/><circle cx="22.0" cy="258.0" r="1.95" fill="#ebe433"/><circle cx="40.0" cy="258.0" r="1.95" fill="#ebe433"/><circle cx="43.0" cy="260.0" r="1.95" fill="#ebe433"/><circle cx="32.0" cy="268.0" r="1.95" fill="#ebe433"/><circle cx="41.0" cy="269.5" r="1.95" fill="#ebe433"/><circle cx="44.0" cy="270.0" r="1.95" fill="#ebe433"/><circle cx="17.0" cy="276.5" r="1.95" fill="#ebe433"/><circle cx="20.0" cy="275.0" r="1.95" fill="#ebe433"/><circle cx="23.0" cy="277.0" r="1.95" fill="#ebe433"/><circle cx="26.0" cy="278.5" r="1.95" fill="#ebe433"/><circle cx="46.0" cy="280.0" r="1.95" fill="#ebe433"/><circle cx="34.0" cy="285.0" r="1.95" fill="#ebe433"/><circle cx="66.0" cy="274.0" r="1.95" fill="#ebe433"/><circle cx="69.0" cy="276.0" r="1.95" fill="#ebe433"/><circle cx="80.0" cy="272.0" r="1.95" fill="#ebe433"/><circle cx="100.0" cy="259.0" r="1.95" fill="#ebe433"/><circle cx="95.0" cy="273.0" r="1.95" fill="#ebe433"/><circle cx="68.0" cy="285.0" r="1.95" fill="#ebe433"/><circle cx="72.0" cy="286.0" r="1.95" fill="#ebe433"/><circle cx="11.0" cy="320.0" r="1.95" fill="#ebe433"/><circle cx="18.0" cy="276.0" r="1.95" fill="#f2a324"/><circle cx="21.0" cy="274.5" r="1.95" fill="#f2a324"/></g>
</svg></div>
<div class="abs" style="left:389px;top:525px;width:611px;height:9px;background:#c9c9c9"></div>
<div class="t" style="left:459.0px;top:155.94px;font-size:4.2px;font-weight:normal;color:#6d6c72;letter-spacing:0.45px;">UNITED STATES</div>

<div class="t" style="left:579.0px;top:197.94px;font-size:4.2px;font-weight:normal;color:#6d6c72;letter-spacing:0.45px;">CANADA</div>

<div class="t" style="left:708.0px;top:106.94px;font-size:4.2px;font-weight:normal;color:#6d6c72;letter-spacing:0.45px;">GREENLAND</div>

<div class="t" style="left:837.0px;top:165.44px;font-size:4.2px;font-weight:normal;color:#6d6c72;letter-spacing:0.45px;">SWEDEN</div>

<div class="t" style="left:861.0px;top:166.94px;font-size:4.2px;font-weight:normal;color:#6d6c72;letter-spacing:0.45px;">FINLAND</div>

<div class="t" style="left:821.0px;top:172.94px;font-size:4.2px;font-weight:normal;color:#6d6c72;letter-spacing:0.45px;">NORWAY</div>

<div class="t" style="left:839.0px;top:181.35px;font-size:4.9px;font-weight:normal;color:#7d7c82;letter-spacing:0.15px;">Stockholm</div>

<div class="t" style="left:884.5px;top:195.35px;font-size:4.9px;font-weight:normal;color:#7d7c82;letter-spacing:0.15px;">Moscow</div>

<div class="t" style="left:803.0px;top:208.35px;font-size:4.9px;font-weight:normal;color:#7d7c82;letter-spacing:0.15px;">London</div>

<div class="t" style="left:826.0px;top:208.94px;font-size:4.2px;font-weight:normal;color:#6d6c72;letter-spacing:0.45px;">GERMANY</div>

<div class="t" style="left:850.0px;top:207.35px;font-size:4.9px;font-weight:normal;color:#7d7c82;letter-spacing:0.15px;">Warsaw</div>

<div class="t" style="left:870.0px;top:217.44px;font-size:4.2px;font-weight:normal;color:#6d6c72;letter-spacing:0.45px;">UKRAINE</div>

<div class="t" style="left:952.0px;top:218.94px;font-size:4.2px;font-weight:normal;color:#6d6c72;letter-spacing:0.45px;">KAZAKHSTAN</div>

<div class="t" style="left:795.0px;top:240.35px;font-size:4.9px;font-weight:normal;color:#7d7c82;letter-spacing:0.15px;">Madrid</div>

<div class="t" style="left:873.6px;top:240.35px;font-size:4.9px;font-weight:normal;color:#7d7c82;letter-spacing:0.15px;">Istanbul</div>

<div class="t" style="left:883.0px;top:244.44px;font-size:4.2px;font-weight:normal;color:#6d6c72;letter-spacing:0.45px;">TURKEY</div>

<div class="t" style="left:930.0px;top:260.94px;font-size:4.2px;font-weight:normal;color:#6d6c72;letter-spacing:0.45px;">IRAN</div>

<div class="t" style="left:899.0px;top:259.35px;font-size:4.9px;font-weight:normal;color:#7d7c82;letter-spacing:0.15px;">Baghdad</div>

<div class="t" style="left:875.5px;top:267.85px;font-size:4.9px;font-weight:normal;color:#7d7c82;letter-spacing:0.15px;">Cairo</div>

<div class="t" style="left:808.0px;top:272.94px;font-size:4.2px;font-weight:normal;color:#6d6c72;letter-spacing:0.45px;">ALGERIA</div>

<div class="t" style="left:844.5px;top:274.94px;font-size:4.2px;font-weight:normal;color:#6d6c72;letter-spacing:0.45px;">LIBYA</div>

<div class="t" style="left:870.0px;top:275.64px;font-size:4.2px;font-weight:normal;color:#6d6c72;letter-spacing:0.45px;">EGYPT</div>

<div class="t" style="left:893.6px;top:277.94px;font-size:4.2px;font-weight:normal;color:#6d6c72;letter-spacing:0.45px;">SAUDI ARABIA</div>

<div class="t" style="left:926.0px;top:278.75px;font-size:4.9px;font-weight:normal;color:#7d7c82;letter-spacing:0.15px;">Dubai</div>

<div class="t" style="left:800.0px;top:295.94px;font-size:4.2px;font-weight:normal;color:#6d6c72;letter-spacing:0.45px;">MALI</div>

<div class="t" style="left:826.0px;top:295.94px;font-size:4.2px;font-weight:normal;color:#6d6c72;letter-spacing:0.45px;">NIGER</div>

<div class="t" style="left:845.7px;top:299.74px;font-size:4.2px;font-weight:normal;color:#6d6c72;letter-spacing:0.45px;">CHAD</div>

<div class="t" style="left:710.0px;top:275.05px;font-size:4.9px;font-weight:normal;color:#7d7c82;letter-spacing:0.15px;">Atlantic</div>

<div class="t" style="left:712.0px;top:283.35px;font-size:4.9px;font-weight:normal;color:#7d7c82;letter-spacing:0.15px;">Ocean</div>

<div class="t" style="left:488.0px;top:311.35px;font-size:4.9px;font-weight:normal;color:#7d7c82;letter-spacing:0.15px;">Pacific Ocean</div>

<div class="t" style="left:632.0px;top:231.35px;font-size:4.9px;font-weight:normal;color:#7d7c82;letter-spacing:0.15px;">Toronto</div>

<div class="t" style="left:651.0px;top:242.05px;font-size:4.9px;font-weight:normal;color:#7d7c82;letter-spacing:0.15px;">NYC</div>

<div class="t" style="left:537.0px;top:258.35px;font-size:4.9px;font-weight:normal;color:#7d7c82;letter-spacing:0.15px;">LA</div>

<div class="t" style="left:659.0px;top:410.94px;font-size:4.2px;font-weight:normal;color:#6d6c72;letter-spacing:0.45px;">ARGENTINA</div>

<div class="t" style="left:668.0px;top:406.35px;font-size:4.9px;font-weight:normal;color:#7d7c82;letter-spacing:0.15px;">Buenos Aires</div>

<div class="t" style="left:391.0px;top:527.47px;font-size:6.3px;font-weight:normal;color:#505050;letter-spacing:0.19px;">Esri, HERE | CDC Data | Available at Dryad Digital Repository under a CC0 Public Domain Dedication, Kraemer et al. 2015</div>

<div class="t" style="left:948.1px;top:527.30px;font-size:6.5px;font-weight:normal;color:#505050;letter-spacing:0.2px;">Powered by Esri</div>

<div class="abs" style="left:397px;top:101px;width:87px;height:23px;background:#fff"></div>
<div class="t" style="left:403.8px;top:107.96px;font-size:10.8px;font-weight:normal;color:#111;letter-spacing:0.65px;">3,512 <span style="color:#3a3a3a">records</span></div>

<div class="abs" style="left:389px;top:178px;width:24px;height:123px;background:#1a3f7c;border-right:1px solid #4a6a9a"></div>
<div class="abs" style="left:389px;top:202.5px;width:24px;height:24.5px;background:#fff"></div>
<div class="abs" style="left:389px;top:251.5px;width:24px;height:1px;background:#142e5c"></div>
<div class="abs" style="left:389px;top:276px;width:24px;height:1px;background:#142e5c"></div>
<svg class="abs" style="left:393px;top:182px" width="16" height="16" viewBox="0 0 16 16"><path d="M3.5 12.8L4.3 10L11.3 3A1.2 1.2 0 0 1 13 4.7L6 11.7Z" fill="none" stroke="#e8eef8" stroke-width="1.2" stroke-linejoin="round"/></svg>
<svg class="abs" style="left:393px;top:206.5px" width="16" height="16" viewBox="0 0 16 16"><circle cx="8" cy="8" r="5.6" fill="none" stroke="#555" stroke-width="1.2"/><circle cx="8" cy="5.3" r="0.8" fill="#555"/><line x1="8" y1="7.3" x2="8" y2="11" stroke="#555" stroke-width="1.3"/></svg>
<svg class="abs" style="left:393px;top:231.5px" width="16" height="16" viewBox="0 0 16 16"><path d="M2.8 2.5H13.2L9 8.5V13.5L7 12V8.5Z" fill="none" stroke="#e8eef8" stroke-width="1.2" stroke-linejoin="round"/></svg>
<svg class="abs" style="left:393px;top:256px" width="16" height="16" viewBox="0 0 16 16"><path d="M5 11.5H4A3 3 0 0 1 4.2 5.6A4 4 0 0 1 11.8 5.2A3 3 0 0 1 12 11.5H11" fill="none" stroke="#e8eef8" stroke-width="1.2"/><path d="M8 7.5V13M5.8 10.8L8 13L10.2 10.8" fill="none" stroke="#e8eef8" stroke-width="1.2"/></svg>
<svg class="abs" style="left:393px;top:280.5px" width="16" height="16" viewBox="0 0 16 16"><path d="M8 2L9.6 6.2L13.8 6.3L10.5 9.1L11.7 13.4L8 11L4.3 13.4L5.5 9.1L2.2 6.3L6.4 6.2Z" fill="none" stroke="#e8eef8" stroke-width="1.1" stroke-linejoin="round"/></svg>
<div class="abs" style="left:801px;top:305px;width:168.5px;height:191px;background:#fff"></div>
<div class="abs" style="left:803px;top:363.5px;width:164px;height:1px;background:#e4e4e4"></div>
<div class="abs" style="left:803px;top:430px;width:164px;height:1px;background:#e4e4e4"></div>
<div class="t" style="left:810.0px;top:311.80px;font-size:7.8px;font-weight:bold;color:#333;letter-spacing:0px;">Aedes Worldwide</div>

<div class="t" style="left:814.0px;top:325.83px;font-size:8.0px;font-weight:normal;color:#555;letter-spacing:0px;">Aedes_Aegypti_Albopictus_ALL</div>

<div class="t" style="left:810.0px;top:370.60px;font-size:7.8px;font-weight:bold;color:#333;letter-spacing:0px;">2016 CDC estimated Aedes aegypti</div>

<div class="t" style="left:810.0px;top:378.10px;font-size:7.8px;font-weight:bold;color:#333;letter-spacing:0px;">Habitat USA</div>

<div class="t" style="left:814.0px;top:391.63px;font-size:8.0px;font-weight:normal;color:#555;letter-spacing:0px;">AedesAegypti_2016_CDC_Clip</div>

<div class="t" style="left:810.0px;top:436.80px;font-size:7.8px;font-weight:bold;color:#333;letter-spacing:0px;">2016 CDC estimated Aedes albopictus</div>

<div class="t" style="left:810.0px;top:444.50px;font-size:7.8px;font-weight:bold;color:#333;letter-spacing:0px;">Habitat USA</div>

<div class="t" style="left:814.0px;top:458.33px;font-size:8.0px;font-weight:normal;color:#555;letter-spacing:0px;">AedesAlbopictus_2016_CDC_Clip</div>

<div class="abs" style="left:818px;top:339px;width:11px;height:10px;background:#e6f3fb;border:1.5px solid #c9d2da"></div>
<div class="abs" style="left:818px;top:405.8px;width:11px;height:10px;background:#e6f3fb;border:1.5px solid #c9d2da"></div>
<div class="abs" style="left:818px;top:471.8px;width:11px;height:10px;background:#e6f3fb;border:1.5px solid #c9d2da"></div>
<div class="abs" style="left:973.5px;top:442.5px;width:18px;height:33px;background:#fff"></div>
<div class="abs" style="left:976px;top:458.5px;width:13px;height:1px;background:#e0e0e0"></div>
<svg class="abs" style="left:973.5px;top:442.5px" width="18" height="33" viewBox="0 0 18 33"><path d="M9 4.5V12.5M5 8.5H13" stroke="#888" stroke-width="0.9"/><path d="M5 25H13" stroke="#888" stroke-width="0.9"/></svg>
<div class="abs" style="left:973.5px;top:480.5px;width:18px;height:16.5px;background:#fff"></div>
<svg class="abs" style="left:973.5px;top:480.5px" width="18" height="17" viewBox="0 0 18 17"><path d="M5.5 5L8.5 8.3L5.5 11.6M9.2 5L12.2 8.3L9.2 11.6" fill="none" stroke="#777" stroke-width="0.9"/></svg>
<div class="abs" style="left:973.5px;top:501.5px;width:18px;height:16.5px;background:#fff"></div>
<svg class="abs" style="left:973.5px;top:501.5px" width="18" height="17" viewBox="0 0 18 17"><circle cx="8" cy="7.5" r="2.8" fill="none" stroke="#777" stroke-width="0.9"/><path d="M10 9.6L12.6 12.2" stroke="#777" stroke-width="1.1"/></svg>
<svg class="abs" style="left:921px;top:77px" width="14" height="14" viewBox="0 0 14 14"><circle cx="5.8" cy="5.8" r="3.6" fill="none" stroke="#d8ecf8" stroke-width="1.3"/><line x1="8.4" y1="8.4" x2="11.8" y2="11.8" stroke="#d8ecf8" stroke-width="1.4"/></svg>
<div class="abs" style="left:942.5px;top:77.5px;width:12.6px;height:12.6px;border-radius:50%;background:#f4f6f8"></div>
<div class="t" style="left:957.6px;top:80.29px;font-size:8.4px;font-weight:normal;color:#e6f2fa;letter-spacing:-0.05px;">Creator</div>

<svg class="abs" style="left:985px;top:82.5px" width="7" height="4" viewBox="0 0 7 4"><path d="M0.5 0.3H6.5L3.5 3.6Z" fill="#e6f2fa"/></svg>
<svg class="abs" style="left:204px;top:270px" width="16" height="16" viewBox="0 0 16 16"><path d="M3.3 5.2A5.6 5.6 0 1 1 2.6 9.6" fill="none" stroke="#555" stroke-width="1.3"/><path d="M1.3 3.6L3.3 6.1L5.6 4.5" fill="none" stroke="#555" stroke-width="1.2"/><path d="M8.2 4.8V8.4H10.8" fill="none" stroke="#555" stroke-width="1.3"/></svg>
<svg class="abs" style="left:204px;top:300px" width="16" height="16" viewBox="0 0 16 16"><rect x="1.8" y="3.2" width="12.2" height="11" fill="none" stroke="#555" stroke-width="1.3"/><line x1="1.8" y1="6.2" x2="14" y2="6.2" stroke="#555" stroke-width="1.6"/><line x1="4.5" y1="1.5" x2="4.5" y2="4.5" stroke="#555" stroke-width="1.4"/><line x1="11.3" y1="1.5" x2="11.3" y2="4.5" stroke="#555" stroke-width="1.4"/></svg>
<svg class="abs" style="left:204px;top:330px" width="16" height="16" viewBox="0 0 16 16"><circle cx="8" cy="8.2" r="6" fill="none" stroke="#555" stroke-width="1.3"/><path d="M3.5 6.5C5 6 6 7.5 6.5 9C7 10.5 5.5 12 6 14M9 2.5C9 4.5 11 5 12 6.5C11 8 9.5 8 10 10C10.5 11.5 12 12 12.5 12.5" fill="none" stroke="#555" stroke-width="1.1"/></svg>
<svg class="abs" style="left:204px;top:360px" width="16" height="16" viewBox="0 0 16 16"><path d="M4.8 7.5V5A3.2 3.2 0 0 1 11.2 5V7.5" fill="none" stroke="#555" stroke-width="1.3"/><rect x="2.8" y="7.5" width="10.4" height="7" fill="none" stroke="#555" stroke-width="1.3"/><line x1="8" y1="9.8" x2="8" y2="12" stroke="#555" stroke-width="1.3"/></svg>
<svg class="abs" style="left:285px;top:141.5px" width="9" height="9" viewBox="0 0 9 9"><circle cx="4.5" cy="4.5" r="3.9" fill="none" stroke="#888" stroke-width="0.8"/><line x1="4.5" y1="3.8" x2="4.5" y2="6.8" stroke="#888" stroke-width="0.9"/><circle cx="4.5" cy="2.5" r="0.5" fill="#888"/></svg>
<svg class="abs" style="left:313.5px;top:153.5px" width="9" height="9" viewBox="0 0 9 9"><circle cx="4.5" cy="4.5" r="3.9" fill="none" stroke="#888" stroke-width="0.8"/><line x1="4.5" y1="3.8" x2="4.5" y2="6.8" stroke="#888" stroke-width="0.9"/><circle cx="4.5" cy="2.5" r="0.5" fill="#888"/></svg>
<svg class="abs" style="left:206px;top:139px" width="24" height="24" viewBox="0 0 24 24"><circle cx="12" cy="12" r="12" fill="#f1f1f1"/><circle cx="12" cy="9.5" r="4.2" fill="#fbfbfb"/><path d="M4.5 20C6 15.5 9 14.5 12 14.5S18 15.5 19.5 20A11 11 0 0 1 4.5 20Z" fill="#fbfbfb"/></svg>
</body></html>
